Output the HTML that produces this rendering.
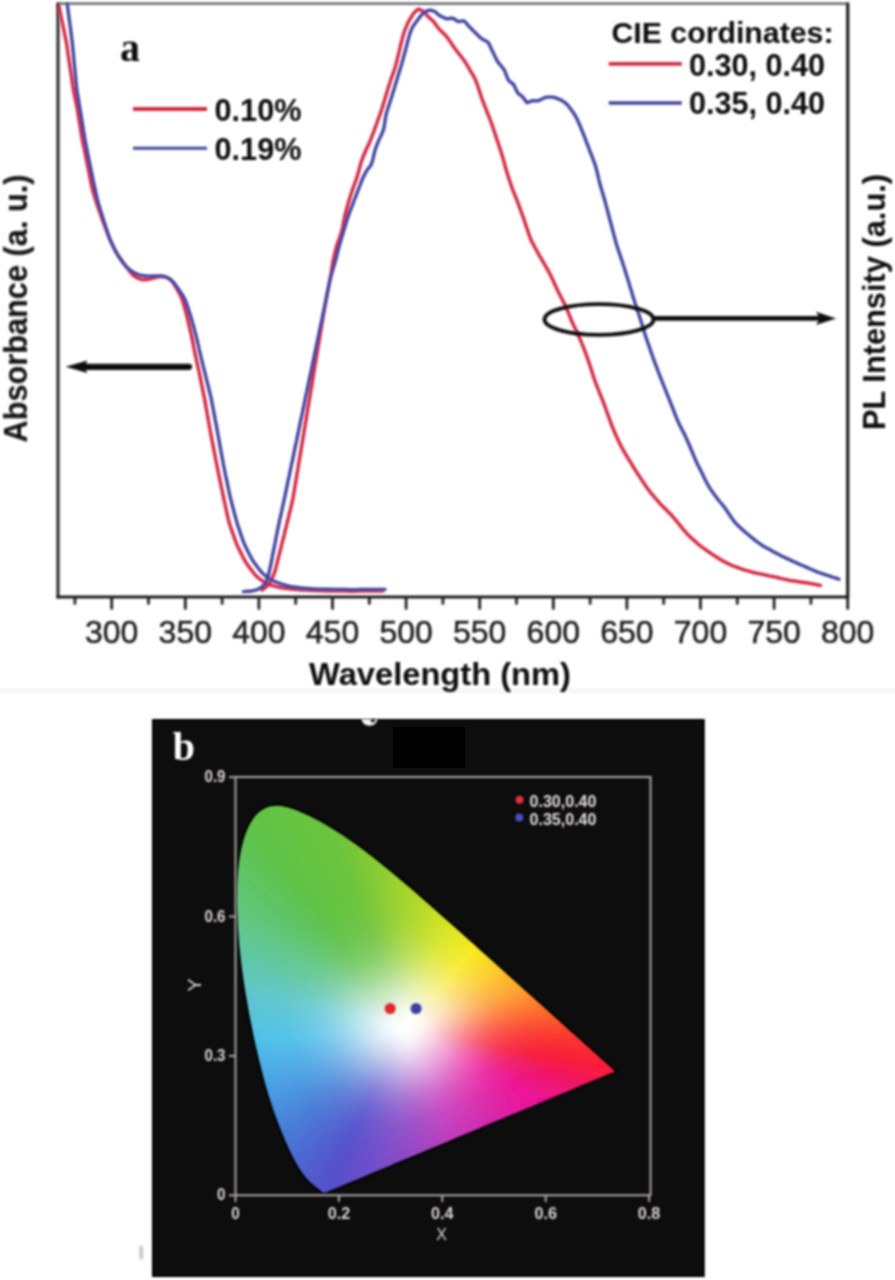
<!DOCTYPE html><html><head><meta charset="utf-8"><style>
html,body{margin:0;padding:0;background:#fff;width:895px;height:1280px;overflow:hidden}
svg{display:block;position:absolute;left:0;top:0}
text{font-family:"Liberation Sans",sans-serif}
</style></head><body>
<svg width="895" height="1280" viewBox="0 0 895 1280">
<defs><filter id="bl" filterUnits="userSpaceOnUse" x="0" y="0" width="895" height="1280"><feGaussianBlur stdDeviation="1"/></filter>
<filter id="bl3" filterUnits="userSpaceOnUse" x="0" y="0" width="895" height="1280"><feGaussianBlur stdDeviation="1"/></filter>
<filter id="blc" filterUnits="userSpaceOnUse" x="0" y="0" width="895" height="1280"><feGaussianBlur stdDeviation="1"/></filter>
<filter id="bl2" filterUnits="userSpaceOnUse" x="0" y="0" width="895" height="1280"><feGaussianBlur stdDeviation="1.2"/></filter>
<clipPath id="hs"><path d="M324.3,1193.1 L324.3,1193.1 L324.2,1193.1 L324.2,1193.1 L324.1,1193.1 L324.1,1193.1 L324.0,1193.0 L323.9,1193.0 L323.9,1193.0 L323.8,1193.0 L323.7,1192.9 L323.6,1192.9 L323.5,1192.8 L323.4,1192.7 L323.3,1192.7 L323.1,1192.6 L323.0,1192.5 L322.9,1192.4 L322.7,1192.3 L322.6,1192.2 L322.4,1192.1 L322.2,1191.9 L322.0,1191.8 L321.8,1191.6 L321.6,1191.5 L321.4,1191.3 L321.1,1191.1 L320.9,1190.9 L320.6,1190.7 L320.4,1190.4 L320.1,1190.2 L319.8,1190.0 L319.5,1189.7 L319.1,1189.4 L318.8,1189.2 L318.4,1188.9 L318.0,1188.5 L317.5,1188.2 L317.0,1187.8 L316.6,1187.4 L316.0,1187.0 L315.5,1186.6 L315.0,1186.2 L314.4,1185.7 L313.8,1185.2 L313.1,1184.7 L312.5,1184.1 L311.8,1183.5 L311.0,1182.9 L310.3,1182.2 L309.5,1181.4 L308.7,1180.7 L307.9,1179.8 L307.0,1178.9 L306.1,1177.8 L305.1,1176.7 L304.1,1175.3 L303.0,1173.8 L301.8,1172.2 L300.5,1170.3 L299.2,1168.3 L297.9,1166.1 L296.4,1163.6 L294.9,1161.0 L293.4,1158.0 L291.7,1154.8 L290.0,1151.2 L288.2,1147.3 L286.3,1143.0 L284.3,1138.4 L282.2,1133.3 L280.0,1127.9 L277.7,1122.0 L275.4,1115.7 L273.0,1108.9 L270.6,1101.6 L268.1,1093.8 L265.7,1085.5 L263.3,1076.7 L260.9,1067.3 L258.5,1057.5 L256.1,1047.3 L253.7,1036.5 L251.5,1025.5 L249.2,1014.1 L247.2,1002.6 L245.2,990.8 L243.4,979.0 L241.8,967.2 L240.4,955.5 L239.2,943.9 L238.3,932.4 L237.6,921.3 L237.1,910.4 L236.9,899.8 L237.0,889.5 L237.4,879.6 L238.1,870.2 L239.2,861.2 L240.5,852.8 L242.2,845.0 L244.2,837.8 L246.5,831.2 L249.1,825.4 L252.0,820.4 L255.1,816.1 L258.5,812.6 L262.0,809.9 L265.7,807.9 L269.5,806.6 L273.5,805.9 L277.5,805.8 L281.6,806.1 L285.7,806.9 L289.9,808.1 L294.1,809.5 L298.3,811.1 L302.6,812.9 L306.8,814.8 L310.9,816.8 L315.1,818.9 L319.1,821.1 L323.1,823.3 L327.1,825.6 L331.0,827.9 L334.8,830.3 L338.7,832.7 L342.5,835.2 L346.3,837.8 L350.0,840.4 L353.8,843.0 L357.6,845.8 L361.3,848.5 L365.1,851.3 L368.8,854.2 L372.6,857.1 L376.3,860.0 L380.0,862.9 L383.7,865.9 L387.4,868.9 L391.1,872.0 L394.8,875.1 L398.5,878.2 L402.2,881.3 L405.9,884.4 L409.6,887.6 L413.3,890.8 L417.0,894.0 L420.7,897.2 L424.4,900.4 L428.1,903.7 L431.8,906.9 L435.5,910.2 L439.1,913.4 L442.8,916.7 L446.5,920.0 L450.2,923.2 L453.9,926.5 L457.5,929.7 L461.2,933.0 L464.8,936.3 L468.4,939.5 L472.1,942.7 L475.7,946.0 L479.2,949.2 L482.8,952.4 L486.3,955.5 L489.8,958.7 L493.3,961.8 L496.8,965.0 L500.2,968.1 L503.6,971.1 L507.0,974.2 L510.4,977.2 L513.7,980.2 L516.9,983.1 L520.2,986.0 L523.4,988.9 L526.5,991.7 L529.6,994.5 L532.7,997.2 L535.7,999.9 L538.6,1002.6 L541.5,1005.1 L544.3,1007.7 L547.0,1010.1 L549.6,1012.5 L552.2,1014.8 L554.7,1017.0 L557.1,1019.2 L559.5,1021.3 L561.8,1023.4 L564.1,1025.5 L566.3,1027.4 L568.4,1029.4 L570.4,1031.2 L572.4,1033.0 L574.3,1034.6 L576.1,1036.3 L577.9,1037.8 L579.6,1039.3 L581.2,1040.8 L582.7,1042.2 L584.2,1043.5 L585.6,1044.8 L587.0,1046.0 L588.2,1047.2 L589.5,1048.3 L590.7,1049.3 L591.8,1050.4 L592.9,1051.3 L593.9,1052.2 L594.9,1053.1 L595.8,1054.0 L596.7,1054.8 L597.6,1055.5 L598.4,1056.3 L599.2,1057.0 L599.9,1057.6 L600.6,1058.3 L601.3,1058.9 L602.0,1059.5 L602.7,1060.1 L603.3,1060.7 L603.9,1061.3 L604.5,1061.8 L605.1,1062.3 L605.6,1062.8 L606.1,1063.2 L606.6,1063.7 L607.1,1064.1 L607.5,1064.5 L608.0,1064.9 L608.4,1065.3 L608.8,1065.6 L609.2,1065.9 L609.5,1066.3 L609.8,1066.5 L610.1,1066.8 L610.4,1067.1 L610.7,1067.3 L611.0,1067.6 L611.2,1067.8 L611.4,1068.0 L611.7,1068.2 L611.9,1068.4 L612.1,1068.6 L612.3,1068.8 L612.4,1068.9 L612.6,1069.1 L612.8,1069.2 L612.9,1069.3 L613.1,1069.5 L613.2,1069.6 L613.3,1069.7 L613.4,1069.8 L613.6,1069.9 L613.7,1070.0 L613.8,1070.1 L613.9,1070.2 L613.9,1070.3 L614.0,1070.3 L614.1,1070.4 L614.2,1070.5 L614.2,1070.5 L614.3,1070.6 L614.3,1070.6 L614.4,1070.7 L614.4,1070.7 L614.5,1070.8 L614.5,1070.8 L614.6,1070.8 L614.6,1070.9 L614.6,1070.9 L614.7,1070.9 L614.7,1071.0 L614.7,1071.0 L614.8,1071.0 L614.8,1071.0 L614.8,1071.1 L614.9,1071.1 L614.9,1071.1 L614.9,1071.1 L614.9,1071.2 L615.0,1071.2 L615.0,1071.2 L615.0,1071.3 L615.1,1071.3 L615.1,1071.3 L615.2,1071.4 L615.2,1071.4 L607.9,1074.4 L600.7,1077.5 L593.4,1080.5 L586.1,1083.6 L578.8,1086.6 L571.6,1089.7 L564.3,1092.7 L557.0,1095.7 L549.8,1098.8 L542.5,1101.8 L535.2,1104.9 L527.9,1107.9 L520.7,1110.9 L513.4,1114.0 L506.1,1117.0 L498.9,1120.1 L491.6,1123.1 L484.3,1126.1 L477.0,1129.2 L469.8,1132.2 L462.5,1135.3 L455.2,1138.3 L447.9,1141.4 L440.7,1144.4 L433.4,1147.4 L426.1,1150.5 L418.9,1153.5 L411.6,1156.6 L404.3,1159.6 L397.0,1162.6 L389.8,1165.7 L382.5,1168.7 L375.2,1171.8 L368.0,1174.8 L360.7,1177.9 L353.4,1180.9 L346.1,1183.9 L338.9,1187.0 L331.6,1190.0 Z"/></clipPath>
</defs>
<rect x="0" y="688" width="895" height="5.5" fill="#f8f8f8"/>
<g filter="url(#bl)">
<line x1="57" y1="3.6" x2="848" y2="3.6" stroke="#777" stroke-width="2.8"/>
<line x1="58" y1="2.5" x2="58" y2="598.5" stroke="#333" stroke-width="3.2"/>
<line x1="847.7" y1="2.5" x2="847.7" y2="598.5" stroke="#1e1c1b" stroke-width="3.2"/>
<line x1="56.5" y1="597" x2="849" y2="597" stroke="#1e1e1e" stroke-width="3.2"/>
<line x1="111.7" y1="597" x2="111.7" y2="609.5" stroke="#222" stroke-width="2.8"/>
<text x="111.7" y="642.5" font-size="32" fill="#222" stroke="#222" stroke-width="0.5" text-anchor="middle">300</text>
<line x1="185.3" y1="597" x2="185.3" y2="609.5" stroke="#222" stroke-width="2.8"/>
<text x="185.3" y="642.5" font-size="32" fill="#222" stroke="#222" stroke-width="0.5" text-anchor="middle">350</text>
<line x1="258.9" y1="597" x2="258.9" y2="609.5" stroke="#222" stroke-width="2.8"/>
<text x="258.9" y="642.5" font-size="32" fill="#222" stroke="#222" stroke-width="0.5" text-anchor="middle">400</text>
<line x1="332.5" y1="597" x2="332.5" y2="609.5" stroke="#222" stroke-width="2.8"/>
<text x="332.5" y="642.5" font-size="32" fill="#222" stroke="#222" stroke-width="0.5" text-anchor="middle">450</text>
<line x1="406.1" y1="597" x2="406.1" y2="609.5" stroke="#222" stroke-width="2.8"/>
<text x="406.1" y="642.5" font-size="32" fill="#222" stroke="#222" stroke-width="0.5" text-anchor="middle">500</text>
<line x1="479.7" y1="597" x2="479.7" y2="609.5" stroke="#222" stroke-width="2.8"/>
<text x="479.7" y="642.5" font-size="32" fill="#222" stroke="#222" stroke-width="0.5" text-anchor="middle">550</text>
<line x1="553.3" y1="597" x2="553.3" y2="609.5" stroke="#222" stroke-width="2.8"/>
<text x="553.3" y="642.5" font-size="32" fill="#222" stroke="#222" stroke-width="0.5" text-anchor="middle">600</text>
<line x1="626.9" y1="597" x2="626.9" y2="609.5" stroke="#222" stroke-width="2.8"/>
<text x="626.9" y="642.5" font-size="32" fill="#222" stroke="#222" stroke-width="0.5" text-anchor="middle">650</text>
<line x1="700.5" y1="597" x2="700.5" y2="609.5" stroke="#222" stroke-width="2.8"/>
<text x="700.5" y="642.5" font-size="32" fill="#222" stroke="#222" stroke-width="0.5" text-anchor="middle">700</text>
<line x1="774.1" y1="597" x2="774.1" y2="609.5" stroke="#222" stroke-width="2.8"/>
<text x="774.1" y="642.5" font-size="32" fill="#222" stroke="#222" stroke-width="0.5" text-anchor="middle">750</text>
<line x1="847.7" y1="597" x2="847.7" y2="609.5" stroke="#222" stroke-width="2.8"/>
<text x="847.7" y="642.5" font-size="32" fill="#222" stroke="#222" stroke-width="0.5" text-anchor="middle">800</text>
<line x1="74.9" y1="597" x2="74.9" y2="604.5" stroke="#222" stroke-width="2.8"/>
<line x1="148.5" y1="597" x2="148.5" y2="604.5" stroke="#222" stroke-width="2.8"/>
<line x1="222.1" y1="597" x2="222.1" y2="604.5" stroke="#222" stroke-width="2.8"/>
<line x1="295.7" y1="597" x2="295.7" y2="604.5" stroke="#222" stroke-width="2.8"/>
<line x1="369.3" y1="597" x2="369.3" y2="604.5" stroke="#222" stroke-width="2.8"/>
<line x1="442.9" y1="597" x2="442.9" y2="604.5" stroke="#222" stroke-width="2.8"/>
<line x1="516.5" y1="597" x2="516.5" y2="604.5" stroke="#222" stroke-width="2.8"/>
<line x1="590.1" y1="597" x2="590.1" y2="604.5" stroke="#222" stroke-width="2.8"/>
<line x1="663.7" y1="597" x2="663.7" y2="604.5" stroke="#222" stroke-width="2.8"/>
<line x1="737.3" y1="597" x2="737.3" y2="604.5" stroke="#222" stroke-width="2.8"/>
<line x1="810.9" y1="597" x2="810.9" y2="604.5" stroke="#222" stroke-width="2.8"/>
<text x="309" y="684.5" font-size="31" font-weight="bold" fill="#0a0a0a" textLength="262" lengthAdjust="spacingAndGlyphs">Wavelength (nm)</text>
<text transform="translate(27,442.5) rotate(-90)" x="0" y="0" font-size="32.5" font-weight="bold" fill="#0a0a0a" textLength="268" lengthAdjust="spacingAndGlyphs">Absorbance (a. u.)</text>
<text transform="translate(884.5,430) rotate(-90)" x="0" y="0" font-size="32" font-weight="bold" fill="#0a0a0a" textLength="256" lengthAdjust="spacingAndGlyphs">PL Intensity (a.u.)</text>
<text x="120" y="61.2" font-family="Liberation Serif" font-size="40" font-weight="bold" fill="#111" style="font-family:'Liberation Serif',serif">a</text>
<line x1="133" y1="109" x2="207" y2="109" stroke="#d42c44" stroke-width="3.8"/>
<line x1="133" y1="148.3" x2="207" y2="148.3" stroke="#40449f" stroke-width="3"/>
<text x="214.5" y="120.5" font-size="31.5" font-weight="bold" fill="#0a0a0a" textLength="87" lengthAdjust="spacingAndGlyphs">0.10%</text>
<text x="214.5" y="160" font-size="31.5" font-weight="bold" fill="#0a0a0a" textLength="87" lengthAdjust="spacingAndGlyphs">0.19%</text>
<text x="611.5" y="43" font-size="30" font-weight="bold" fill="#0a0a0a" textLength="222" lengthAdjust="spacingAndGlyphs">CIE cordinates:</text>
<line x1="608.7" y1="63.9" x2="681.8" y2="63.9" stroke="#d42c44" stroke-width="3.8"/>
<line x1="608.7" y1="103" x2="681.8" y2="103" stroke="#40449f" stroke-width="3.4"/>
<text x="689" y="75.5" font-size="31" font-weight="bold" fill="#0a0a0a" textLength="136" lengthAdjust="spacingAndGlyphs">0.30, 0.40</text>
<text x="689" y="114.3" font-size="31" font-weight="bold" fill="#0a0a0a" textLength="136" lengthAdjust="spacingAndGlyphs">0.35, 0.40</text>
</g><g filter="url(#blc)">
<path d="M58.9,6.7 L59.3,8.7 L59.7,10.6 L60.2,12.6 L60.6,14.5 L61.0,16.5 L61.4,18.4 L61.8,20.4 L62.2,22.4 L62.7,24.3 L63.1,26.3 L63.5,28.2 L63.9,30.2 L64.3,32.1 L64.7,34.1 L65.1,36.1 L65.5,38.0 L65.9,40.0 L66.3,42.0 L66.6,43.9 L66.9,45.9 L67.2,47.9 L67.5,49.9 L67.8,51.9 L68.0,53.8 L68.3,55.8 L68.6,57.8 L68.9,59.8 L69.2,61.8 L69.5,63.7 L69.8,65.7 L70.1,67.7 L70.4,69.7 L70.7,71.7 L71.0,73.6 L71.3,75.6 L71.6,77.6 L71.9,79.6 L72.1,81.5 L72.4,83.5 L72.7,85.5 L73.1,87.5 L73.4,89.5 L73.7,91.4 L74.1,93.4 L74.5,95.4 L74.9,97.3 L75.3,99.3 L75.7,101.2 L76.1,103.2 L76.5,105.2 L76.9,107.1 L77.3,109.1 L77.6,111.1 L78.0,113.0 L78.3,115.0 L78.6,117.0 L78.9,119.0 L79.2,120.9 L79.6,122.9 L79.9,124.9 L80.2,126.9 L80.5,128.8 L80.8,130.8 L81.1,132.8 L81.5,134.8 L81.8,136.7 L82.1,138.7 L82.5,140.7 L82.9,142.6 L83.3,144.6 L83.7,146.6 L84.1,148.5 L84.5,150.5 L84.9,152.4 L85.3,154.4 L85.7,156.4 L86.1,158.3 L86.5,160.3 L86.9,162.2 L87.3,164.2 L87.7,166.2 L88.1,168.1 L88.5,170.1 L88.9,172.1 L89.3,174.0 L89.7,176.0 L90.0,177.9 L90.4,179.9 L90.8,181.9 L91.2,183.8 L91.6,185.8 L92.0,187.7 L92.5,189.7 L93.0,191.6 L93.6,193.5 L94.2,195.5 L94.8,197.4 L95.4,199.3 L96.0,201.2 L96.6,203.1 L97.2,205.0 L97.9,206.9 L98.5,208.8 L99.2,210.6 L99.9,212.5 L100.5,214.4 L101.2,216.3 L101.9,218.2 L102.5,220.1 L103.2,222.0 L103.9,223.8 L104.6,225.7 L105.3,227.6 L106.0,229.5 L106.7,231.3 L107.4,233.2 L108.1,235.1 L108.9,236.9 L109.6,238.8 L110.4,240.6 L111.3,242.4 L112.1,244.2 L113.0,246.0 L113.9,247.8 L114.8,249.6 L115.8,251.4 L116.7,253.1 L117.8,254.8 L118.9,256.5 L120.0,258.1 L121.2,259.8 L122.3,261.4 L123.5,263.0 L124.7,264.6 L125.9,266.2 L127.0,267.8 L128.2,269.4 L129.5,271.0 L130.7,272.6 L132.0,274.1 L133.4,275.4 L134.9,276.6 L136.6,277.6 L138.4,278.4 L140.2,279.1 L142.1,279.5 L144.0,279.7 L145.9,279.7 L147.8,279.4 L149.8,279.0 L151.7,278.5 L153.7,278.0 L155.6,277.5 L157.5,277.1 L159.4,276.7 L161.4,276.6 L163.3,276.7 L165.2,277.1 L167.0,277.7 L168.8,278.5 L170.3,279.6 L171.7,280.9 L172.9,282.4 L174.0,284.1 L175.0,285.8 L176.0,287.5 L177.0,289.2 L178.0,291.0 L179.0,292.7 L179.9,294.5 L180.8,296.3 L181.6,298.1 L182.3,299.9 L183.0,301.8 L183.5,303.7 L184.1,305.7 L184.6,307.6 L185.1,309.5 L185.7,311.5 L186.2,313.4 L186.7,315.3 L187.2,317.3 L187.7,319.2 L188.1,321.2 L188.6,323.1 L189.0,325.0 L189.5,327.0 L189.9,329.0 L190.4,330.9 L190.8,332.9 L191.3,334.8 L191.7,336.8 L192.1,338.7 L192.5,340.7 L192.9,342.6 L193.3,344.6 L193.6,346.6 L194.0,348.5 L194.4,350.5 L194.8,352.5 L195.2,354.4 L195.6,356.4 L196.1,358.3 L196.5,360.3 L196.9,362.2 L197.4,364.2 L197.8,366.1 L198.2,368.1 L198.7,370.1 L199.1,372.0 L199.5,374.0 L199.9,375.9 L200.3,377.9 L200.7,379.8 L201.1,381.8 L201.5,383.8 L201.9,385.7 L202.3,387.7 L202.7,389.7 L203.1,391.6 L203.5,393.6 L203.9,395.5 L204.3,397.5 L204.7,399.5 L205.0,401.4 L205.4,403.4 L205.7,405.4 L206.1,407.3 L206.4,409.3 L206.8,411.3 L207.1,413.3 L207.5,415.2 L207.8,417.2 L208.2,419.2 L208.5,421.1 L208.9,423.1 L209.2,425.1 L209.6,427.1 L209.9,429.0 L210.3,431.0 L210.6,433.0 L211.0,434.9 L211.4,436.9 L211.8,438.9 L212.1,440.8 L212.5,442.8 L212.9,444.8 L213.3,446.7 L213.6,448.7 L214.0,450.7 L214.4,452.6 L214.8,454.6 L215.2,456.5 L215.5,458.5 L215.9,460.5 L216.3,462.4 L216.7,464.4 L217.1,466.4 L217.5,468.3 L217.9,470.3 L218.3,472.3 L218.7,474.2 L219.1,476.2 L219.5,478.1 L219.9,480.1 L220.3,482.0 L220.7,484.0 L221.1,486.0 L221.5,487.9 L222.0,489.9 L222.4,491.8 L222.8,493.8 L223.2,495.8 L223.6,497.7 L224.0,499.7 L224.4,501.6 L224.9,503.6 L225.3,505.5 L225.7,507.5 L226.1,509.5 L226.5,511.4 L227.0,513.4 L227.4,515.3 L227.8,517.3 L228.3,519.2 L228.8,521.2 L229.3,523.1 L229.9,525.0 L230.5,526.9 L231.2,528.8 L231.9,530.7 L232.5,532.6 L233.2,534.4 L233.9,536.3 L234.5,538.2 L235.2,540.1 L235.9,542.0 L236.6,543.8 L237.4,545.7 L238.2,547.5 L239.1,549.3 L240.0,551.1 L240.9,552.9 L241.8,554.7 L242.7,556.5 L243.6,558.2 L244.5,560.0 L245.5,561.7 L246.6,563.4 L247.7,565.1 L248.9,566.7 L250.1,568.3 L251.3,569.9 L252.5,571.5 L253.7,573.0 L255.0,574.6 L256.3,576.0 L257.8,577.4 L259.3,578.6 L260.9,579.8 L262.6,580.9 L264.3,582.0 L266.0,583.0 L267.7,583.9 L269.5,584.6 L271.4,585.3 L273.3,585.9 L275.3,586.4 L277.2,586.9 L279.1,587.3 L281.1,587.7 L283.1,588.1 L285.0,588.3 L287.0,588.6 L289.0,588.8 L291.0,589.0 L293.0,589.2 L295.0,589.4 L297.0,589.6 L299.0,589.8 L301.0,589.9 L303.0,590.0 L305.0,590.1 L307.0,590.2 L309.0,590.3 L311.0,590.4 L313.0,590.5 L315.0,590.6 L317.0,590.6 L319.0,590.7 L321.0,590.8 L323.0,590.8 L325.0,590.9 L327.0,590.9 L329.0,590.9 L331.0,590.9 L333.0,591.0 L335.0,591.0 L337.0,591.0 L339.0,591.1 L341.0,591.1 L343.0,591.1 L345.0,591.1 L347.0,591.2 L349.0,591.2 L351.0,591.2 L353.0,591.2 L355.0,591.2 L357.0,591.2 L359.0,591.1 L361.0,591.1 L363.0,591.1 L365.0,591.1 L367.0,591.1 L369.0,591.1 L371.0,591.1 L373.0,591.1 L375.0,591.0 L377.0,591.0 L379.0,591.0 L381.0,591.0 L383.0,591.0 L383.0,591.0" fill="none" stroke="#d42c44" stroke-width="3.5" stroke-linejoin="round" stroke-linecap="round"/>
<path d="M262.0,590.0 L263.6,588.8 L265.2,587.6 L266.7,586.4 L268.1,585.0 L269.3,583.5 L270.4,581.9 L271.3,580.1 L272.1,578.3 L272.9,576.5 L273.7,574.7 L274.4,572.8 L275.0,570.9 L275.6,569.0 L276.1,567.1 L276.6,565.1 L277.1,563.2 L277.6,561.2 L278.0,559.3 L278.5,557.4 L279.0,555.4 L279.5,553.5 L280.0,551.5 L280.5,549.6 L281.0,547.7 L281.4,545.7 L281.9,543.8 L282.4,541.8 L282.9,539.9 L283.4,538.0 L283.9,536.0 L284.4,534.1 L284.8,532.1 L285.3,530.2 L285.8,528.3 L286.3,526.3 L286.8,524.4 L287.2,522.4 L287.7,520.5 L288.2,518.5 L288.7,516.6 L289.1,514.6 L289.6,512.7 L290.1,510.8 L290.6,508.8 L291.0,506.9 L291.5,504.9 L291.9,503.0 L292.4,501.0 L292.8,499.1 L293.2,497.1 L293.5,495.1 L293.8,493.2 L294.2,491.2 L294.5,489.2 L294.8,487.2 L295.1,485.3 L295.5,483.3 L295.8,481.3 L296.1,479.4 L296.5,477.4 L296.8,475.4 L297.1,473.4 L297.4,471.5 L297.8,469.5 L298.1,467.5 L298.4,465.5 L298.7,463.6 L299.1,461.6 L299.4,459.6 L299.7,457.6 L300.1,455.7 L300.4,453.7 L300.7,451.7 L301.0,449.8 L301.4,447.8 L301.7,445.8 L302.0,443.8 L302.4,441.9 L302.7,439.9 L303.0,437.9 L303.3,435.9 L303.7,434.0 L304.0,432.0 L304.3,430.0 L304.6,428.0 L305.0,426.1 L305.3,424.1 L305.6,422.1 L306.0,420.1 L306.3,418.2 L306.6,416.2 L306.9,414.2 L307.3,412.3 L307.6,410.3 L307.9,408.3 L308.2,406.3 L308.6,404.4 L308.9,402.4 L309.2,400.4 L309.6,398.4 L309.9,396.5 L310.2,394.5 L310.5,392.5 L310.9,390.5 L311.2,388.6 L311.5,386.6 L311.9,384.6 L312.2,382.7 L312.5,380.7 L312.8,378.7 L313.2,376.7 L313.5,374.8 L313.8,372.8 L314.1,370.8 L314.5,368.8 L314.8,366.9 L315.1,364.9 L315.5,362.9 L315.8,360.9 L316.1,359.0 L316.4,357.0 L316.8,355.0 L317.1,353.1 L317.4,351.1 L317.7,349.1 L318.1,347.1 L318.4,345.2 L318.7,343.2 L319.1,341.2 L319.4,339.2 L319.7,337.3 L320.0,335.3 L320.4,333.3 L320.7,331.3 L321.0,329.4 L321.4,327.4 L321.7,325.4 L322.0,323.4 L322.3,321.5 L322.7,319.5 L323.0,317.5 L323.3,315.6 L323.6,313.6 L324.0,311.6 L324.3,309.6 L324.6,307.7 L325.0,305.7 L325.3,303.7 L325.6,301.7 L326.0,299.8 L326.4,297.8 L326.7,295.8 L327.1,293.9 L327.5,291.9 L327.9,290.0 L328.3,288.0 L328.7,286.0 L329.1,284.1 L329.5,282.1 L329.9,280.2 L330.2,278.2 L330.6,276.2 L330.9,274.2 L331.2,272.3 L331.5,270.3 L331.8,268.3 L332.1,266.3 L332.5,264.4 L332.8,262.4 L333.2,260.4 L333.6,258.5 L334.0,256.5 L334.5,254.6 L334.9,252.6 L335.4,250.7 L335.9,248.7 L336.4,246.8 L337.0,244.9 L337.6,243.0 L338.3,241.1 L339.0,239.3 L339.7,237.4 L340.3,235.5 L341.0,233.6 L341.5,231.7 L342.0,229.8 L342.5,227.8 L342.9,225.9 L343.3,223.9 L343.6,221.9 L344.0,220.0 L344.4,218.0 L344.8,216.0 L345.3,214.1 L345.8,212.2 L346.3,210.2 L346.8,208.3 L347.3,206.4 L347.9,204.4 L348.4,202.5 L349.0,200.6 L349.6,198.7 L350.2,196.8 L350.8,194.9 L351.4,193.0 L352.0,191.1 L352.7,189.2 L353.3,187.3 L354.0,185.4 L354.7,183.5 L355.4,181.7 L356.1,179.8 L356.7,177.9 L357.3,176.0 L357.9,174.1 L358.4,172.1 L359.0,170.2 L359.5,168.3 L360.0,166.3 L360.5,164.4 L361.1,162.5 L361.7,160.6 L362.4,158.7 L363.1,156.9 L363.9,155.0 L364.7,153.2 L365.4,151.3 L366.2,149.5 L367.0,147.7 L367.9,145.9 L368.8,144.1 L369.6,142.3 L370.4,140.4 L371.1,138.5 L371.8,136.7 L372.5,134.8 L373.3,132.9 L374.0,131.1 L374.6,129.2 L375.3,127.3 L376.0,125.4 L376.7,123.5 L377.3,121.7 L378.0,119.8 L378.7,117.9 L379.4,116.0 L380.1,114.1 L380.7,112.2 L381.4,110.4 L382.0,108.5 L382.6,106.6 L383.2,104.6 L383.8,102.7 L384.4,100.8 L384.9,98.9 L385.5,97.0 L386.1,95.1 L386.7,93.1 L387.2,91.2 L387.8,89.3 L388.4,87.4 L389.0,85.5 L389.6,83.6 L390.2,81.7 L390.8,79.8 L391.5,77.9 L392.2,76.0 L392.8,74.1 L393.5,72.2 L394.2,70.3 L394.8,68.5 L395.4,66.5 L395.9,64.6 L396.4,62.7 L396.9,60.7 L397.4,58.8 L397.8,56.9 L398.3,54.9 L398.8,53.0 L399.2,51.0 L399.7,49.1 L400.2,47.1 L400.6,45.2 L401.1,43.2 L401.6,41.3 L402.1,39.4 L402.6,37.4 L403.1,35.5 L403.7,33.6 L404.3,31.7 L405.0,29.8 L405.8,28.0 L406.5,26.1 L407.3,24.3 L408.1,22.4 L409.1,20.7 L410.1,19.0 L411.1,17.3 L412.2,15.6 L413.3,13.9 L414.5,12.4 L415.9,11.0 L417.4,9.6 L419.0,9.2 L420.7,10.0 L422.5,10.9 L424.1,12.0 L425.4,13.5 L426.7,15.0 L428.1,16.5 L429.5,17.9 L431.0,19.2 L432.5,20.5 L433.9,21.9 L435.1,23.5 L436.2,25.2 L437.4,26.8 L438.6,28.4 L440.0,29.9 L441.4,31.3 L442.8,32.7 L444.2,34.1 L445.6,35.5 L447.0,37.0 L448.1,38.6 L449.2,40.3 L450.4,41.9 L451.5,43.6 L452.6,45.2 L453.7,46.9 L454.9,48.5 L456.1,50.1 L457.3,51.7 L458.6,53.3 L459.8,54.9 L461.0,56.4 L462.2,58.0 L463.5,59.6 L464.6,61.2 L465.7,62.9 L466.7,64.6 L467.8,66.3 L468.8,68.0 L469.8,69.8 L470.8,71.5 L471.8,73.2 L472.9,74.9 L473.8,76.6 L474.8,78.4 L475.6,80.2 L476.3,82.1 L477.0,83.9 L477.7,85.8 L478.3,87.7 L479.0,89.6 L479.6,91.5 L480.2,93.4 L480.8,95.3 L481.4,97.2 L482.1,99.1 L482.8,101.0 L483.5,102.9 L484.2,104.7 L484.9,106.6 L485.7,108.4 L486.4,110.3 L487.2,112.2 L487.9,114.0 L488.6,115.9 L489.4,117.7 L490.1,119.6 L490.8,121.5 L491.5,123.3 L492.2,125.2 L492.8,127.1 L493.4,129.0 L494.1,130.9 L494.7,132.8 L495.3,134.7 L496.0,136.6 L496.6,138.5 L497.2,140.4 L497.9,142.3 L498.5,144.2 L499.1,146.1 L499.8,148.0 L500.4,149.9 L501.0,151.8 L501.6,153.7 L502.2,155.6 L502.8,157.5 L503.3,159.4 L503.9,161.4 L504.4,163.3 L504.9,165.2 L505.4,167.2 L506.0,169.1 L506.5,171.0 L507.1,172.9 L507.7,174.8 L508.3,176.8 L508.9,178.7 L509.6,180.6 L510.2,182.4 L510.8,184.3 L511.5,186.2 L512.1,188.1 L512.8,190.0 L513.6,191.9 L514.3,193.7 L515.1,195.6 L515.8,197.4 L516.6,199.3 L517.3,201.1 L518.0,203.0 L518.7,204.9 L519.4,206.8 L520.1,208.6 L520.8,210.5 L521.4,212.4 L522.1,214.3 L522.8,216.2 L523.5,218.1 L524.1,219.9 L524.7,221.8 L525.4,223.7 L526.0,225.6 L526.6,227.5 L527.3,229.4 L527.9,231.3 L528.5,233.2 L529.2,235.1 L529.9,237.0 L530.6,238.8 L531.4,240.7 L532.3,242.4 L533.2,244.2 L534.2,246.0 L535.1,247.7 L536.1,249.5 L537.0,251.3 L538.0,253.0 L539.0,254.8 L540.0,256.5 L541.0,258.2 L542.0,260.0 L543.0,261.7 L544.0,263.4 L545.0,265.1 L546.0,266.9 L547.0,268.6 L548.0,270.3 L548.9,272.1 L549.9,273.9 L550.8,275.6 L551.6,277.5 L552.5,279.3 L553.3,281.1 L554.1,282.9 L555.0,284.7 L555.8,286.5 L556.7,288.3 L557.5,290.2 L558.4,292.0 L559.3,293.7 L560.2,295.5 L561.1,297.3 L562.0,299.1 L562.9,300.9 L563.8,302.6 L564.7,304.4 L565.6,306.2 L566.4,308.1 L567.2,309.9 L568.0,311.7 L568.7,313.6 L569.5,315.5 L570.2,317.3 L571.0,319.2 L571.7,321.0 L572.5,322.8 L573.3,324.7 L574.2,326.5 L575.1,328.3 L576.0,330.1 L576.8,331.9 L577.7,333.7 L578.5,335.5 L579.3,337.3 L580.1,339.2 L580.9,341.0 L581.6,342.9 L582.4,344.7 L583.1,346.6 L583.8,348.4 L584.6,350.3 L585.3,352.2 L586.0,354.0 L586.6,355.9 L587.3,357.8 L588.0,359.7 L588.7,361.6 L589.3,363.5 L589.9,365.4 L590.6,367.3 L591.2,369.2 L591.7,371.1 L592.3,373.0 L592.9,374.9 L593.5,376.8 L594.2,378.7 L594.8,380.6 L595.5,382.5 L596.2,384.3 L597.0,386.2 L597.7,388.1 L598.5,389.9 L599.2,391.8 L599.9,393.6 L600.7,395.5 L601.4,397.4 L602.2,399.2 L602.9,401.1 L603.6,402.9 L604.3,404.8 L605.0,406.7 L605.7,408.6 L606.4,410.5 L607.0,412.3 L607.7,414.2 L608.4,416.1 L609.1,418.0 L609.8,419.9 L610.4,421.7 L611.1,423.6 L611.8,425.5 L612.6,427.3 L613.3,429.2 L614.1,431.0 L614.9,432.9 L615.7,434.7 L616.5,436.5 L617.4,438.4 L618.2,440.2 L619.0,442.0 L619.9,443.8 L620.8,445.6 L621.7,447.3 L622.7,449.1 L623.7,450.8 L624.7,452.5 L625.7,454.3 L626.7,456.0 L627.7,457.7 L628.8,459.4 L629.8,461.1 L630.9,462.9 L631.9,464.6 L632.9,466.3 L634.0,468.0 L635.1,469.7 L636.1,471.4 L637.2,473.0 L638.3,474.7 L639.4,476.4 L640.5,478.1 L641.6,479.7 L642.7,481.4 L643.8,483.1 L644.9,484.7 L646.0,486.4 L647.2,488.0 L648.4,489.6 L649.6,491.2 L650.8,492.8 L652.1,494.3 L653.4,495.8 L654.7,497.4 L656.0,498.9 L657.3,500.4 L658.6,501.9 L659.9,503.4 L661.3,504.9 L662.7,506.3 L664.1,507.7 L665.5,509.1 L666.9,510.5 L668.3,512.0 L669.8,513.4 L671.1,514.8 L672.5,516.3 L673.8,517.8 L675.1,519.3 L676.4,520.9 L677.6,522.4 L678.9,524.0 L680.1,525.6 L681.4,527.1 L682.6,528.7 L683.9,530.2 L685.2,531.7 L686.5,533.2 L687.9,534.7 L689.3,536.1 L690.8,537.4 L692.2,538.8 L693.7,540.1 L695.2,541.4 L696.7,542.8 L698.2,544.1 L699.8,545.3 L701.3,546.6 L702.9,547.8 L704.6,548.9 L706.2,550.1 L707.8,551.3 L709.5,552.4 L711.1,553.5 L712.8,554.6 L714.5,555.7 L716.1,556.8 L717.8,557.9 L719.6,558.9 L721.3,559.9 L723.0,560.9 L724.7,561.9 L726.5,562.9 L728.3,563.7 L730.1,564.6 L731.9,565.3 L733.8,566.1 L735.7,566.8 L737.5,567.5 L739.4,568.2 L741.3,568.8 L743.2,569.5 L745.1,570.1 L747.0,570.6 L748.9,571.2 L750.9,571.8 L752.8,572.3 L754.7,572.8 L756.7,573.2 L758.6,573.6 L760.6,574.0 L762.6,574.4 L764.5,574.8 L766.5,575.2 L768.4,575.7 L770.4,576.1 L772.3,576.5 L774.3,576.9 L776.3,577.3 L778.2,577.7 L780.2,578.2 L782.1,578.6 L784.1,579.1 L786.0,579.5 L788.0,580.0 L789.9,580.4 L791.9,580.7 L793.9,581.0 L795.8,581.3 L797.8,581.6 L799.8,581.9 L801.8,582.2 L803.8,582.5 L805.7,582.8 L807.7,583.1 L809.7,583.4 L811.6,583.8 L813.6,584.1 L815.6,584.5 L817.5,584.9 L819.5,585.2 L820.5,585.4" fill="none" stroke="#d42c44" stroke-width="3.5" stroke-linejoin="round" stroke-linecap="round"/>
<path d="M67.3,4.5 L67.6,6.5 L67.8,8.5 L68.1,10.5 L68.4,12.4 L68.6,14.4 L68.9,16.4 L69.1,18.4 L69.4,20.4 L69.7,22.4 L69.9,24.3 L70.2,26.3 L70.5,28.3 L70.7,30.3 L71.0,32.3 L71.2,34.3 L71.5,36.2 L71.7,38.2 L72.0,40.2 L72.2,42.2 L72.4,44.2 L72.6,46.2 L72.8,48.2 L73.0,50.2 L73.2,52.2 L73.4,54.2 L73.6,56.1 L73.7,58.1 L73.9,60.1 L74.1,62.1 L74.3,64.1 L74.5,66.1 L74.7,68.1 L74.9,70.1 L75.1,72.1 L75.3,74.1 L75.5,76.1 L75.7,78.1 L75.8,80.1 L76.0,82.0 L76.2,84.0 L76.4,86.0 L76.7,88.0 L76.9,90.0 L77.2,92.0 L77.5,94.0 L77.8,95.9 L78.1,97.9 L78.5,99.9 L78.8,101.9 L79.1,103.8 L79.5,105.8 L79.8,107.8 L80.1,109.7 L80.4,111.7 L80.8,113.7 L81.1,115.7 L81.4,117.6 L81.7,119.6 L82.1,121.6 L82.4,123.6 L82.7,125.5 L83.0,127.5 L83.3,129.5 L83.6,131.5 L84.0,133.5 L84.3,135.4 L84.6,137.4 L84.9,139.4 L85.3,141.3 L85.7,143.3 L86.1,145.3 L86.4,147.2 L86.8,149.2 L87.2,151.2 L87.6,153.1 L88.0,155.1 L88.4,157.0 L88.8,159.0 L89.2,161.0 L89.6,162.9 L90.0,164.9 L90.4,166.9 L90.8,168.8 L91.2,170.8 L91.6,172.7 L92.0,174.7 L92.4,176.7 L92.8,178.6 L93.2,180.6 L93.6,182.5 L94.1,184.5 L94.5,186.4 L94.9,188.4 L95.3,190.4 L95.7,192.3 L96.1,194.3 L96.6,196.2 L97.0,198.2 L97.5,200.1 L98.1,202.0 L98.6,204.0 L99.2,205.9 L99.8,207.8 L100.3,209.7 L100.9,211.6 L101.5,213.5 L102.1,215.5 L102.7,217.4 L103.3,219.3 L103.9,221.2 L104.5,223.1 L105.1,225.0 L105.7,226.9 L106.4,228.8 L107.0,230.7 L107.6,232.6 L108.3,234.5 L108.9,236.4 L109.6,238.3 L110.3,240.1 L111.1,242.0 L111.9,243.8 L112.8,245.6 L113.7,247.4 L114.6,249.2 L115.5,250.9 L116.4,252.7 L117.4,254.4 L118.4,256.1 L119.5,257.8 L120.7,259.4 L121.9,261.1 L123.0,262.7 L124.3,264.3 L125.5,265.8 L126.9,267.2 L128.4,268.5 L129.9,269.8 L131.5,271.0 L133.2,272.1 L134.8,273.1 L136.6,273.9 L138.4,274.6 L140.3,275.1 L142.3,275.5 L144.3,275.7 L146.2,276.0 L148.2,276.1 L150.2,276.1 L152.2,276.1 L154.2,276.0 L156.2,275.9 L158.2,275.9 L160.2,275.9 L162.1,276.0 L164.0,276.4 L165.9,277.0 L167.7,277.8 L169.4,278.7 L170.9,279.9 L172.3,281.2 L173.7,282.6 L174.9,284.2 L176.1,285.8 L177.3,287.4 L178.4,289.0 L179.6,290.7 L180.7,292.3 L181.8,294.0 L182.9,295.7 L183.9,297.4 L184.8,299.2 L185.6,301.0 L186.3,302.8 L186.9,304.7 L187.6,306.6 L188.2,308.5 L188.8,310.4 L189.4,312.3 L190.0,314.2 L190.6,316.1 L191.2,318.1 L191.8,320.0 L192.3,321.9 L192.8,323.8 L193.4,325.8 L193.9,327.7 L194.4,329.6 L194.9,331.6 L195.4,333.5 L195.9,335.4 L196.4,337.4 L196.9,339.3 L197.4,341.3 L197.8,343.2 L198.3,345.2 L198.7,347.1 L199.1,349.1 L199.6,351.0 L200.0,353.0 L200.5,354.9 L201.0,356.9 L201.4,358.8 L201.9,360.8 L202.4,362.7 L202.9,364.6 L203.3,366.6 L203.8,368.5 L204.3,370.5 L204.8,372.4 L205.3,374.4 L205.8,376.3 L206.2,378.2 L206.7,380.2 L207.2,382.1 L207.7,384.1 L208.2,386.0 L208.7,387.9 L209.1,389.9 L209.6,391.8 L210.1,393.8 L210.5,395.7 L211.0,397.7 L211.4,399.6 L211.8,401.6 L212.2,403.6 L212.5,405.5 L212.9,407.5 L213.3,409.5 L213.7,411.4 L214.0,413.4 L214.4,415.4 L214.8,417.3 L215.1,419.3 L215.5,421.3 L215.9,423.2 L216.3,425.2 L216.6,427.2 L217.0,429.1 L217.4,431.1 L217.7,433.1 L218.1,435.0 L218.4,437.0 L218.8,439.0 L219.1,440.9 L219.5,442.9 L219.8,444.9 L220.2,446.8 L220.6,448.8 L220.9,450.8 L221.3,452.8 L221.6,454.7 L222.0,456.7 L222.3,458.7 L222.7,460.6 L223.1,462.6 L223.4,464.6 L223.8,466.5 L224.2,468.5 L224.6,470.5 L225.0,472.4 L225.4,474.4 L225.8,476.3 L226.2,478.3 L226.7,480.2 L227.1,482.2 L227.5,484.2 L227.9,486.1 L228.3,488.1 L228.7,490.0 L229.1,492.0 L229.5,494.0 L230.0,495.9 L230.4,497.9 L230.9,499.8 L231.4,501.7 L231.9,503.7 L232.4,505.6 L232.9,507.6 L233.4,509.5 L233.9,511.4 L234.4,513.4 L235.0,515.3 L235.5,517.2 L236.0,519.2 L236.5,521.1 L237.1,523.0 L237.7,524.9 L238.3,526.8 L238.9,528.7 L239.6,530.6 L240.2,532.5 L240.8,534.4 L241.5,536.3 L242.1,538.2 L242.8,540.1 L243.5,541.9 L244.3,543.8 L245.1,545.6 L246.0,547.4 L246.9,549.2 L247.7,551.0 L248.6,552.8 L249.5,554.6 L250.5,556.3 L251.4,558.1 L252.4,559.8 L253.5,561.5 L254.6,563.1 L255.8,564.8 L257.0,566.4 L258.2,568.0 L259.4,569.5 L260.7,571.1 L262.0,572.6 L263.4,574.0 L264.8,575.3 L266.4,576.6 L268.0,577.8 L269.6,578.9 L271.3,579.9 L273.1,580.8 L274.9,581.6 L276.8,582.3 L278.6,583.0 L280.5,583.7 L282.4,584.3 L284.3,584.9 L286.2,585.5 L288.2,586.0 L290.1,586.4 L292.1,586.7 L294.1,587.0 L296.0,587.2 L298.0,587.5 L300.0,587.8 L302.0,588.0 L304.0,588.2 L306.0,588.4 L308.0,588.5 L310.0,588.6 L312.0,588.8 L314.0,588.9 L316.0,589.0 L318.0,589.1 L320.0,589.1 L322.0,589.2 L324.0,589.2 L326.0,589.3 L328.0,589.3 L330.0,589.3 L332.0,589.4 L334.0,589.4 L336.0,589.4 L338.0,589.4 L340.0,589.5 L342.0,589.5 L344.0,589.5 L346.0,589.5 L348.0,589.6 L350.0,589.6 L352.0,589.6 L354.0,589.6 L356.0,589.6 L358.0,589.6 L360.0,589.5 L362.0,589.5 L364.0,589.5 L366.0,589.5 L368.0,589.5 L370.0,589.5 L372.0,589.5 L374.0,589.5 L376.0,589.5 L378.0,589.4 L380.0,589.4 L382.0,589.4 L384.0,589.4 L385.0,589.4" fill="none" stroke="#40449f" stroke-width="3.4" stroke-linejoin="round" stroke-linecap="round"/>
<path d="M243.5,591.6 L245.5,591.5 L247.5,591.3 L249.5,591.2 L251.5,591.0 L253.4,590.6 L255.3,590.2 L257.2,589.6 L259.0,588.8 L260.7,587.8 L262.2,586.7 L263.6,585.3 L264.8,583.8 L265.9,582.2 L266.7,580.4 L267.4,578.6 L268.0,576.7 L268.5,574.8 L268.9,572.8 L269.4,570.9 L269.8,568.9 L270.3,567.0 L270.7,565.0 L271.1,563.0 L271.5,561.1 L271.9,559.1 L272.2,557.2 L272.6,555.2 L273.0,553.2 L273.4,551.3 L273.8,549.3 L274.2,547.3 L274.6,545.4 L275.0,543.4 L275.4,541.4 L275.7,539.5 L276.1,537.5 L276.5,535.6 L276.9,533.6 L277.3,531.6 L277.7,529.7 L278.1,527.7 L278.5,525.7 L278.9,523.8 L279.3,521.8 L279.7,519.9 L280.2,517.9 L280.6,516.0 L281.0,514.0 L281.5,512.1 L281.9,510.1 L282.3,508.1 L282.7,506.2 L283.2,504.2 L283.6,502.3 L284.0,500.3 L284.4,498.4 L284.9,496.4 L285.3,494.4 L285.7,492.5 L286.1,490.5 L286.5,488.6 L286.9,486.6 L287.3,484.7 L287.7,482.7 L288.1,480.7 L288.6,478.8 L289.0,476.8 L289.4,474.9 L289.8,472.9 L290.2,470.9 L290.6,469.0 L291.0,467.0 L291.4,465.1 L291.8,463.1 L292.3,461.2 L292.7,459.2 L293.1,457.2 L293.5,455.3 L293.9,453.3 L294.3,451.4 L294.7,449.4 L295.1,447.4 L295.5,445.5 L295.9,443.5 L296.4,441.6 L296.8,439.6 L297.2,437.6 L297.6,435.7 L298.0,433.7 L298.4,431.8 L298.8,429.8 L299.2,427.8 L299.6,425.9 L300.0,423.9 L300.4,422.0 L300.8,420.0 L301.2,418.0 L301.7,416.1 L302.1,414.1 L302.5,412.2 L302.9,410.2 L303.3,408.3 L303.7,406.3 L304.1,404.3 L304.5,402.4 L304.9,400.4 L305.3,398.5 L305.7,396.5 L306.1,394.5 L306.6,392.6 L307.0,390.6 L307.4,388.7 L307.8,386.7 L308.2,384.7 L308.6,382.8 L309.0,380.8 L309.4,378.9 L309.8,376.9 L310.3,375.0 L310.7,373.0 L311.1,371.0 L311.5,369.1 L311.9,367.1 L312.3,365.2 L312.7,363.2 L313.1,361.2 L313.6,359.3 L314.0,357.3 L314.4,355.4 L314.8,353.4 L315.2,351.4 L315.6,349.5 L316.0,347.5 L316.4,345.6 L316.8,343.6 L317.3,341.7 L317.7,339.7 L318.1,337.7 L318.5,335.8 L318.9,333.8 L319.3,331.9 L319.7,329.9 L320.1,327.9 L320.5,326.0 L321.0,324.0 L321.4,322.1 L321.8,320.1 L322.2,318.2 L322.6,316.2 L323.0,314.2 L323.4,312.3 L323.8,310.3 L324.2,308.4 L324.7,306.4 L325.1,304.4 L325.5,302.5 L325.9,300.5 L326.3,298.6 L326.7,296.6 L327.1,294.6 L327.4,292.7 L327.8,290.7 L328.2,288.7 L328.6,286.8 L329.0,284.8 L329.4,282.9 L329.8,280.9 L330.2,278.9 L330.7,277.0 L331.2,275.1 L331.8,273.2 L332.4,271.2 L332.9,269.3 L333.5,267.4 L334.1,265.5 L334.6,263.6 L335.2,261.6 L335.7,259.7 L336.2,257.8 L336.7,255.8 L337.2,253.9 L337.6,251.9 L338.1,250.0 L338.7,248.1 L339.2,246.1 L339.7,244.2 L340.3,242.3 L340.9,240.4 L341.4,238.5 L342.0,236.5 L342.6,234.6 L343.2,232.7 L343.7,230.8 L344.3,228.9 L344.9,227.0 L345.5,225.0 L346.0,223.1 L346.6,221.2 L347.2,219.3 L347.8,217.4 L348.4,215.5 L349.1,213.6 L349.8,211.7 L350.5,209.9 L351.2,208.0 L352.0,206.1 L352.7,204.3 L353.4,202.4 L354.1,200.5 L354.8,198.7 L355.6,196.8 L356.3,194.9 L357.0,193.1 L357.7,191.2 L358.4,189.3 L359.1,187.4 L359.9,185.6 L360.6,183.7 L361.3,181.8 L362.1,180.0 L362.8,178.2 L363.6,176.3 L364.6,174.6 L365.5,172.8 L366.5,171.0 L367.5,169.3 L368.8,167.8 L370.1,166.3 L371.1,164.6 L371.8,162.7 L372.5,160.8 L373.0,158.9 L373.4,156.9 L373.9,155.0 L374.3,153.1 L374.8,151.1 L375.4,149.2 L376.0,147.3 L376.7,145.4 L377.4,143.6 L378.2,141.7 L379.0,139.9 L379.8,138.1 L380.7,136.3 L381.5,134.5 L382.3,132.6 L383.1,130.8 L383.6,128.9 L384.1,127.0 L384.4,125.0 L384.7,123.0 L385.0,121.1 L385.3,119.1 L385.6,117.1 L386.0,115.2 L386.4,113.2 L387.0,111.3 L387.6,109.4 L388.2,107.5 L388.8,105.6 L389.5,103.7 L390.1,101.8 L390.7,99.9 L391.3,98.0 L391.9,96.1 L392.5,94.2 L393.1,92.3 L393.7,90.3 L394.3,88.4 L394.8,86.5 L395.4,84.6 L396.0,82.7 L396.6,80.8 L397.2,78.8 L397.7,76.9 L398.3,75.0 L398.9,73.1 L399.5,71.2 L400.1,69.3 L400.7,67.4 L401.2,65.4 L401.8,63.5 L402.3,61.6 L402.9,59.7 L403.4,57.7 L403.9,55.8 L404.5,53.9 L405.0,52.0 L405.5,50.0 L406.0,48.1 L406.5,46.1 L407.0,44.2 L407.5,42.3 L408.0,40.3 L408.5,38.4 L409.0,36.5 L409.6,34.5 L410.2,32.6 L410.9,30.8 L411.6,29.0 L412.6,27.2 L413.6,25.5 L414.7,23.9 L415.9,22.3 L417.1,20.7 L418.3,19.0 L419.5,17.4 L420.7,15.9 L422.0,14.4 L423.4,13.1 L425.0,12.0 L426.6,11.1 L428.4,10.4 L430.2,10.1 L432.0,10.5 L433.9,11.1 L435.6,12.1 L437.0,13.4 L438.5,14.8 L440.1,15.9 L442.0,16.7 L443.8,17.6 L445.6,18.4 L447.5,18.8 L449.4,18.5 L451.4,18.2 L453.2,18.4 L454.9,19.5 L456.5,20.6 L458.2,21.5 L460.1,21.4 L462.0,20.9 L463.8,20.9 L465.3,22.2 L466.6,23.6 L467.9,25.1 L469.3,26.6 L470.7,28.1 L472.1,29.5 L473.5,30.9 L474.9,32.3 L476.3,33.7 L477.8,35.1 L479.2,36.5 L480.6,37.9 L482.2,39.1 L484.0,40.0 L485.8,40.9 L487.5,41.9 L488.7,43.3 L489.6,45.1 L490.4,46.9 L491.2,48.7 L492.1,50.5 L493.0,52.3 L493.8,54.1 L494.7,55.9 L495.6,57.7 L496.5,59.5 L497.4,61.3 L498.6,62.9 L499.9,64.4 L501.2,66.0 L502.4,67.5 L503.7,69.1 L504.6,70.8 L505.4,72.7 L506.1,74.5 L506.8,76.4 L507.5,78.3 L508.4,80.0 L509.7,81.4 L511.3,82.6 L512.9,83.9 L514.1,85.4 L514.9,87.2 L515.8,89.0 L516.6,90.8 L517.6,92.6 L518.9,94.0 L520.5,95.2 L522.1,96.4 L523.5,97.9 L524.6,99.5 L525.7,101.2 L526.9,102.5 L528.5,102.3 L530.3,101.5 L532.1,100.7 L534.0,100.6 L536.0,100.9 L537.9,100.8 L539.8,100.1 L541.6,99.2 L543.3,98.3 L545.2,97.5 L547.1,97.1 L549.1,97.1 L551.1,97.1 L553.1,97.1 L555.0,97.6 L556.8,98.3 L558.7,99.1 L560.5,99.8 L562.3,100.8 L563.9,101.9 L565.5,103.1 L567.0,104.4 L568.3,105.9 L569.5,107.5 L570.7,109.1 L571.9,110.7 L573.1,112.3 L574.2,114.0 L575.2,115.7 L576.2,117.4 L577.1,119.2 L577.9,121.0 L578.8,122.9 L579.6,124.7 L580.4,126.5 L581.1,128.4 L581.9,130.2 L582.6,132.1 L583.4,133.9 L584.1,135.8 L584.8,137.7 L585.5,139.5 L586.2,141.4 L586.9,143.3 L587.7,145.1 L588.4,147.0 L589.1,148.9 L589.8,150.8 L590.5,152.6 L591.2,154.5 L592.0,156.4 L592.7,158.2 L593.4,160.1 L594.1,162.0 L594.8,163.9 L595.4,165.7 L596.0,167.7 L596.5,169.6 L597.0,171.5 L597.5,173.5 L597.9,175.4 L598.4,177.4 L598.8,179.3 L599.3,181.3 L599.8,183.2 L600.3,185.1 L600.8,187.1 L601.4,189.0 L602.0,190.9 L602.5,192.8 L603.1,194.7 L603.7,196.7 L604.2,198.6 L604.8,200.5 L605.3,202.4 L605.8,204.4 L606.3,206.3 L606.9,208.2 L607.4,210.2 L607.9,212.1 L608.4,214.0 L608.9,216.0 L609.4,217.9 L609.9,219.8 L610.4,221.8 L611.0,223.7 L611.5,225.6 L612.0,227.6 L612.5,229.5 L613.0,231.4 L613.5,233.4 L614.0,235.3 L614.5,237.3 L615.1,239.2 L615.6,241.1 L616.1,243.0 L616.7,245.0 L617.3,246.9 L617.9,248.8 L618.6,250.7 L619.2,252.6 L619.8,254.5 L620.5,256.4 L621.1,258.3 L621.8,260.1 L622.4,262.0 L623.0,263.9 L623.6,265.8 L624.3,267.8 L624.9,269.7 L625.4,271.6 L626.0,273.5 L626.6,275.4 L627.2,277.3 L627.8,279.2 L628.4,281.1 L629.0,283.1 L629.5,285.0 L630.1,286.9 L630.7,288.8 L631.3,290.7 L631.9,292.6 L632.4,294.5 L633.0,296.5 L633.6,298.4 L634.2,300.3 L634.8,302.2 L635.4,304.1 L636.1,306.0 L636.7,307.9 L637.3,309.8 L637.9,311.7 L638.6,313.6 L639.2,315.5 L639.8,317.4 L640.4,319.3 L641.0,321.2 L641.6,323.1 L642.2,325.0 L642.8,327.0 L643.4,328.9 L644.0,330.8 L644.5,332.7 L645.1,334.6 L645.7,336.5 L646.4,338.4 L647.0,340.3 L647.6,342.2 L648.3,344.1 L649.0,346.0 L649.6,347.9 L650.3,349.8 L651.0,351.7 L651.6,353.5 L652.3,355.4 L652.9,357.3 L653.6,359.2 L654.3,361.1 L655.0,363.0 L655.7,364.8 L656.4,366.7 L657.1,368.6 L657.8,370.5 L658.5,372.3 L659.2,374.2 L660.0,376.1 L660.7,377.9 L661.4,379.8 L662.2,381.6 L662.9,383.5 L663.6,385.4 L664.4,387.2 L665.1,389.1 L665.9,390.9 L666.6,392.8 L667.3,394.7 L668.1,396.5 L668.8,398.4 L669.6,400.2 L670.3,402.1 L671.0,404.0 L671.8,405.8 L672.5,407.7 L673.2,409.5 L674.0,411.4 L674.7,413.3 L675.4,415.1 L676.2,417.0 L676.9,418.9 L677.7,420.7 L678.5,422.5 L679.3,424.3 L680.2,426.1 L681.2,427.9 L682.1,429.7 L683.0,431.4 L683.9,433.2 L684.8,435.0 L685.6,436.8 L686.5,438.7 L687.3,440.5 L688.1,442.3 L688.9,444.1 L689.7,446.0 L690.5,447.8 L691.2,449.7 L692.0,451.5 L692.8,453.4 L693.5,455.2 L694.3,457.1 L695.1,458.9 L695.9,460.7 L696.7,462.6 L697.6,464.4 L698.5,466.2 L699.4,467.9 L700.3,469.7 L701.2,471.5 L702.1,473.3 L703.0,475.1 L703.8,476.9 L704.7,478.7 L705.6,480.5 L706.5,482.3 L707.5,484.0 L708.4,485.8 L709.5,487.5 L710.5,489.2 L711.7,490.8 L712.8,492.4 L714.0,494.1 L715.2,495.7 L716.4,497.3 L717.6,498.9 L718.8,500.5 L720.1,502.0 L721.4,503.5 L722.6,505.1 L723.9,506.6 L725.1,508.2 L726.3,509.9 L727.4,511.5 L728.5,513.2 L729.6,514.8 L730.7,516.5 L731.8,518.2 L733.0,519.8 L734.2,521.4 L735.4,522.9 L736.8,524.4 L738.2,525.8 L739.6,527.1 L741.1,528.5 L742.6,529.8 L744.1,531.1 L745.6,532.5 L747.2,533.8 L748.7,535.0 L750.2,536.3 L751.8,537.6 L753.4,538.8 L754.9,540.1 L756.5,541.3 L758.1,542.5 L759.7,543.7 L761.3,544.8 L763.0,545.9 L764.8,546.9 L766.5,547.9 L768.3,548.8 L770.0,549.8 L771.8,550.8 L773.5,551.7 L775.3,552.7 L777.0,553.6 L778.8,554.6 L780.6,555.5 L782.4,556.4 L784.2,557.2 L786.0,558.1 L787.8,558.9 L789.6,559.7 L791.5,560.6 L793.3,561.4 L795.1,562.2 L796.9,563.0 L798.7,563.9 L800.6,564.7 L802.4,565.5 L804.2,566.3 L806.1,567.1 L807.9,567.9 L809.7,568.7 L811.6,569.5 L813.4,570.3 L815.3,571.1 L817.1,571.8 L819.0,572.5 L820.9,573.1 L822.8,573.8 L824.7,574.4 L826.6,575.1 L828.5,575.7 L830.4,576.3 L832.3,577.0 L834.2,577.6 L836.1,578.2 L838.0,578.9 L838.9,579.2" fill="none" stroke="#40449f" stroke-width="3.4" stroke-linejoin="round" stroke-linecap="round"/>
</g><g filter="url(#bl)">
<ellipse cx="599" cy="319.5" rx="54.5" ry="15.3" fill="none" stroke="#111" stroke-width="3.8"/>
<line x1="653" y1="318.4" x2="822" y2="318.4" stroke="#111" stroke-width="4.6"/>
<path d="M836,318.4 L816,311.8 L820,318.4 L816,325 Z" fill="#111"/>
<line x1="84" y1="366.8" x2="189" y2="366.8" stroke="#111" stroke-width="6.2" stroke-linecap="round"/>
<path d="M65.5,366.8 L87.5,360.5 L84,366.8 L87.5,373.1 Z" fill="#111"/>
</g>
<g filter="url(#bl)">
<rect x="152" y="719" width="552.5" height="558" fill="#110f0e"/>
<rect x="153.2" y="720.2" width="550.1" height="555.6" fill="none" stroke="#050404" stroke-width="2.4"/>
<line x1="141.2" y1="1246.5" x2="141.2" y2="1258.5" stroke="#a0a0a0" stroke-width="2.2" stroke-linecap="round" filter="url(#bl)"/>
<rect x="393" y="726.8" width="72" height="41.6" fill="#000"/>
</g>
<path d="M361.5,718.8 A8,7 0 0 0 377.5,718.8 Z" fill="#f4f4f4" filter="url(#bl)"/><ellipse cx="373" cy="720.8" rx="2.6" ry="1.8" fill="#222" filter="url(#bl)"/>
<defs><linearGradient id="w0" gradientUnits="userSpaceOnUse" x1="405.8" y1="1027.2" x2="252.3" y2="1029.6"><stop offset="0.00" stop-color="#ffffff"/><stop offset="0.08" stop-color="#f9fdfe"/><stop offset="0.16" stop-color="#e9f7fc"/><stop offset="0.24" stop-color="#d2eff8"/><stop offset="0.32" stop-color="#b8e6f4"/><stop offset="0.40" stop-color="#9dddef"/><stop offset="0.50" stop-color="#81d3eb"/><stop offset="0.60" stop-color="#6dcce8"/><stop offset="0.75" stop-color="#5bc6e5"/><stop offset="1.00" stop-color="#53c3e4"/></linearGradient><linearGradient id="w1" gradientUnits="userSpaceOnUse" x1="405.8" y1="1027.2" x2="253.3" y2="1034.4"><stop offset="0.00" stop-color="#ffffff"/><stop offset="0.08" stop-color="#f9fdfe"/><stop offset="0.16" stop-color="#e9f7fc"/><stop offset="0.24" stop-color="#d2eff9"/><stop offset="0.32" stop-color="#b7e6f5"/><stop offset="0.40" stop-color="#9dddf1"/><stop offset="0.50" stop-color="#81d3ed"/><stop offset="0.60" stop-color="#6cccea"/><stop offset="0.75" stop-color="#5ac5e8"/><stop offset="1.00" stop-color="#52c2e7"/></linearGradient><linearGradient id="w2" gradientUnits="userSpaceOnUse" x1="405.8" y1="1027.2" x2="254.3" y2="1039.1"><stop offset="0.00" stop-color="#ffffff"/><stop offset="0.08" stop-color="#f9fdfe"/><stop offset="0.16" stop-color="#e9f7fc"/><stop offset="0.24" stop-color="#d2effa"/><stop offset="0.32" stop-color="#b7e6f6"/><stop offset="0.40" stop-color="#9dddf3"/><stop offset="0.50" stop-color="#80d3ef"/><stop offset="0.60" stop-color="#6bcbed"/><stop offset="0.75" stop-color="#59c5eb"/><stop offset="1.00" stop-color="#50c2ea"/></linearGradient><linearGradient id="w3" gradientUnits="userSpaceOnUse" x1="405.8" y1="1027.2" x2="255.3" y2="1043.8"><stop offset="0.00" stop-color="#ffffff"/><stop offset="0.08" stop-color="#f9fdfe"/><stop offset="0.16" stop-color="#e9f7fd"/><stop offset="0.24" stop-color="#d2effa"/><stop offset="0.32" stop-color="#b7e5f7"/><stop offset="0.40" stop-color="#9cdcf4"/><stop offset="0.50" stop-color="#80d1f0"/><stop offset="0.60" stop-color="#6acaee"/><stop offset="0.75" stop-color="#58c3ec"/><stop offset="1.00" stop-color="#4fc0eb"/></linearGradient><linearGradient id="w4" gradientUnits="userSpaceOnUse" x1="405.8" y1="1027.2" x2="256.4" y2="1048.5"><stop offset="0.00" stop-color="#ffffff"/><stop offset="0.08" stop-color="#f9fdfe"/><stop offset="0.16" stop-color="#e9f7fc"/><stop offset="0.24" stop-color="#d2eefa"/><stop offset="0.32" stop-color="#b7e4f6"/><stop offset="0.40" stop-color="#9cdaf3"/><stop offset="0.50" stop-color="#7fcff0"/><stop offset="0.60" stop-color="#6ac7ed"/><stop offset="0.75" stop-color="#57c0eb"/><stop offset="1.00" stop-color="#4ebcea"/></linearGradient><linearGradient id="w5" gradientUnits="userSpaceOnUse" x1="405.8" y1="1027.2" x2="257.5" y2="1053.2"><stop offset="0.00" stop-color="#ffffff"/><stop offset="0.08" stop-color="#f9fdfe"/><stop offset="0.16" stop-color="#e9f6fc"/><stop offset="0.24" stop-color="#d2edfa"/><stop offset="0.32" stop-color="#b7e3f6"/><stop offset="0.40" stop-color="#9cd8f3"/><stop offset="0.50" stop-color="#7fcdef"/><stop offset="0.60" stop-color="#6ac4ed"/><stop offset="0.75" stop-color="#57bdeb"/><stop offset="1.00" stop-color="#4eb9e9"/></linearGradient><linearGradient id="w6" gradientUnits="userSpaceOnUse" x1="405.8" y1="1027.2" x2="258.6" y2="1057.8"><stop offset="0.00" stop-color="#ffffff"/><stop offset="0.08" stop-color="#f9fdfe"/><stop offset="0.16" stop-color="#e9f6fc"/><stop offset="0.24" stop-color="#d2ecf9"/><stop offset="0.32" stop-color="#b7e1f6"/><stop offset="0.40" stop-color="#9cd6f3"/><stop offset="0.50" stop-color="#7fcaef"/><stop offset="0.60" stop-color="#69c1ec"/><stop offset="0.75" stop-color="#56baea"/><stop offset="1.00" stop-color="#4db6e9"/></linearGradient><linearGradient id="w7" gradientUnits="userSpaceOnUse" x1="405.8" y1="1027.2" x2="259.7" y2="1062.5"><stop offset="0.00" stop-color="#ffffff"/><stop offset="0.08" stop-color="#f9fdfe"/><stop offset="0.16" stop-color="#e9f6fc"/><stop offset="0.24" stop-color="#d2ecf9"/><stop offset="0.32" stop-color="#b6e0f6"/><stop offset="0.40" stop-color="#9bd4f2"/><stop offset="0.50" stop-color="#7ec8ee"/><stop offset="0.60" stop-color="#68bfec"/><stop offset="0.75" stop-color="#56b7e9"/><stop offset="1.00" stop-color="#4cb3e8"/></linearGradient><linearGradient id="w8" gradientUnits="userSpaceOnUse" x1="405.8" y1="1027.2" x2="260.9" y2="1067.2"><stop offset="0.00" stop-color="#ffffff"/><stop offset="0.08" stop-color="#f9fcfe"/><stop offset="0.16" stop-color="#e9f5fc"/><stop offset="0.24" stop-color="#d1ebf9"/><stop offset="0.32" stop-color="#b6dff5"/><stop offset="0.40" stop-color="#9bd2f2"/><stop offset="0.50" stop-color="#7dc5ee"/><stop offset="0.60" stop-color="#68bceb"/><stop offset="0.75" stop-color="#55b3e9"/><stop offset="1.00" stop-color="#4cafe7"/></linearGradient><linearGradient id="w9" gradientUnits="userSpaceOnUse" x1="405.8" y1="1027.2" x2="262.1" y2="1071.8"><stop offset="0.00" stop-color="#ffffff"/><stop offset="0.08" stop-color="#f9fcfe"/><stop offset="0.16" stop-color="#e9f5fc"/><stop offset="0.24" stop-color="#d1eaf9"/><stop offset="0.32" stop-color="#b5ddf5"/><stop offset="0.40" stop-color="#9ad0f1"/><stop offset="0.50" stop-color="#7dc3ed"/><stop offset="0.60" stop-color="#67b9ea"/><stop offset="0.75" stop-color="#54b0e8"/><stop offset="1.00" stop-color="#4bace7"/></linearGradient><linearGradient id="w10" gradientUnits="userSpaceOnUse" x1="405.8" y1="1027.2" x2="263.3" y2="1076.6"><stop offset="0.00" stop-color="#ffffff"/><stop offset="0.08" stop-color="#f9fcfe"/><stop offset="0.16" stop-color="#e9f4fc"/><stop offset="0.24" stop-color="#d0e9f9"/><stop offset="0.32" stop-color="#b5dbf5"/><stop offset="0.40" stop-color="#99cef1"/><stop offset="0.50" stop-color="#7cc0ed"/><stop offset="0.60" stop-color="#66b6ea"/><stop offset="0.75" stop-color="#54ade7"/><stop offset="1.00" stop-color="#4ba9e6"/></linearGradient><linearGradient id="w11" gradientUnits="userSpaceOnUse" x1="405.8" y1="1027.2" x2="264.6" y2="1081.3"><stop offset="0.00" stop-color="#ffffff"/><stop offset="0.08" stop-color="#f9fcfe"/><stop offset="0.16" stop-color="#e8f4fc"/><stop offset="0.24" stop-color="#d0e8f8"/><stop offset="0.32" stop-color="#b4daf4"/><stop offset="0.40" stop-color="#98ccf0"/><stop offset="0.50" stop-color="#7bbdec"/><stop offset="0.60" stop-color="#65b3e9"/><stop offset="0.75" stop-color="#53aae6"/><stop offset="1.00" stop-color="#4aa5e5"/></linearGradient><linearGradient id="w12" gradientUnits="userSpaceOnUse" x1="405.8" y1="1027.2" x2="265.9" y2="1086.1"><stop offset="0.00" stop-color="#ffffff"/><stop offset="0.08" stop-color="#f9fcfe"/><stop offset="0.16" stop-color="#e8f3fc"/><stop offset="0.24" stop-color="#cfe7f8"/><stop offset="0.32" stop-color="#b3d8f4"/><stop offset="0.40" stop-color="#97caf0"/><stop offset="0.50" stop-color="#79bbeb"/><stop offset="0.60" stop-color="#64b0e8"/><stop offset="0.75" stop-color="#52a6e6"/><stop offset="1.00" stop-color="#49a2e4"/></linearGradient><linearGradient id="w13" gradientUnits="userSpaceOnUse" x1="405.8" y1="1027.2" x2="267.3" y2="1090.9"><stop offset="0.00" stop-color="#ffffff"/><stop offset="0.08" stop-color="#f9fcfe"/><stop offset="0.16" stop-color="#e8f3fb"/><stop offset="0.24" stop-color="#cfe5f8"/><stop offset="0.32" stop-color="#b2d6f3"/><stop offset="0.40" stop-color="#96c7ef"/><stop offset="0.50" stop-color="#78b8eb"/><stop offset="0.60" stop-color="#63ace7"/><stop offset="0.75" stop-color="#51a3e5"/><stop offset="1.00" stop-color="#499fe3"/></linearGradient><linearGradient id="w14" gradientUnits="userSpaceOnUse" x1="405.8" y1="1027.2" x2="268.7" y2="1095.7"><stop offset="0.00" stop-color="#ffffff"/><stop offset="0.08" stop-color="#f9fcfe"/><stop offset="0.16" stop-color="#e7f2fb"/><stop offset="0.24" stop-color="#cee4f7"/><stop offset="0.32" stop-color="#b1d4f3"/><stop offset="0.40" stop-color="#95c4ee"/><stop offset="0.50" stop-color="#77b4e9"/><stop offset="0.60" stop-color="#62a8e6"/><stop offset="0.75" stop-color="#509fe3"/><stop offset="1.00" stop-color="#489be2"/></linearGradient><linearGradient id="w15" gradientUnits="userSpaceOnUse" x1="405.8" y1="1027.2" x2="270.3" y2="1100.7"><stop offset="0.00" stop-color="#ffffff"/><stop offset="0.08" stop-color="#f9fbfe"/><stop offset="0.16" stop-color="#e7f1fb"/><stop offset="0.24" stop-color="#cde2f7"/><stop offset="0.32" stop-color="#b0d2f2"/><stop offset="0.40" stop-color="#93c2ed"/><stop offset="0.50" stop-color="#76b1e8"/><stop offset="0.60" stop-color="#61a5e5"/><stop offset="0.75" stop-color="#509be2"/><stop offset="1.00" stop-color="#4897e1"/></linearGradient><linearGradient id="w16" gradientUnits="userSpaceOnUse" x1="405.8" y1="1027.2" x2="271.9" y2="1105.7"><stop offset="0.00" stop-color="#ffffff"/><stop offset="0.08" stop-color="#f8fbfe"/><stop offset="0.16" stop-color="#e6f0fb"/><stop offset="0.24" stop-color="#cce1f6"/><stop offset="0.32" stop-color="#aecff1"/><stop offset="0.40" stop-color="#92beec"/><stop offset="0.50" stop-color="#74ade7"/><stop offset="0.60" stop-color="#5fa1e3"/><stop offset="0.75" stop-color="#4f97e0"/><stop offset="1.00" stop-color="#4893df"/></linearGradient><linearGradient id="w17" gradientUnits="userSpaceOnUse" x1="405.8" y1="1027.2" x2="273.6" y2="1110.7"><stop offset="0.00" stop-color="#ffffff"/><stop offset="0.08" stop-color="#f8fbfe"/><stop offset="0.16" stop-color="#e6f0fa"/><stop offset="0.24" stop-color="#cbdff6"/><stop offset="0.32" stop-color="#adcdf0"/><stop offset="0.40" stop-color="#90bbeb"/><stop offset="0.50" stop-color="#73a9e5"/><stop offset="0.60" stop-color="#5e9de2"/><stop offset="0.75" stop-color="#4e93df"/><stop offset="1.00" stop-color="#488fde"/></linearGradient><linearGradient id="w18" gradientUnits="userSpaceOnUse" x1="405.8" y1="1027.2" x2="275.5" y2="1115.8"><stop offset="0.00" stop-color="#ffffff"/><stop offset="0.08" stop-color="#f8fbfe"/><stop offset="0.16" stop-color="#e5effa"/><stop offset="0.24" stop-color="#cadef5"/><stop offset="0.32" stop-color="#accaef"/><stop offset="0.40" stop-color="#8fb8ea"/><stop offset="0.50" stop-color="#71a5e4"/><stop offset="0.60" stop-color="#5d99e0"/><stop offset="0.75" stop-color="#4e8fdd"/><stop offset="1.00" stop-color="#478bdc"/></linearGradient><linearGradient id="w19" gradientUnits="userSpaceOnUse" x1="405.8" y1="1027.2" x2="277.4" y2="1121.0"><stop offset="0.00" stop-color="#ffffff"/><stop offset="0.08" stop-color="#f8fafe"/><stop offset="0.16" stop-color="#e5eefa"/><stop offset="0.24" stop-color="#c9dcf4"/><stop offset="0.32" stop-color="#aac8ee"/><stop offset="0.40" stop-color="#8db5e8"/><stop offset="0.50" stop-color="#6fa1e3"/><stop offset="0.60" stop-color="#5c94df"/><stop offset="0.75" stop-color="#4d8bdc"/><stop offset="1.00" stop-color="#4787db"/></linearGradient><linearGradient id="w20" gradientUnits="userSpaceOnUse" x1="405.8" y1="1027.2" x2="279.4" y2="1126.3"><stop offset="0.00" stop-color="#ffffff"/><stop offset="0.08" stop-color="#f8fafe"/><stop offset="0.16" stop-color="#e4edf9"/><stop offset="0.24" stop-color="#c8daf4"/><stop offset="0.32" stop-color="#a8c5ed"/><stop offset="0.40" stop-color="#8bb1e7"/><stop offset="0.50" stop-color="#6e9de1"/><stop offset="0.60" stop-color="#5a90dd"/><stop offset="0.75" stop-color="#4c87da"/><stop offset="1.00" stop-color="#4783d9"/></linearGradient><linearGradient id="w21" gradientUnits="userSpaceOnUse" x1="405.8" y1="1027.2" x2="281.6" y2="1131.7"><stop offset="0.00" stop-color="#ffffff"/><stop offset="0.08" stop-color="#f8fafd"/><stop offset="0.16" stop-color="#e3ecf9"/><stop offset="0.24" stop-color="#c6d8f3"/><stop offset="0.32" stop-color="#a6c2ec"/><stop offset="0.40" stop-color="#89ade6"/><stop offset="0.50" stop-color="#6c99e0"/><stop offset="0.60" stop-color="#598cdc"/><stop offset="0.75" stop-color="#4b82d9"/><stop offset="1.00" stop-color="#467fd8"/></linearGradient><linearGradient id="w22" gradientUnits="userSpaceOnUse" x1="405.8" y1="1027.2" x2="283.9" y2="1137.2"><stop offset="0.00" stop-color="#ffffff"/><stop offset="0.08" stop-color="#f7fafd"/><stop offset="0.16" stop-color="#e2ebf9"/><stop offset="0.24" stop-color="#c5d5f2"/><stop offset="0.32" stop-color="#a5beeb"/><stop offset="0.40" stop-color="#87a9e5"/><stop offset="0.50" stop-color="#6a94de"/><stop offset="0.60" stop-color="#5887da"/><stop offset="0.75" stop-color="#4b7ed8"/><stop offset="1.00" stop-color="#477bd7"/></linearGradient><linearGradient id="w23" gradientUnits="userSpaceOnUse" x1="405.8" y1="1027.2" x2="286.3" y2="1142.9"><stop offset="0.00" stop-color="#ffffff"/><stop offset="0.08" stop-color="#f7f9fd"/><stop offset="0.16" stop-color="#e2e9f8"/><stop offset="0.24" stop-color="#c4d3f2"/><stop offset="0.32" stop-color="#a3bbea"/><stop offset="0.40" stop-color="#86a5e4"/><stop offset="0.50" stop-color="#6a90dd"/><stop offset="0.60" stop-color="#5883d9"/><stop offset="0.75" stop-color="#4c7ad7"/><stop offset="1.00" stop-color="#4877d6"/></linearGradient><linearGradient id="w24" gradientUnits="userSpaceOnUse" x1="405.8" y1="1027.2" x2="288.8" y2="1148.6"><stop offset="0.00" stop-color="#ffffff"/><stop offset="0.08" stop-color="#f7f9fd"/><stop offset="0.16" stop-color="#e1e8f8"/><stop offset="0.24" stop-color="#c3d0f1"/><stop offset="0.32" stop-color="#a2b7e9"/><stop offset="0.40" stop-color="#84a0e2"/><stop offset="0.50" stop-color="#698bdc"/><stop offset="0.60" stop-color="#587ed8"/><stop offset="0.75" stop-color="#4d75d6"/><stop offset="1.00" stop-color="#4a73d5"/></linearGradient><linearGradient id="w25" gradientUnits="userSpaceOnUse" x1="405.8" y1="1027.2" x2="291.6" y2="1154.5"><stop offset="0.00" stop-color="#ffffff"/><stop offset="0.08" stop-color="#f7f8fd"/><stop offset="0.16" stop-color="#e0e6f8"/><stop offset="0.24" stop-color="#c1cef0"/><stop offset="0.32" stop-color="#a0b3e8"/><stop offset="0.40" stop-color="#839ce1"/><stop offset="0.50" stop-color="#6886db"/><stop offset="0.60" stop-color="#5879d7"/><stop offset="0.75" stop-color="#4e71d5"/><stop offset="1.00" stop-color="#4b6fd4"/></linearGradient><linearGradient id="w26" gradientUnits="userSpaceOnUse" x1="405.8" y1="1027.2" x2="294.6" y2="1160.3"><stop offset="0.00" stop-color="#ffffff"/><stop offset="0.08" stop-color="#f7f8fd"/><stop offset="0.16" stop-color="#e0e5f7"/><stop offset="0.24" stop-color="#c0cbef"/><stop offset="0.32" stop-color="#9fafe7"/><stop offset="0.40" stop-color="#8297e0"/><stop offset="0.50" stop-color="#6781da"/><stop offset="0.60" stop-color="#5874d6"/><stop offset="0.75" stop-color="#4f6dd4"/><stop offset="1.00" stop-color="#4c6bd3"/></linearGradient><linearGradient id="w27" gradientUnits="userSpaceOnUse" x1="405.8" y1="1027.2" x2="298.0" y2="1166.2"><stop offset="0.00" stop-color="#ffffff"/><stop offset="0.08" stop-color="#f6f8fd"/><stop offset="0.16" stop-color="#dfe3f7"/><stop offset="0.24" stop-color="#bfc8ef"/><stop offset="0.32" stop-color="#9dabe6"/><stop offset="0.40" stop-color="#8092df"/><stop offset="0.50" stop-color="#677cd8"/><stop offset="0.60" stop-color="#5870d5"/><stop offset="0.75" stop-color="#5068d3"/><stop offset="1.00" stop-color="#4e67d2"/></linearGradient><linearGradient id="w28" gradientUnits="userSpaceOnUse" x1="405.8" y1="1027.2" x2="301.7" y2="1171.9"><stop offset="0.00" stop-color="#ffffff"/><stop offset="0.08" stop-color="#f6f7fd"/><stop offset="0.16" stop-color="#dee2f6"/><stop offset="0.24" stop-color="#bdc5ee"/><stop offset="0.32" stop-color="#9ca7e5"/><stop offset="0.40" stop-color="#7f8dde"/><stop offset="0.50" stop-color="#6677d7"/><stop offset="0.60" stop-color="#586bd4"/><stop offset="0.75" stop-color="#5164d2"/><stop offset="1.00" stop-color="#4f62d1"/></linearGradient><linearGradient id="w29" gradientUnits="userSpaceOnUse" x1="405.8" y1="1027.2" x2="305.8" y2="1177.3"><stop offset="0.00" stop-color="#ffffff"/><stop offset="0.08" stop-color="#f6f7fd"/><stop offset="0.16" stop-color="#dde0f6"/><stop offset="0.24" stop-color="#bcc2ed"/><stop offset="0.32" stop-color="#9ba3e4"/><stop offset="0.40" stop-color="#7e89dd"/><stop offset="0.50" stop-color="#6672d6"/><stop offset="0.60" stop-color="#5966d3"/><stop offset="0.75" stop-color="#5260d1"/><stop offset="1.00" stop-color="#505ed0"/></linearGradient><linearGradient id="w30" gradientUnits="userSpaceOnUse" x1="405.8" y1="1027.2" x2="310.5" y2="1182.3"><stop offset="0.00" stop-color="#ffffff"/><stop offset="0.08" stop-color="#f6f6fc"/><stop offset="0.16" stop-color="#dddff6"/><stop offset="0.24" stop-color="#bcbfec"/><stop offset="0.32" stop-color="#9a9fe3"/><stop offset="0.40" stop-color="#7e84db"/><stop offset="0.50" stop-color="#666ed5"/><stop offset="0.60" stop-color="#5a62d1"/><stop offset="0.75" stop-color="#535cd0"/><stop offset="1.00" stop-color="#525acf"/></linearGradient><linearGradient id="w31" gradientUnits="userSpaceOnUse" x1="405.8" y1="1027.2" x2="315.7" y2="1186.7"><stop offset="0.00" stop-color="#ffffff"/><stop offset="0.08" stop-color="#f6f6fc"/><stop offset="0.16" stop-color="#ddddf5"/><stop offset="0.24" stop-color="#bbbcec"/><stop offset="0.32" stop-color="#9a9be2"/><stop offset="0.40" stop-color="#7e80da"/><stop offset="0.50" stop-color="#6769d4"/><stop offset="0.60" stop-color="#5a5dd0"/><stop offset="0.75" stop-color="#5457cf"/><stop offset="1.00" stop-color="#5356ce"/></linearGradient><linearGradient id="w32" gradientUnits="userSpaceOnUse" x1="405.8" y1="1027.2" x2="321.2" y2="1190.9"><stop offset="0.00" stop-color="#ffffff"/><stop offset="0.08" stop-color="#f6f5fc"/><stop offset="0.16" stop-color="#dcdcf5"/><stop offset="0.24" stop-color="#bbbaeb"/><stop offset="0.32" stop-color="#9998e1"/><stop offset="0.40" stop-color="#7e7cd9"/><stop offset="0.50" stop-color="#6765d3"/><stop offset="0.60" stop-color="#5b59cf"/><stop offset="0.75" stop-color="#5553ce"/><stop offset="1.00" stop-color="#5452cd"/></linearGradient><linearGradient id="w33" gradientUnits="userSpaceOnUse" x1="405.8" y1="1027.2" x2="328.6" y2="1191.2"><stop offset="0.00" stop-color="#ffffff"/><stop offset="0.08" stop-color="#f6f6fc"/><stop offset="0.16" stop-color="#dedcf5"/><stop offset="0.24" stop-color="#bdbaeb"/><stop offset="0.32" stop-color="#9d98e2"/><stop offset="0.40" stop-color="#827cd9"/><stop offset="0.50" stop-color="#6b64d3"/><stop offset="0.60" stop-color="#5f58cf"/><stop offset="0.75" stop-color="#5951cd"/><stop offset="1.00" stop-color="#5750cd"/></linearGradient><linearGradient id="w34" gradientUnits="userSpaceOnUse" x1="405.8" y1="1027.2" x2="337.5" y2="1187.5"><stop offset="0.00" stop-color="#ffffff"/><stop offset="0.08" stop-color="#f7f6fc"/><stop offset="0.16" stop-color="#e1def6"/><stop offset="0.24" stop-color="#c3beec"/><stop offset="0.32" stop-color="#a49de3"/><stop offset="0.40" stop-color="#8980da"/><stop offset="0.50" stop-color="#7267d3"/><stop offset="0.60" stop-color="#6559cf"/><stop offset="0.75" stop-color="#5e51cd"/><stop offset="1.00" stop-color="#5c4fcc"/></linearGradient><linearGradient id="w35" gradientUnits="userSpaceOnUse" x1="405.8" y1="1027.2" x2="345.9" y2="1184.0"><stop offset="0.00" stop-color="#ffffff"/><stop offset="0.08" stop-color="#f8f7fd"/><stop offset="0.16" stop-color="#e3e0f6"/><stop offset="0.24" stop-color="#c8c1ed"/><stop offset="0.32" stop-color="#aaa1e4"/><stop offset="0.40" stop-color="#9184db"/><stop offset="0.50" stop-color="#796ad4"/><stop offset="0.60" stop-color="#6b5acf"/><stop offset="0.75" stop-color="#6351cd"/><stop offset="1.00" stop-color="#614fcc"/></linearGradient><linearGradient id="w36" gradientUnits="userSpaceOnUse" x1="405.8" y1="1027.2" x2="353.7" y2="1180.8"><stop offset="0.00" stop-color="#ffffff"/><stop offset="0.08" stop-color="#f8f7fd"/><stop offset="0.16" stop-color="#e6e2f7"/><stop offset="0.24" stop-color="#ccc4ee"/><stop offset="0.32" stop-color="#b0a4e5"/><stop offset="0.40" stop-color="#9888dc"/><stop offset="0.50" stop-color="#806dd4"/><stop offset="0.60" stop-color="#725ccf"/><stop offset="0.75" stop-color="#6851cc"/><stop offset="1.00" stop-color="#664ecb"/></linearGradient><linearGradient id="w37" gradientUnits="userSpaceOnUse" x1="405.8" y1="1027.2" x2="361.0" y2="1177.7"><stop offset="0.00" stop-color="#ffffff"/><stop offset="0.08" stop-color="#f9f8fd"/><stop offset="0.16" stop-color="#e8e3f7"/><stop offset="0.24" stop-color="#d0c7ee"/><stop offset="0.32" stop-color="#b6a8e5"/><stop offset="0.40" stop-color="#9e8bdd"/><stop offset="0.50" stop-color="#8770d5"/><stop offset="0.60" stop-color="#785ed0"/><stop offset="0.75" stop-color="#6e52cc"/><stop offset="1.00" stop-color="#6a4ecb"/></linearGradient><linearGradient id="w38" gradientUnits="userSpaceOnUse" x1="405.8" y1="1027.2" x2="368.0" y2="1174.8"><stop offset="0.00" stop-color="#ffffff"/><stop offset="0.08" stop-color="#f9f8fd"/><stop offset="0.16" stop-color="#eae5f7"/><stop offset="0.24" stop-color="#d4c9ef"/><stop offset="0.32" stop-color="#bbabe6"/><stop offset="0.40" stop-color="#a48fde"/><stop offset="0.50" stop-color="#8d72d5"/><stop offset="0.60" stop-color="#7e60d0"/><stop offset="0.75" stop-color="#7352cc"/><stop offset="1.00" stop-color="#6f4dca"/></linearGradient><linearGradient id="w39" gradientUnits="userSpaceOnUse" x1="405.8" y1="1027.2" x2="374.5" y2="1172.1"><stop offset="0.00" stop-color="#ffffff"/><stop offset="0.08" stop-color="#faf8fd"/><stop offset="0.16" stop-color="#ebe6f8"/><stop offset="0.24" stop-color="#d7cbf0"/><stop offset="0.32" stop-color="#c0aee7"/><stop offset="0.40" stop-color="#aa92de"/><stop offset="0.50" stop-color="#9375d6"/><stop offset="0.60" stop-color="#8461d0"/><stop offset="0.75" stop-color="#7953cc"/><stop offset="1.00" stop-color="#744dca"/></linearGradient><linearGradient id="w40" gradientUnits="userSpaceOnUse" x1="405.8" y1="1027.2" x2="380.8" y2="1169.4"><stop offset="0.00" stop-color="#ffffff"/><stop offset="0.08" stop-color="#faf9fd"/><stop offset="0.16" stop-color="#ede7f8"/><stop offset="0.24" stop-color="#dacdf0"/><stop offset="0.32" stop-color="#c4b0e7"/><stop offset="0.40" stop-color="#af94df"/><stop offset="0.50" stop-color="#9977d6"/><stop offset="0.60" stop-color="#8a63d0"/><stop offset="0.75" stop-color="#7e53cc"/><stop offset="1.00" stop-color="#794cc9"/></linearGradient><linearGradient id="w41" gradientUnits="userSpaceOnUse" x1="405.8" y1="1027.2" x2="386.7" y2="1167.0"><stop offset="0.00" stop-color="#ffffff"/><stop offset="0.08" stop-color="#fbf9fd"/><stop offset="0.16" stop-color="#eee8f8"/><stop offset="0.24" stop-color="#dccff1"/><stop offset="0.32" stop-color="#c8b3e8"/><stop offset="0.40" stop-color="#b497e0"/><stop offset="0.50" stop-color="#9f7ad7"/><stop offset="0.60" stop-color="#9065d1"/><stop offset="0.75" stop-color="#8354cb"/><stop offset="1.00" stop-color="#7e4cc9"/></linearGradient><linearGradient id="w42" gradientUnits="userSpaceOnUse" x1="405.8" y1="1027.2" x2="392.4" y2="1164.6"><stop offset="0.00" stop-color="#ffffff"/><stop offset="0.08" stop-color="#fbf9fd"/><stop offset="0.16" stop-color="#efe9f8"/><stop offset="0.24" stop-color="#dfd1f1"/><stop offset="0.32" stop-color="#ccb5e9"/><stop offset="0.40" stop-color="#b999e0"/><stop offset="0.50" stop-color="#a47cd7"/><stop offset="0.60" stop-color="#9566d1"/><stop offset="0.75" stop-color="#8954cb"/><stop offset="1.00" stop-color="#824bc9"/></linearGradient><linearGradient id="w43" gradientUnits="userSpaceOnUse" x1="405.8" y1="1027.2" x2="397.9" y2="1162.3"><stop offset="0.00" stop-color="#ffffff"/><stop offset="0.08" stop-color="#fbf9fd"/><stop offset="0.16" stop-color="#f1e9f8"/><stop offset="0.24" stop-color="#e1d2f1"/><stop offset="0.32" stop-color="#cfb7e9"/><stop offset="0.40" stop-color="#bd9be1"/><stop offset="0.50" stop-color="#a97ed8"/><stop offset="0.60" stop-color="#9b68d1"/><stop offset="0.75" stop-color="#8e54cb"/><stop offset="1.00" stop-color="#874ac8"/></linearGradient><linearGradient id="w44" gradientUnits="userSpaceOnUse" x1="405.8" y1="1027.2" x2="403.2" y2="1160.1"><stop offset="0.00" stop-color="#ffffff"/><stop offset="0.08" stop-color="#fcf9fd"/><stop offset="0.16" stop-color="#f2eaf9"/><stop offset="0.24" stop-color="#e3d3f1"/><stop offset="0.32" stop-color="#d2b8e9"/><stop offset="0.40" stop-color="#c19de1"/><stop offset="0.50" stop-color="#ae7fd8"/><stop offset="0.60" stop-color="#a068d1"/><stop offset="0.75" stop-color="#9354cb"/><stop offset="1.00" stop-color="#8c49c7"/></linearGradient><linearGradient id="w45" gradientUnits="userSpaceOnUse" x1="405.8" y1="1027.2" x2="408.3" y2="1157.9"><stop offset="0.00" stop-color="#ffffff"/><stop offset="0.08" stop-color="#fcfafd"/><stop offset="0.16" stop-color="#f3eaf9"/><stop offset="0.24" stop-color="#e5d4f2"/><stop offset="0.32" stop-color="#d5b9e9"/><stop offset="0.40" stop-color="#c59ee1"/><stop offset="0.50" stop-color="#b380d8"/><stop offset="0.60" stop-color="#a569d1"/><stop offset="0.75" stop-color="#9854ca"/><stop offset="1.00" stop-color="#9148c6"/></linearGradient><linearGradient id="w46" gradientUnits="userSpaceOnUse" x1="405.8" y1="1027.2" x2="413.2" y2="1155.9"><stop offset="0.00" stop-color="#ffffff"/><stop offset="0.08" stop-color="#fcfafd"/><stop offset="0.16" stop-color="#f3ebf9"/><stop offset="0.24" stop-color="#e7d4f2"/><stop offset="0.32" stop-color="#d8baea"/><stop offset="0.40" stop-color="#c89fe1"/><stop offset="0.50" stop-color="#b781d8"/><stop offset="0.60" stop-color="#aa69d1"/><stop offset="0.75" stop-color="#9d53ca"/><stop offset="1.00" stop-color="#9647c6"/></linearGradient><linearGradient id="w47" gradientUnits="userSpaceOnUse" x1="405.8" y1="1027.2" x2="418.0" y2="1153.9"><stop offset="0.00" stop-color="#ffffff"/><stop offset="0.08" stop-color="#fcfafd"/><stop offset="0.16" stop-color="#f4ebf9"/><stop offset="0.24" stop-color="#e8d5f2"/><stop offset="0.32" stop-color="#dabbea"/><stop offset="0.40" stop-color="#cca0e1"/><stop offset="0.50" stop-color="#bc82d8"/><stop offset="0.60" stop-color="#af6ad0"/><stop offset="0.75" stop-color="#a253c9"/><stop offset="1.00" stop-color="#9b45c5"/></linearGradient><linearGradient id="w48" gradientUnits="userSpaceOnUse" x1="405.8" y1="1027.2" x2="422.7" y2="1151.9"><stop offset="0.00" stop-color="#ffffff"/><stop offset="0.08" stop-color="#fcfafd"/><stop offset="0.16" stop-color="#f5ebf9"/><stop offset="0.24" stop-color="#ead6f2"/><stop offset="0.32" stop-color="#ddbcea"/><stop offset="0.40" stop-color="#cfa1e1"/><stop offset="0.50" stop-color="#c082d8"/><stop offset="0.60" stop-color="#b36ad0"/><stop offset="0.75" stop-color="#a752c9"/><stop offset="1.00" stop-color="#a044c4"/></linearGradient><linearGradient id="w49" gradientUnits="userSpaceOnUse" x1="405.8" y1="1027.2" x2="427.3" y2="1150.0"><stop offset="0.00" stop-color="#ffffff"/><stop offset="0.08" stop-color="#fdfafd"/><stop offset="0.16" stop-color="#f6ecf9"/><stop offset="0.24" stop-color="#ebd6f2"/><stop offset="0.32" stop-color="#dfbcea"/><stop offset="0.40" stop-color="#d2a1e1"/><stop offset="0.50" stop-color="#c483d8"/><stop offset="0.60" stop-color="#b86ad0"/><stop offset="0.75" stop-color="#ac52c8"/><stop offset="1.00" stop-color="#a543c3"/></linearGradient><linearGradient id="w50" gradientUnits="userSpaceOnUse" x1="405.8" y1="1027.2" x2="431.8" y2="1148.1"><stop offset="0.00" stop-color="#ffffff"/><stop offset="0.08" stop-color="#fdfafd"/><stop offset="0.16" stop-color="#f6ecf9"/><stop offset="0.24" stop-color="#edd6f2"/><stop offset="0.32" stop-color="#e1bdea"/><stop offset="0.40" stop-color="#d5a2e1"/><stop offset="0.50" stop-color="#c783d8"/><stop offset="0.60" stop-color="#bc6ad0"/><stop offset="0.75" stop-color="#b151c8"/><stop offset="1.00" stop-color="#aa41c3"/></linearGradient><linearGradient id="w51" gradientUnits="userSpaceOnUse" x1="405.8" y1="1027.2" x2="436.2" y2="1146.3"><stop offset="0.00" stop-color="#ffffff"/><stop offset="0.08" stop-color="#fdfafd"/><stop offset="0.16" stop-color="#f7ecf9"/><stop offset="0.24" stop-color="#eed7f2"/><stop offset="0.32" stop-color="#e3bdea"/><stop offset="0.40" stop-color="#d8a2e1"/><stop offset="0.50" stop-color="#cb83d7"/><stop offset="0.60" stop-color="#c06acf"/><stop offset="0.75" stop-color="#b550c7"/><stop offset="1.00" stop-color="#ae40c2"/></linearGradient><linearGradient id="w52" gradientUnits="userSpaceOnUse" x1="405.8" y1="1027.2" x2="440.6" y2="1144.4"><stop offset="0.00" stop-color="#ffffff"/><stop offset="0.08" stop-color="#fdfafd"/><stop offset="0.16" stop-color="#f8ecf9"/><stop offset="0.24" stop-color="#efd7f2"/><stop offset="0.32" stop-color="#e5bdea"/><stop offset="0.40" stop-color="#dba2e1"/><stop offset="0.50" stop-color="#ce83d7"/><stop offset="0.60" stop-color="#c469cf"/><stop offset="0.75" stop-color="#ba50c7"/><stop offset="1.00" stop-color="#b33fc1"/></linearGradient><linearGradient id="w53" gradientUnits="userSpaceOnUse" x1="405.8" y1="1027.2" x2="444.9" y2="1142.6"><stop offset="0.00" stop-color="#ffffff"/><stop offset="0.08" stop-color="#fdfafd"/><stop offset="0.16" stop-color="#f8ecf9"/><stop offset="0.24" stop-color="#f0d7f2"/><stop offset="0.32" stop-color="#e7bdea"/><stop offset="0.40" stop-color="#dda2e1"/><stop offset="0.50" stop-color="#d283d7"/><stop offset="0.60" stop-color="#c869cf"/><stop offset="0.75" stop-color="#bf4fc6"/><stop offset="1.00" stop-color="#b83dc0"/></linearGradient><linearGradient id="w54" gradientUnits="userSpaceOnUse" x1="405.8" y1="1027.2" x2="449.1" y2="1140.9"><stop offset="0.00" stop-color="#ffffff"/><stop offset="0.08" stop-color="#fdfafd"/><stop offset="0.16" stop-color="#f9ecf9"/><stop offset="0.24" stop-color="#f1d7f2"/><stop offset="0.32" stop-color="#e9bdea"/><stop offset="0.40" stop-color="#e0a2e1"/><stop offset="0.50" stop-color="#d583d7"/><stop offset="0.60" stop-color="#cc68ce"/><stop offset="0.75" stop-color="#c34ec6"/><stop offset="1.00" stop-color="#bd3cc0"/></linearGradient><linearGradient id="w55" gradientUnits="userSpaceOnUse" x1="405.8" y1="1027.2" x2="453.4" y2="1139.1"><stop offset="0.00" stop-color="#ffffff"/><stop offset="0.08" stop-color="#fdfafd"/><stop offset="0.16" stop-color="#f9ecf9"/><stop offset="0.24" stop-color="#f2d7f2"/><stop offset="0.32" stop-color="#eabde9"/><stop offset="0.40" stop-color="#e1a2e0"/><stop offset="0.50" stop-color="#d782d6"/><stop offset="0.60" stop-color="#cf67cd"/><stop offset="0.75" stop-color="#c64cc4"/><stop offset="1.00" stop-color="#c13abe"/></linearGradient><linearGradient id="w56" gradientUnits="userSpaceOnUse" x1="405.8" y1="1027.2" x2="457.6" y2="1137.3"><stop offset="0.00" stop-color="#ffffff"/><stop offset="0.08" stop-color="#fdfafd"/><stop offset="0.16" stop-color="#f9ecf9"/><stop offset="0.24" stop-color="#f3d6f1"/><stop offset="0.32" stop-color="#ebbce9"/><stop offset="0.40" stop-color="#e3a1e0"/><stop offset="0.50" stop-color="#d981d5"/><stop offset="0.60" stop-color="#d166cc"/><stop offset="0.75" stop-color="#c94bc3"/><stop offset="1.00" stop-color="#c338bc"/></linearGradient><linearGradient id="w57" gradientUnits="userSpaceOnUse" x1="405.8" y1="1027.2" x2="461.8" y2="1135.6"><stop offset="0.00" stop-color="#ffffff"/><stop offset="0.08" stop-color="#fefafd"/><stop offset="0.16" stop-color="#f9ecf8"/><stop offset="0.24" stop-color="#f3d6f1"/><stop offset="0.32" stop-color="#ecbce8"/><stop offset="0.40" stop-color="#e4a0df"/><stop offset="0.50" stop-color="#db80d4"/><stop offset="0.60" stop-color="#d365ca"/><stop offset="0.75" stop-color="#cb49c1"/><stop offset="1.00" stop-color="#c636ba"/></linearGradient><linearGradient id="w58" gradientUnits="userSpaceOnUse" x1="405.8" y1="1027.2" x2="466.0" y2="1133.8"><stop offset="0.00" stop-color="#ffffff"/><stop offset="0.08" stop-color="#fefafd"/><stop offset="0.16" stop-color="#faebf8"/><stop offset="0.24" stop-color="#f4d5f1"/><stop offset="0.32" stop-color="#edbbe7"/><stop offset="0.40" stop-color="#e59fde"/><stop offset="0.50" stop-color="#dc7ed2"/><stop offset="0.60" stop-color="#d563c9"/><stop offset="0.75" stop-color="#cd47bf"/><stop offset="1.00" stop-color="#c834b8"/></linearGradient><linearGradient id="w59" gradientUnits="userSpaceOnUse" x1="405.8" y1="1027.2" x2="470.2" y2="1132.1"><stop offset="0.00" stop-color="#ffffff"/><stop offset="0.08" stop-color="#fefafd"/><stop offset="0.16" stop-color="#faebf8"/><stop offset="0.24" stop-color="#f4d5f0"/><stop offset="0.32" stop-color="#edbae7"/><stop offset="0.40" stop-color="#e69edd"/><stop offset="0.50" stop-color="#de7dd1"/><stop offset="0.60" stop-color="#d761c7"/><stop offset="0.75" stop-color="#cf45bd"/><stop offset="1.00" stop-color="#cb32b6"/></linearGradient><linearGradient id="w60" gradientUnits="userSpaceOnUse" x1="405.8" y1="1027.2" x2="474.4" y2="1130.3"><stop offset="0.00" stop-color="#ffffff"/><stop offset="0.08" stop-color="#fefafd"/><stop offset="0.16" stop-color="#faebf8"/><stop offset="0.24" stop-color="#f5d4f0"/><stop offset="0.32" stop-color="#eeb9e6"/><stop offset="0.40" stop-color="#e79ddc"/><stop offset="0.50" stop-color="#df7bcf"/><stop offset="0.60" stop-color="#d85fc5"/><stop offset="0.75" stop-color="#d243bb"/><stop offset="1.00" stop-color="#cd30b4"/></linearGradient><linearGradient id="w61" gradientUnits="userSpaceOnUse" x1="405.8" y1="1027.2" x2="478.7" y2="1128.5"><stop offset="0.00" stop-color="#ffffff"/><stop offset="0.08" stop-color="#fefafd"/><stop offset="0.16" stop-color="#faeaf7"/><stop offset="0.24" stop-color="#f5d4ef"/><stop offset="0.32" stop-color="#efb8e5"/><stop offset="0.40" stop-color="#e89bda"/><stop offset="0.50" stop-color="#e179ce"/><stop offset="0.60" stop-color="#da5dc4"/><stop offset="0.75" stop-color="#d441b9"/><stop offset="1.00" stop-color="#d02eb2"/></linearGradient><linearGradient id="w62" gradientUnits="userSpaceOnUse" x1="405.8" y1="1027.2" x2="483.0" y2="1126.7"><stop offset="0.00" stop-color="#ffffff"/><stop offset="0.08" stop-color="#fefafd"/><stop offset="0.16" stop-color="#fbeaf7"/><stop offset="0.24" stop-color="#f6d3ef"/><stop offset="0.32" stop-color="#f0b7e4"/><stop offset="0.40" stop-color="#e999d9"/><stop offset="0.50" stop-color="#e277cc"/><stop offset="0.60" stop-color="#dc5bc2"/><stop offset="0.75" stop-color="#d63fb7"/><stop offset="1.00" stop-color="#d22cb0"/></linearGradient><linearGradient id="w63" gradientUnits="userSpaceOnUse" x1="405.8" y1="1027.2" x2="487.4" y2="1124.9"><stop offset="0.00" stop-color="#ffffff"/><stop offset="0.08" stop-color="#fef9fd"/><stop offset="0.16" stop-color="#fbeaf7"/><stop offset="0.24" stop-color="#f6d2ee"/><stop offset="0.32" stop-color="#f0b5e3"/><stop offset="0.40" stop-color="#ea97d8"/><stop offset="0.50" stop-color="#e375cb"/><stop offset="0.60" stop-color="#de58c0"/><stop offset="0.75" stop-color="#d83cb5"/><stop offset="1.00" stop-color="#d52aae"/></linearGradient><linearGradient id="w64" gradientUnits="userSpaceOnUse" x1="405.8" y1="1027.2" x2="491.8" y2="1123.0"><stop offset="0.00" stop-color="#ffffff"/><stop offset="0.08" stop-color="#fef9fd"/><stop offset="0.16" stop-color="#fbe9f7"/><stop offset="0.24" stop-color="#f6d1ed"/><stop offset="0.32" stop-color="#f1b4e2"/><stop offset="0.40" stop-color="#eb95d6"/><stop offset="0.50" stop-color="#e572c9"/><stop offset="0.60" stop-color="#e056be"/><stop offset="0.75" stop-color="#da39b3"/><stop offset="1.00" stop-color="#d728ac"/></linearGradient><linearGradient id="w65" gradientUnits="userSpaceOnUse" x1="405.8" y1="1027.2" x2="496.3" y2="1121.1"><stop offset="0.00" stop-color="#ffffff"/><stop offset="0.08" stop-color="#fef9fd"/><stop offset="0.16" stop-color="#fbe8f6"/><stop offset="0.24" stop-color="#f7cfec"/><stop offset="0.32" stop-color="#f2b2e1"/><stop offset="0.40" stop-color="#ec93d5"/><stop offset="0.50" stop-color="#e66fc7"/><stop offset="0.60" stop-color="#e153bc"/><stop offset="0.75" stop-color="#dc37b1"/><stop offset="1.00" stop-color="#d925aa"/></linearGradient><linearGradient id="w66" gradientUnits="userSpaceOnUse" x1="405.8" y1="1027.2" x2="500.9" y2="1119.2"><stop offset="0.00" stop-color="#ffffff"/><stop offset="0.08" stop-color="#fef9fd"/><stop offset="0.16" stop-color="#fbe8f6"/><stop offset="0.24" stop-color="#f7ceec"/><stop offset="0.32" stop-color="#f2b0e0"/><stop offset="0.40" stop-color="#ed90d3"/><stop offset="0.50" stop-color="#e86cc5"/><stop offset="0.60" stop-color="#e34fba"/><stop offset="0.75" stop-color="#df34af"/><stop offset="1.00" stop-color="#dc23a8"/></linearGradient><linearGradient id="w67" gradientUnits="userSpaceOnUse" x1="405.8" y1="1027.2" x2="505.6" y2="1117.2"><stop offset="0.00" stop-color="#ffffff"/><stop offset="0.08" stop-color="#fef9fc"/><stop offset="0.16" stop-color="#fbe7f5"/><stop offset="0.24" stop-color="#f8cdeb"/><stop offset="0.32" stop-color="#f3adde"/><stop offset="0.40" stop-color="#ee8dd1"/><stop offset="0.50" stop-color="#e969c3"/><stop offset="0.60" stop-color="#e54cb7"/><stop offset="0.75" stop-color="#e131ad"/><stop offset="1.00" stop-color="#de21a6"/></linearGradient><linearGradient id="w68" gradientUnits="userSpaceOnUse" x1="405.8" y1="1027.2" x2="510.4" y2="1115.2"><stop offset="0.00" stop-color="#ffffff"/><stop offset="0.08" stop-color="#fef9fc"/><stop offset="0.16" stop-color="#fce6f5"/><stop offset="0.24" stop-color="#f8cbea"/><stop offset="0.32" stop-color="#f4abdd"/><stop offset="0.40" stop-color="#ef8ad0"/><stop offset="0.50" stop-color="#ea65c1"/><stop offset="0.60" stop-color="#e648b5"/><stop offset="0.75" stop-color="#e32eaa"/><stop offset="1.00" stop-color="#e11ea4"/></linearGradient><linearGradient id="w69" gradientUnits="userSpaceOnUse" x1="405.8" y1="1027.2" x2="515.4" y2="1113.1"><stop offset="0.00" stop-color="#ffffff"/><stop offset="0.08" stop-color="#fef8fc"/><stop offset="0.16" stop-color="#fce5f4"/><stop offset="0.24" stop-color="#f8c9e9"/><stop offset="0.32" stop-color="#f4a8db"/><stop offset="0.40" stop-color="#f086cd"/><stop offset="0.50" stop-color="#eb61be"/><stop offset="0.60" stop-color="#e845b2"/><stop offset="0.75" stop-color="#e52aa8"/><stop offset="1.00" stop-color="#e31ca2"/></linearGradient><linearGradient id="w70" gradientUnits="userSpaceOnUse" x1="405.8" y1="1027.2" x2="520.5" y2="1111.0"><stop offset="0.00" stop-color="#ffffff"/><stop offset="0.08" stop-color="#fef8fc"/><stop offset="0.16" stop-color="#fce4f4"/><stop offset="0.24" stop-color="#f9c7e8"/><stop offset="0.32" stop-color="#f5a5d9"/><stop offset="0.40" stop-color="#f183cb"/><stop offset="0.50" stop-color="#ed5dbb"/><stop offset="0.60" stop-color="#e940b0"/><stop offset="0.75" stop-color="#e727a5"/><stop offset="1.00" stop-color="#e5199f"/></linearGradient><linearGradient id="w71" gradientUnits="userSpaceOnUse" x1="405.8" y1="1027.2" x2="525.8" y2="1108.8"><stop offset="0.00" stop-color="#ffffff"/><stop offset="0.08" stop-color="#fef8fc"/><stop offset="0.16" stop-color="#fce3f3"/><stop offset="0.24" stop-color="#f9c5e6"/><stop offset="0.32" stop-color="#f5a2d8"/><stop offset="0.40" stop-color="#f27fc9"/><stop offset="0.50" stop-color="#ee58b9"/><stop offset="0.60" stop-color="#eb3cad"/><stop offset="0.75" stop-color="#e924a2"/><stop offset="1.00" stop-color="#e7179d"/></linearGradient><linearGradient id="w72" gradientUnits="userSpaceOnUse" x1="405.8" y1="1027.2" x2="531.3" y2="1106.5"><stop offset="0.00" stop-color="#ffffff"/><stop offset="0.08" stop-color="#fef7fc"/><stop offset="0.16" stop-color="#fce2f2"/><stop offset="0.24" stop-color="#f9c2e5"/><stop offset="0.32" stop-color="#f69ed5"/><stop offset="0.40" stop-color="#f37ac6"/><stop offset="0.50" stop-color="#ef54b6"/><stop offset="0.60" stop-color="#ed38aa"/><stop offset="0.75" stop-color="#eb20a0"/><stop offset="1.00" stop-color="#ea159b"/></linearGradient><linearGradient id="w73" gradientUnits="userSpaceOnUse" x1="405.8" y1="1027.2" x2="537.1" y2="1104.1"><stop offset="0.00" stop-color="#ffffff"/><stop offset="0.08" stop-color="#fef7fb"/><stop offset="0.16" stop-color="#fde0f2"/><stop offset="0.24" stop-color="#fabfe3"/><stop offset="0.32" stop-color="#f79ad3"/><stop offset="0.40" stop-color="#f475c3"/><stop offset="0.50" stop-color="#f14fb3"/><stop offset="0.60" stop-color="#ee33a7"/><stop offset="0.75" stop-color="#ed1c9d"/><stop offset="1.00" stop-color="#ec1299"/></linearGradient><linearGradient id="w74" gradientUnits="userSpaceOnUse" x1="405.8" y1="1027.2" x2="543.1" y2="1101.6"><stop offset="0.00" stop-color="#ffffff"/><stop offset="0.08" stop-color="#fef6fb"/><stop offset="0.16" stop-color="#fddff1"/><stop offset="0.24" stop-color="#fabce2"/><stop offset="0.32" stop-color="#f895d1"/><stop offset="0.40" stop-color="#f570c0"/><stop offset="0.50" stop-color="#f249af"/><stop offset="0.60" stop-color="#f02ea4"/><stop offset="0.75" stop-color="#ef199a"/><stop offset="1.00" stop-color="#ee1096"/></linearGradient><linearGradient id="w75" gradientUnits="userSpaceOnUse" x1="405.8" y1="1027.2" x2="549.3" y2="1099.0"><stop offset="0.00" stop-color="#ffffff"/><stop offset="0.08" stop-color="#fef6fb"/><stop offset="0.16" stop-color="#fdddef"/><stop offset="0.24" stop-color="#fabade"/><stop offset="0.32" stop-color="#f792cb"/><stop offset="0.40" stop-color="#f56cb9"/><stop offset="0.50" stop-color="#f246a7"/><stop offset="0.60" stop-color="#f02c9b"/><stop offset="0.75" stop-color="#ef1892"/><stop offset="1.00" stop-color="#ef118e"/></linearGradient><linearGradient id="w76" gradientUnits="userSpaceOnUse" x1="405.8" y1="1027.2" x2="555.9" y2="1096.2"><stop offset="0.00" stop-color="#ffffff"/><stop offset="0.08" stop-color="#fef6fa"/><stop offset="0.16" stop-color="#fddced"/><stop offset="0.24" stop-color="#fab7da"/><stop offset="0.32" stop-color="#f78ec5"/><stop offset="0.40" stop-color="#f568b2"/><stop offset="0.50" stop-color="#f2429f"/><stop offset="0.60" stop-color="#f12a92"/><stop offset="0.75" stop-color="#f01889"/><stop offset="1.00" stop-color="#ef1186"/></linearGradient><linearGradient id="w77" gradientUnits="userSpaceOnUse" x1="405.8" y1="1027.2" x2="562.9" y2="1093.3"><stop offset="0.00" stop-color="#ffffff"/><stop offset="0.08" stop-color="#fef5fa"/><stop offset="0.16" stop-color="#fddaeb"/><stop offset="0.24" stop-color="#fab4d6"/><stop offset="0.32" stop-color="#f78abf"/><stop offset="0.40" stop-color="#f564aa"/><stop offset="0.50" stop-color="#f33f96"/><stop offset="0.60" stop-color="#f12789"/><stop offset="0.75" stop-color="#f01780"/><stop offset="1.00" stop-color="#f0127e"/></linearGradient><linearGradient id="w78" gradientUnits="userSpaceOnUse" x1="405.8" y1="1027.2" x2="570.3" y2="1090.2"><stop offset="0.00" stop-color="#ffffff"/><stop offset="0.08" stop-color="#fef5f9"/><stop offset="0.16" stop-color="#fdd8e8"/><stop offset="0.24" stop-color="#fab0d1"/><stop offset="0.32" stop-color="#f785b8"/><stop offset="0.40" stop-color="#f55fa2"/><stop offset="0.50" stop-color="#f33b8d"/><stop offset="0.60" stop-color="#f12580"/><stop offset="0.75" stop-color="#f01778"/><stop offset="1.00" stop-color="#f01375"/></linearGradient><linearGradient id="w79" gradientUnits="userSpaceOnUse" x1="405.8" y1="1027.2" x2="578.2" y2="1086.9"><stop offset="0.00" stop-color="#ffffff"/><stop offset="0.08" stop-color="#fef4f8"/><stop offset="0.16" stop-color="#fcd6e5"/><stop offset="0.24" stop-color="#faaccc"/><stop offset="0.32" stop-color="#f780b0"/><stop offset="0.40" stop-color="#f55a99"/><stop offset="0.50" stop-color="#f33783"/><stop offset="0.60" stop-color="#f22377"/><stop offset="0.75" stop-color="#f1176f"/><stop offset="1.00" stop-color="#f1146d"/></linearGradient><linearGradient id="w80" gradientUnits="userSpaceOnUse" x1="405.8" y1="1027.2" x2="586.7" y2="1083.3"><stop offset="0.00" stop-color="#ffffff"/><stop offset="0.08" stop-color="#fef3f7"/><stop offset="0.16" stop-color="#fdd3e2"/><stop offset="0.24" stop-color="#faa8c5"/><stop offset="0.32" stop-color="#f87ba7"/><stop offset="0.40" stop-color="#f6558d"/><stop offset="0.50" stop-color="#f43477"/><stop offset="0.60" stop-color="#f3226b"/><stop offset="0.75" stop-color="#f21864"/><stop offset="1.00" stop-color="#f21562"/></linearGradient><linearGradient id="w81" gradientUnits="userSpaceOnUse" x1="405.8" y1="1027.2" x2="595.8" y2="1079.5"><stop offset="0.00" stop-color="#ffffff"/><stop offset="0.08" stop-color="#fef2f6"/><stop offset="0.16" stop-color="#fdd1dd"/><stop offset="0.24" stop-color="#fba4bc"/><stop offset="0.32" stop-color="#f9769a"/><stop offset="0.40" stop-color="#f7517f"/><stop offset="0.50" stop-color="#f53268"/><stop offset="0.60" stop-color="#f4215c"/><stop offset="0.75" stop-color="#f41956"/><stop offset="1.00" stop-color="#f41755"/></linearGradient><linearGradient id="w82" gradientUnits="userSpaceOnUse" x1="405.8" y1="1027.2" x2="605.6" y2="1075.4"><stop offset="0.00" stop-color="#ffffff"/><stop offset="0.08" stop-color="#fef2f4"/><stop offset="0.16" stop-color="#fdced8"/><stop offset="0.24" stop-color="#fb9fb2"/><stop offset="0.32" stop-color="#f9718d"/><stop offset="0.40" stop-color="#f84c70"/><stop offset="0.50" stop-color="#f72f59"/><stop offset="0.60" stop-color="#f6214d"/><stop offset="0.75" stop-color="#f61b48"/><stop offset="1.00" stop-color="#f61a47"/></linearGradient><linearGradient id="w83" gradientUnits="userSpaceOnUse" x1="405.8" y1="1027.2" x2="610.1" y2="1069.8"><stop offset="0.00" stop-color="#ffffff"/><stop offset="0.08" stop-color="#fff1f3"/><stop offset="0.16" stop-color="#fdcdd4"/><stop offset="0.24" stop-color="#fc9eab"/><stop offset="0.32" stop-color="#fb7083"/><stop offset="0.40" stop-color="#f94c64"/><stop offset="0.50" stop-color="#f9304b"/><stop offset="0.60" stop-color="#f82340"/><stop offset="0.75" stop-color="#f81d3b"/><stop offset="1.00" stop-color="#f81c3a"/></linearGradient><linearGradient id="w84" gradientUnits="userSpaceOnUse" x1="405.8" y1="1027.2" x2="605.0" y2="1062.2"><stop offset="0.00" stop-color="#ffffff"/><stop offset="0.08" stop-color="#fff2f4"/><stop offset="0.16" stop-color="#fed1d6"/><stop offset="0.24" stop-color="#fda5ae"/><stop offset="0.32" stop-color="#fb7986"/><stop offset="0.40" stop-color="#fa5566"/><stop offset="0.50" stop-color="#fa384c"/><stop offset="0.60" stop-color="#f92a3f"/><stop offset="0.75" stop-color="#f92339"/><stop offset="1.00" stop-color="#f92138"/></linearGradient><linearGradient id="w85" gradientUnits="userSpaceOnUse" x1="405.8" y1="1027.2" x2="596.4" y2="1054.5"><stop offset="0.00" stop-color="#ffffff"/><stop offset="0.08" stop-color="#fff4f5"/><stop offset="0.16" stop-color="#fed6d9"/><stop offset="0.24" stop-color="#fdadb3"/><stop offset="0.32" stop-color="#fc848c"/><stop offset="0.40" stop-color="#fb616b"/><stop offset="0.50" stop-color="#fb434f"/><stop offset="0.60" stop-color="#fa323f"/><stop offset="0.75" stop-color="#fa2937"/><stop offset="1.00" stop-color="#fa2735"/></linearGradient><linearGradient id="w86" gradientUnits="userSpaceOnUse" x1="405.8" y1="1027.2" x2="588.6" y2="1047.5"><stop offset="0.00" stop-color="#ffffff"/><stop offset="0.08" stop-color="#fff5f5"/><stop offset="0.16" stop-color="#fedadb"/><stop offset="0.24" stop-color="#feb5b7"/><stop offset="0.32" stop-color="#fd8e91"/><stop offset="0.40" stop-color="#fc6c70"/><stop offset="0.50" stop-color="#fc4d52"/><stop offset="0.60" stop-color="#fb3b40"/><stop offset="0.75" stop-color="#fb3036"/><stop offset="1.00" stop-color="#fb2d33"/></linearGradient><linearGradient id="w87" gradientUnits="userSpaceOnUse" x1="405.8" y1="1027.2" x2="581.5" y2="1041.1"><stop offset="0.00" stop-color="#ffffff"/><stop offset="0.08" stop-color="#fff6f6"/><stop offset="0.16" stop-color="#ffdede"/><stop offset="0.24" stop-color="#febcbb"/><stop offset="0.32" stop-color="#fd9796"/><stop offset="0.40" stop-color="#fd7675"/><stop offset="0.50" stop-color="#fd5755"/><stop offset="0.60" stop-color="#fc4341"/><stop offset="0.75" stop-color="#fc3634"/><stop offset="1.00" stop-color="#fc3230"/></linearGradient><linearGradient id="w88" gradientUnits="userSpaceOnUse" x1="405.8" y1="1027.2" x2="575.0" y2="1035.2"><stop offset="0.00" stop-color="#ffffff"/><stop offset="0.08" stop-color="#fff7f7"/><stop offset="0.16" stop-color="#ffe1e0"/><stop offset="0.24" stop-color="#fec3bf"/><stop offset="0.32" stop-color="#fea19c"/><stop offset="0.40" stop-color="#fd817a"/><stop offset="0.50" stop-color="#fd6259"/><stop offset="0.60" stop-color="#fd4e44"/><stop offset="0.75" stop-color="#fc3f35"/><stop offset="1.00" stop-color="#fc3a2f"/></linearGradient><linearGradient id="w89" gradientUnits="userSpaceOnUse" x1="405.8" y1="1027.2" x2="568.9" y2="1029.8"><stop offset="0.00" stop-color="#ffffff"/><stop offset="0.08" stop-color="#fff8f7"/><stop offset="0.16" stop-color="#ffe5e2"/><stop offset="0.24" stop-color="#fec9c3"/><stop offset="0.32" stop-color="#fea9a0"/><stop offset="0.40" stop-color="#fe8c7f"/><stop offset="0.50" stop-color="#fd6d5e"/><stop offset="0.60" stop-color="#fd5947"/><stop offset="0.75" stop-color="#fd4935"/><stop offset="1.00" stop-color="#fd422e"/></linearGradient><linearGradient id="w90" gradientUnits="userSpaceOnUse" x1="405.8" y1="1027.2" x2="563.3" y2="1024.7"><stop offset="0.00" stop-color="#ffffff"/><stop offset="0.08" stop-color="#fff9f8"/><stop offset="0.16" stop-color="#ffe7e3"/><stop offset="0.24" stop-color="#ffcec6"/><stop offset="0.32" stop-color="#feb1a5"/><stop offset="0.40" stop-color="#fe9684"/><stop offset="0.50" stop-color="#fe7862"/><stop offset="0.60" stop-color="#fd644a"/><stop offset="0.75" stop-color="#fd5336"/><stop offset="1.00" stop-color="#fd4b2d"/></linearGradient><linearGradient id="w91" gradientUnits="userSpaceOnUse" x1="405.8" y1="1027.2" x2="558.0" y2="1020.0"><stop offset="0.00" stop-color="#ffffff"/><stop offset="0.08" stop-color="#fff9f8"/><stop offset="0.16" stop-color="#ffeae5"/><stop offset="0.24" stop-color="#ffd3c9"/><stop offset="0.32" stop-color="#feb9a8"/><stop offset="0.40" stop-color="#fe9f88"/><stop offset="0.50" stop-color="#fe8366"/><stop offset="0.60" stop-color="#fe6f4c"/><stop offset="0.75" stop-color="#fe5d37"/><stop offset="1.00" stop-color="#fe552c"/></linearGradient><linearGradient id="w92" gradientUnits="userSpaceOnUse" x1="405.8" y1="1027.2" x2="553.1" y2="1015.6"><stop offset="0.00" stop-color="#ffffff"/><stop offset="0.08" stop-color="#fffaf9"/><stop offset="0.16" stop-color="#ffece6"/><stop offset="0.24" stop-color="#ffd8cb"/><stop offset="0.32" stop-color="#ffc0ac"/><stop offset="0.40" stop-color="#fea88c"/><stop offset="0.50" stop-color="#fe8d69"/><stop offset="0.60" stop-color="#fe794f"/><stop offset="0.75" stop-color="#fe6838"/><stop offset="1.00" stop-color="#fe5e2b"/></linearGradient><linearGradient id="w93" gradientUnits="userSpaceOnUse" x1="405.8" y1="1027.2" x2="548.4" y2="1011.4"><stop offset="0.00" stop-color="#ffffff"/><stop offset="0.08" stop-color="#fffbf9"/><stop offset="0.16" stop-color="#ffeee7"/><stop offset="0.24" stop-color="#ffdccd"/><stop offset="0.32" stop-color="#ffc6af"/><stop offset="0.40" stop-color="#ffb090"/><stop offset="0.50" stop-color="#ff976d"/><stop offset="0.60" stop-color="#ff8452"/><stop offset="0.75" stop-color="#fe7239"/><stop offset="1.00" stop-color="#fe682a"/></linearGradient><linearGradient id="w94" gradientUnits="userSpaceOnUse" x1="405.8" y1="1027.2" x2="544.0" y2="1007.5"><stop offset="0.00" stop-color="#ffffff"/><stop offset="0.08" stop-color="#fffbf9"/><stop offset="0.16" stop-color="#fff0e8"/><stop offset="0.24" stop-color="#ffdfcf"/><stop offset="0.32" stop-color="#ffccb2"/><stop offset="0.40" stop-color="#ffb793"/><stop offset="0.50" stop-color="#ffa070"/><stop offset="0.60" stop-color="#ff8e54"/><stop offset="0.75" stop-color="#ff7c3a"/><stop offset="1.00" stop-color="#ff712a"/></linearGradient><linearGradient id="w95" gradientUnits="userSpaceOnUse" x1="405.8" y1="1027.2" x2="539.9" y2="1003.7"><stop offset="0.00" stop-color="#ffffff"/><stop offset="0.08" stop-color="#fffbf9"/><stop offset="0.16" stop-color="#fff1e9"/><stop offset="0.24" stop-color="#ffe2d1"/><stop offset="0.32" stop-color="#ffd1b4"/><stop offset="0.40" stop-color="#ffbe96"/><stop offset="0.50" stop-color="#ffa873"/><stop offset="0.60" stop-color="#ff9757"/><stop offset="0.75" stop-color="#ff853b"/><stop offset="1.00" stop-color="#ff7a29"/></linearGradient><linearGradient id="w96" gradientUnits="userSpaceOnUse" x1="405.8" y1="1027.2" x2="535.9" y2="1000.1"><stop offset="0.00" stop-color="#ffffff"/><stop offset="0.08" stop-color="#fffcfa"/><stop offset="0.16" stop-color="#fff3ea"/><stop offset="0.24" stop-color="#ffe5d3"/><stop offset="0.32" stop-color="#ffd5b7"/><stop offset="0.40" stop-color="#ffc499"/><stop offset="0.50" stop-color="#ffb076"/><stop offset="0.60" stop-color="#ff9f5a"/><stop offset="0.75" stop-color="#ff8e3d"/><stop offset="1.00" stop-color="#ff8329"/></linearGradient><linearGradient id="w97" gradientUnits="userSpaceOnUse" x1="405.8" y1="1027.2" x2="532.1" y2="996.7"><stop offset="0.00" stop-color="#ffffff"/><stop offset="0.08" stop-color="#fffcfa"/><stop offset="0.16" stop-color="#fff4eb"/><stop offset="0.24" stop-color="#ffe8d4"/><stop offset="0.32" stop-color="#ffd9b9"/><stop offset="0.40" stop-color="#ffc99c"/><stop offset="0.50" stop-color="#ffb779"/><stop offset="0.60" stop-color="#ffa75d"/><stop offset="0.75" stop-color="#ff973f"/><stop offset="1.00" stop-color="#ff8c2a"/></linearGradient><linearGradient id="w98" gradientUnits="userSpaceOnUse" x1="405.8" y1="1027.2" x2="528.4" y2="993.4"><stop offset="0.00" stop-color="#ffffff"/><stop offset="0.08" stop-color="#fffcfa"/><stop offset="0.16" stop-color="#fff5ec"/><stop offset="0.24" stop-color="#ffead6"/><stop offset="0.32" stop-color="#ffddbb"/><stop offset="0.40" stop-color="#ffcf9e"/><stop offset="0.50" stop-color="#ffbe7c"/><stop offset="0.60" stop-color="#ffaf5f"/><stop offset="0.75" stop-color="#ffa040"/><stop offset="1.00" stop-color="#ff942a"/></linearGradient><linearGradient id="w99" gradientUnits="userSpaceOnUse" x1="405.8" y1="1027.2" x2="524.9" y2="990.2"><stop offset="0.00" stop-color="#ffffff"/><stop offset="0.08" stop-color="#fffdfa"/><stop offset="0.16" stop-color="#fff6ec"/><stop offset="0.24" stop-color="#ffecd7"/><stop offset="0.32" stop-color="#ffe0bd"/><stop offset="0.40" stop-color="#ffd4a1"/><stop offset="0.50" stop-color="#ffc47f"/><stop offset="0.60" stop-color="#ffb662"/><stop offset="0.75" stop-color="#ffa842"/><stop offset="1.00" stop-color="#ff9d2a"/></linearGradient><linearGradient id="w100" gradientUnits="userSpaceOnUse" x1="405.8" y1="1027.2" x2="521.4" y2="987.1"><stop offset="0.00" stop-color="#ffffff"/><stop offset="0.08" stop-color="#fffdfa"/><stop offset="0.16" stop-color="#fff7ed"/><stop offset="0.24" stop-color="#ffeed8"/><stop offset="0.32" stop-color="#ffe3be"/><stop offset="0.40" stop-color="#ffd8a3"/><stop offset="0.50" stop-color="#ffc981"/><stop offset="0.60" stop-color="#ffbd63"/><stop offset="0.75" stop-color="#ffaf43"/><stop offset="1.00" stop-color="#ffa42a"/></linearGradient><linearGradient id="w101" gradientUnits="userSpaceOnUse" x1="405.8" y1="1027.2" x2="518.1" y2="984.2"><stop offset="0.00" stop-color="#ffffff"/><stop offset="0.08" stop-color="#fffdfa"/><stop offset="0.16" stop-color="#fff8ed"/><stop offset="0.24" stop-color="#fff0d9"/><stop offset="0.32" stop-color="#ffe6bf"/><stop offset="0.40" stop-color="#ffdba4"/><stop offset="0.50" stop-color="#ffcd83"/><stop offset="0.60" stop-color="#ffc165"/><stop offset="0.75" stop-color="#ffb444"/><stop offset="1.00" stop-color="#ffaa29"/></linearGradient><linearGradient id="w102" gradientUnits="userSpaceOnUse" x1="405.8" y1="1027.2" x2="514.9" y2="981.3"><stop offset="0.00" stop-color="#ffffff"/><stop offset="0.08" stop-color="#fffdfa"/><stop offset="0.16" stop-color="#fff8ed"/><stop offset="0.24" stop-color="#fff1d9"/><stop offset="0.32" stop-color="#ffe8c1"/><stop offset="0.40" stop-color="#ffdea5"/><stop offset="0.50" stop-color="#ffd184"/><stop offset="0.60" stop-color="#ffc666"/><stop offset="0.75" stop-color="#ffba45"/><stop offset="1.00" stop-color="#ffaf29"/></linearGradient><linearGradient id="w103" gradientUnits="userSpaceOnUse" x1="405.8" y1="1027.2" x2="511.8" y2="978.5"><stop offset="0.00" stop-color="#ffffff"/><stop offset="0.08" stop-color="#fffdfb"/><stop offset="0.16" stop-color="#fff9ee"/><stop offset="0.24" stop-color="#fff2da"/><stop offset="0.32" stop-color="#ffeac1"/><stop offset="0.40" stop-color="#ffe1a7"/><stop offset="0.50" stop-color="#ffd585"/><stop offset="0.60" stop-color="#ffcb67"/><stop offset="0.75" stop-color="#ffbf45"/><stop offset="1.00" stop-color="#ffb528"/></linearGradient><linearGradient id="w104" gradientUnits="userSpaceOnUse" x1="405.8" y1="1027.2" x2="508.7" y2="975.7"><stop offset="0.00" stop-color="#ffffff"/><stop offset="0.08" stop-color="#fffefb"/><stop offset="0.16" stop-color="#fffaee"/><stop offset="0.24" stop-color="#fff3da"/><stop offset="0.32" stop-color="#ffecc2"/><stop offset="0.40" stop-color="#ffe3a8"/><stop offset="0.50" stop-color="#ffd986"/><stop offset="0.60" stop-color="#ffcf68"/><stop offset="0.75" stop-color="#ffc445"/><stop offset="1.00" stop-color="#ffbb28"/></linearGradient><linearGradient id="w105" gradientUnits="userSpaceOnUse" x1="405.8" y1="1027.2" x2="505.7" y2="973.0"><stop offset="0.00" stop-color="#ffffff"/><stop offset="0.08" stop-color="#fffefb"/><stop offset="0.16" stop-color="#fffaee"/><stop offset="0.24" stop-color="#fff4db"/><stop offset="0.32" stop-color="#ffedc3"/><stop offset="0.40" stop-color="#ffe6a8"/><stop offset="0.50" stop-color="#ffdc87"/><stop offset="0.60" stop-color="#ffd369"/><stop offset="0.75" stop-color="#ffc946"/><stop offset="1.00" stop-color="#ffc027"/></linearGradient><linearGradient id="w106" gradientUnits="userSpaceOnUse" x1="405.8" y1="1027.2" x2="502.8" y2="970.4"><stop offset="0.00" stop-color="#ffffff"/><stop offset="0.08" stop-color="#fffefb"/><stop offset="0.16" stop-color="#fffbee"/><stop offset="0.24" stop-color="#fff6db"/><stop offset="0.32" stop-color="#ffefc3"/><stop offset="0.40" stop-color="#ffe8a9"/><stop offset="0.50" stop-color="#ffdf88"/><stop offset="0.60" stop-color="#ffd769"/><stop offset="0.75" stop-color="#ffce46"/><stop offset="1.00" stop-color="#ffc626"/></linearGradient><linearGradient id="w107" gradientUnits="userSpaceOnUse" x1="405.8" y1="1027.2" x2="499.9" y2="967.7"><stop offset="0.00" stop-color="#ffffff"/><stop offset="0.08" stop-color="#fffefb"/><stop offset="0.16" stop-color="#fffbee"/><stop offset="0.24" stop-color="#fff6db"/><stop offset="0.32" stop-color="#fff1c4"/><stop offset="0.40" stop-color="#ffeaa9"/><stop offset="0.50" stop-color="#ffe388"/><stop offset="0.60" stop-color="#ffdb6a"/><stop offset="0.75" stop-color="#ffd346"/><stop offset="1.00" stop-color="#ffcb25"/></linearGradient><linearGradient id="w108" gradientUnits="userSpaceOnUse" x1="405.8" y1="1027.2" x2="497.0" y2="965.2"><stop offset="0.00" stop-color="#ffffff"/><stop offset="0.08" stop-color="#fffefb"/><stop offset="0.16" stop-color="#fffbef"/><stop offset="0.24" stop-color="#fff7dc"/><stop offset="0.32" stop-color="#fff2c4"/><stop offset="0.40" stop-color="#ffeca9"/><stop offset="0.50" stop-color="#ffe588"/><stop offset="0.60" stop-color="#ffde69"/><stop offset="0.75" stop-color="#ffd645"/><stop offset="1.00" stop-color="#fecf24"/></linearGradient><linearGradient id="w109" gradientUnits="userSpaceOnUse" x1="405.8" y1="1027.2" x2="494.2" y2="962.6"><stop offset="0.00" stop-color="#ffffff"/><stop offset="0.08" stop-color="#fffefb"/><stop offset="0.16" stop-color="#fffcef"/><stop offset="0.24" stop-color="#fff8dc"/><stop offset="0.32" stop-color="#fff3c4"/><stop offset="0.40" stop-color="#ffeea9"/><stop offset="0.50" stop-color="#fee788"/><stop offset="0.60" stop-color="#fee169"/><stop offset="0.75" stop-color="#feda44"/><stop offset="1.00" stop-color="#fed323"/></linearGradient><linearGradient id="w110" gradientUnits="userSpaceOnUse" x1="405.8" y1="1027.2" x2="491.3" y2="960.1"><stop offset="0.00" stop-color="#ffffff"/><stop offset="0.08" stop-color="#fffefb"/><stop offset="0.16" stop-color="#fffcef"/><stop offset="0.24" stop-color="#fff9db"/><stop offset="0.32" stop-color="#fff4c4"/><stop offset="0.40" stop-color="#feefa9"/><stop offset="0.50" stop-color="#fee987"/><stop offset="0.60" stop-color="#fee468"/><stop offset="0.75" stop-color="#fedd43"/><stop offset="1.00" stop-color="#fdd721"/></linearGradient><linearGradient id="w111" gradientUnits="userSpaceOnUse" x1="405.8" y1="1027.2" x2="488.5" y2="957.5"><stop offset="0.00" stop-color="#ffffff"/><stop offset="0.08" stop-color="#fffefb"/><stop offset="0.16" stop-color="#fffcee"/><stop offset="0.24" stop-color="#fff9db"/><stop offset="0.32" stop-color="#fef5c3"/><stop offset="0.40" stop-color="#fef1a9"/><stop offset="0.50" stop-color="#feeb87"/><stop offset="0.60" stop-color="#fde668"/><stop offset="0.75" stop-color="#fde042"/><stop offset="1.00" stop-color="#fddb20"/></linearGradient><linearGradient id="w112" gradientUnits="userSpaceOnUse" x1="405.8" y1="1027.2" x2="485.7" y2="955.0"><stop offset="0.00" stop-color="#ffffff"/><stop offset="0.08" stop-color="#fffefb"/><stop offset="0.16" stop-color="#fffdee"/><stop offset="0.24" stop-color="#fffadb"/><stop offset="0.32" stop-color="#fef6c3"/><stop offset="0.40" stop-color="#fef2a8"/><stop offset="0.50" stop-color="#feee86"/><stop offset="0.60" stop-color="#fde967"/><stop offset="0.75" stop-color="#fde441"/><stop offset="1.00" stop-color="#fcdf1e"/></linearGradient><linearGradient id="w113" gradientUnits="userSpaceOnUse" x1="405.8" y1="1027.2" x2="482.9" y2="952.5"><stop offset="0.00" stop-color="#ffffff"/><stop offset="0.08" stop-color="#fffefb"/><stop offset="0.16" stop-color="#fffdee"/><stop offset="0.24" stop-color="#fefadb"/><stop offset="0.32" stop-color="#fef7c3"/><stop offset="0.40" stop-color="#fef4a7"/><stop offset="0.50" stop-color="#fdf085"/><stop offset="0.60" stop-color="#fdec65"/><stop offset="0.75" stop-color="#fce73f"/><stop offset="1.00" stop-color="#fce21d"/></linearGradient><linearGradient id="w114" gradientUnits="userSpaceOnUse" x1="405.8" y1="1027.2" x2="480.1" y2="950.0"><stop offset="0.00" stop-color="#ffffff"/><stop offset="0.08" stop-color="#fffffb"/><stop offset="0.16" stop-color="#fffdee"/><stop offset="0.24" stop-color="#fefbda"/><stop offset="0.32" stop-color="#fef8c2"/><stop offset="0.40" stop-color="#fdf5a7"/><stop offset="0.50" stop-color="#fdf284"/><stop offset="0.60" stop-color="#fcee64"/><stop offset="0.75" stop-color="#fcea3e"/><stop offset="1.00" stop-color="#fbe61b"/></linearGradient><linearGradient id="w115" gradientUnits="userSpaceOnUse" x1="405.8" y1="1027.2" x2="477.3" y2="947.5"><stop offset="0.00" stop-color="#ffffff"/><stop offset="0.08" stop-color="#fffffb"/><stop offset="0.16" stop-color="#fffdee"/><stop offset="0.24" stop-color="#fefcda"/><stop offset="0.32" stop-color="#fef9c1"/><stop offset="0.40" stop-color="#fdf7a5"/><stop offset="0.50" stop-color="#fdf482"/><stop offset="0.60" stop-color="#fcf162"/><stop offset="0.75" stop-color="#fbed3c"/><stop offset="1.00" stop-color="#fbea19"/></linearGradient><linearGradient id="w116" gradientUnits="userSpaceOnUse" x1="405.8" y1="1027.2" x2="474.5" y2="944.9"><stop offset="0.00" stop-color="#ffffff"/><stop offset="0.08" stop-color="#fffffb"/><stop offset="0.16" stop-color="#fffeee"/><stop offset="0.24" stop-color="#fefcda"/><stop offset="0.32" stop-color="#fdfac1"/><stop offset="0.40" stop-color="#fcf7a5"/><stop offset="0.50" stop-color="#fbf582"/><stop offset="0.60" stop-color="#faf261"/><stop offset="0.75" stop-color="#f9ef3b"/><stop offset="1.00" stop-color="#f8ec18"/></linearGradient><linearGradient id="w117" gradientUnits="userSpaceOnUse" x1="405.8" y1="1027.2" x2="471.6" y2="942.3"><stop offset="0.00" stop-color="#ffffff"/><stop offset="0.08" stop-color="#fffffb"/><stop offset="0.16" stop-color="#fefdee"/><stop offset="0.24" stop-color="#fdfcda"/><stop offset="0.32" stop-color="#fcfac0"/><stop offset="0.40" stop-color="#fbf7a5"/><stop offset="0.50" stop-color="#f9f481"/><stop offset="0.60" stop-color="#f8f161"/><stop offset="0.75" stop-color="#f6ee3b"/><stop offset="1.00" stop-color="#f5eb19"/></linearGradient><linearGradient id="w118" gradientUnits="userSpaceOnUse" x1="405.8" y1="1027.2" x2="468.7" y2="939.7"><stop offset="0.00" stop-color="#ffffff"/><stop offset="0.08" stop-color="#fffffa"/><stop offset="0.16" stop-color="#fefded"/><stop offset="0.24" stop-color="#fdfcd9"/><stop offset="0.32" stop-color="#fbf9c0"/><stop offset="0.40" stop-color="#f9f7a4"/><stop offset="0.50" stop-color="#f7f481"/><stop offset="0.60" stop-color="#f5f161"/><stop offset="0.75" stop-color="#f3ed3c"/><stop offset="1.00" stop-color="#f1ea1a"/></linearGradient><linearGradient id="w119" gradientUnits="userSpaceOnUse" x1="405.8" y1="1027.2" x2="465.7" y2="937.1"><stop offset="0.00" stop-color="#ffffff"/><stop offset="0.08" stop-color="#fffffa"/><stop offset="0.16" stop-color="#fefded"/><stop offset="0.24" stop-color="#fcfbd9"/><stop offset="0.32" stop-color="#faf9c0"/><stop offset="0.40" stop-color="#f8f6a4"/><stop offset="0.50" stop-color="#f5f381"/><stop offset="0.60" stop-color="#f2f061"/><stop offset="0.75" stop-color="#f0ed3c"/><stop offset="1.00" stop-color="#edea1b"/></linearGradient><linearGradient id="w120" gradientUnits="userSpaceOnUse" x1="405.8" y1="1027.2" x2="462.7" y2="934.4"><stop offset="0.00" stop-color="#ffffff"/><stop offset="0.08" stop-color="#fffffa"/><stop offset="0.16" stop-color="#fdfded"/><stop offset="0.24" stop-color="#fbfbd9"/><stop offset="0.32" stop-color="#f9f9bf"/><stop offset="0.40" stop-color="#f6f6a3"/><stop offset="0.50" stop-color="#f3f380"/><stop offset="0.60" stop-color="#f0f060"/><stop offset="0.75" stop-color="#ecec3c"/><stop offset="1.00" stop-color="#e9e91c"/></linearGradient><linearGradient id="w121" gradientUnits="userSpaceOnUse" x1="405.8" y1="1027.2" x2="459.7" y2="931.7"><stop offset="0.00" stop-color="#ffffff"/><stop offset="0.08" stop-color="#fefffa"/><stop offset="0.16" stop-color="#fdfded"/><stop offset="0.24" stop-color="#fbfbd8"/><stop offset="0.32" stop-color="#f8f8be"/><stop offset="0.40" stop-color="#f4f6a2"/><stop offset="0.50" stop-color="#f0f27f"/><stop offset="0.60" stop-color="#edef5f"/><stop offset="0.75" stop-color="#e9eb3b"/><stop offset="1.00" stop-color="#e5e81d"/></linearGradient><linearGradient id="w122" gradientUnits="userSpaceOnUse" x1="405.8" y1="1027.2" x2="456.5" y2="928.9"><stop offset="0.00" stop-color="#ffffff"/><stop offset="0.08" stop-color="#fefffa"/><stop offset="0.16" stop-color="#fdfded"/><stop offset="0.24" stop-color="#fafbd8"/><stop offset="0.32" stop-color="#f6f8bd"/><stop offset="0.40" stop-color="#f3f5a1"/><stop offset="0.50" stop-color="#eef27e"/><stop offset="0.60" stop-color="#eaee5e"/><stop offset="0.75" stop-color="#e5eb3b"/><stop offset="1.00" stop-color="#e1e71d"/></linearGradient><linearGradient id="w123" gradientUnits="userSpaceOnUse" x1="405.8" y1="1027.2" x2="453.3" y2="926.0"><stop offset="0.00" stop-color="#ffffff"/><stop offset="0.08" stop-color="#fefefa"/><stop offset="0.16" stop-color="#fcfdec"/><stop offset="0.24" stop-color="#f9fbd7"/><stop offset="0.32" stop-color="#f5f8bc"/><stop offset="0.40" stop-color="#f1f5a0"/><stop offset="0.50" stop-color="#ebf17c"/><stop offset="0.60" stop-color="#e7ee5d"/><stop offset="0.75" stop-color="#e2ea3a"/><stop offset="1.00" stop-color="#dde71e"/></linearGradient><linearGradient id="w124" gradientUnits="userSpaceOnUse" x1="405.8" y1="1027.2" x2="450.0" y2="923.1"><stop offset="0.00" stop-color="#ffffff"/><stop offset="0.08" stop-color="#fefefa"/><stop offset="0.16" stop-color="#fcfdec"/><stop offset="0.24" stop-color="#f8fad6"/><stop offset="0.32" stop-color="#f4f7bb"/><stop offset="0.40" stop-color="#eff49e"/><stop offset="0.50" stop-color="#e9f07b"/><stop offset="0.60" stop-color="#e4ed5c"/><stop offset="0.75" stop-color="#dee93a"/><stop offset="1.00" stop-color="#d9e61f"/></linearGradient><linearGradient id="w125" gradientUnits="userSpaceOnUse" x1="405.8" y1="1027.2" x2="446.6" y2="920.1"><stop offset="0.00" stop-color="#ffffff"/><stop offset="0.08" stop-color="#fefefa"/><stop offset="0.16" stop-color="#fbfdeb"/><stop offset="0.24" stop-color="#f7fad5"/><stop offset="0.32" stop-color="#f2f7ba"/><stop offset="0.40" stop-color="#edf49c"/><stop offset="0.50" stop-color="#e6f079"/><stop offset="0.60" stop-color="#e0ec5a"/><stop offset="0.75" stop-color="#dae839"/><stop offset="1.00" stop-color="#d5e51f"/></linearGradient><linearGradient id="w126" gradientUnits="userSpaceOnUse" x1="405.8" y1="1027.2" x2="443.1" y2="916.9"><stop offset="0.00" stop-color="#ffffff"/><stop offset="0.08" stop-color="#fefefa"/><stop offset="0.16" stop-color="#fbfdeb"/><stop offset="0.24" stop-color="#f6fad4"/><stop offset="0.32" stop-color="#f0f6b8"/><stop offset="0.40" stop-color="#eaf39b"/><stop offset="0.50" stop-color="#e3ee77"/><stop offset="0.60" stop-color="#dceb59"/><stop offset="0.75" stop-color="#d6e738"/><stop offset="1.00" stop-color="#d1e420"/></linearGradient><linearGradient id="w127" gradientUnits="userSpaceOnUse" x1="405.8" y1="1027.2" x2="439.4" y2="913.7"><stop offset="0.00" stop-color="#ffffff"/><stop offset="0.08" stop-color="#fefefa"/><stop offset="0.16" stop-color="#fafcea"/><stop offset="0.24" stop-color="#f5f9d3"/><stop offset="0.32" stop-color="#eef6b7"/><stop offset="0.40" stop-color="#e7f299"/><stop offset="0.50" stop-color="#dfed75"/><stop offset="0.60" stop-color="#d8e957"/><stop offset="0.75" stop-color="#d1e538"/><stop offset="1.00" stop-color="#cce221"/></linearGradient><linearGradient id="w128" gradientUnits="userSpaceOnUse" x1="405.8" y1="1027.2" x2="435.6" y2="910.3"><stop offset="0.00" stop-color="#ffffff"/><stop offset="0.08" stop-color="#fefef9"/><stop offset="0.16" stop-color="#fafcea"/><stop offset="0.24" stop-color="#f3f9d2"/><stop offset="0.32" stop-color="#ecf5b5"/><stop offset="0.40" stop-color="#e4f197"/><stop offset="0.50" stop-color="#dbec73"/><stop offset="0.60" stop-color="#d4e855"/><stop offset="0.75" stop-color="#cce337"/><stop offset="1.00" stop-color="#c7e123"/></linearGradient><linearGradient id="w129" gradientUnits="userSpaceOnUse" x1="405.8" y1="1027.2" x2="431.7" y2="906.8"><stop offset="0.00" stop-color="#ffffff"/><stop offset="0.08" stop-color="#fdfef9"/><stop offset="0.16" stop-color="#f9fce9"/><stop offset="0.24" stop-color="#f2f8d0"/><stop offset="0.32" stop-color="#eaf4b3"/><stop offset="0.40" stop-color="#e1ef94"/><stop offset="0.50" stop-color="#d7ea70"/><stop offset="0.60" stop-color="#cfe653"/><stop offset="0.75" stop-color="#c7e236"/><stop offset="1.00" stop-color="#c2df24"/></linearGradient><linearGradient id="w130" gradientUnits="userSpaceOnUse" x1="405.8" y1="1027.2" x2="427.5" y2="903.2"><stop offset="0.00" stop-color="#ffffff"/><stop offset="0.08" stop-color="#fdfef9"/><stop offset="0.16" stop-color="#f8fbe8"/><stop offset="0.24" stop-color="#f0f8cf"/><stop offset="0.32" stop-color="#e7f3b1"/><stop offset="0.40" stop-color="#deee91"/><stop offset="0.50" stop-color="#d3e96e"/><stop offset="0.60" stop-color="#cae451"/><stop offset="0.75" stop-color="#c2e036"/><stop offset="1.00" stop-color="#bcdd25"/></linearGradient><linearGradient id="w131" gradientUnits="userSpaceOnUse" x1="405.8" y1="1027.2" x2="423.1" y2="899.3"><stop offset="0.00" stop-color="#ffffff"/><stop offset="0.08" stop-color="#fdfef9"/><stop offset="0.16" stop-color="#f7fbe7"/><stop offset="0.24" stop-color="#eef7cd"/><stop offset="0.32" stop-color="#e4f2ae"/><stop offset="0.40" stop-color="#daed8f"/><stop offset="0.50" stop-color="#cee76b"/><stop offset="0.60" stop-color="#c5e24f"/><stop offset="0.75" stop-color="#bcde35"/><stop offset="1.00" stop-color="#b7dc26"/></linearGradient><linearGradient id="w132" gradientUnits="userSpaceOnUse" x1="405.8" y1="1027.2" x2="418.5" y2="895.3"><stop offset="0.00" stop-color="#ffffff"/><stop offset="0.08" stop-color="#fdfef8"/><stop offset="0.16" stop-color="#f6fbe6"/><stop offset="0.24" stop-color="#ecf6cb"/><stop offset="0.32" stop-color="#e1f1ab"/><stop offset="0.40" stop-color="#d6eb8b"/><stop offset="0.50" stop-color="#c9e568"/><stop offset="0.60" stop-color="#bfe04d"/><stop offset="0.75" stop-color="#b7dc35"/><stop offset="1.00" stop-color="#b2da28"/></linearGradient><linearGradient id="w133" gradientUnits="userSpaceOnUse" x1="405.8" y1="1027.2" x2="413.6" y2="891.1"><stop offset="0.00" stop-color="#ffffff"/><stop offset="0.08" stop-color="#fcfef8"/><stop offset="0.16" stop-color="#f5fae5"/><stop offset="0.24" stop-color="#eaf5c9"/><stop offset="0.32" stop-color="#deefa8"/><stop offset="0.40" stop-color="#d1e988"/><stop offset="0.50" stop-color="#c4e365"/><stop offset="0.60" stop-color="#bade4b"/><stop offset="0.75" stop-color="#b1da35"/><stop offset="1.00" stop-color="#add829"/></linearGradient><linearGradient id="w134" gradientUnits="userSpaceOnUse" x1="405.8" y1="1027.2" x2="408.4" y2="886.7"><stop offset="0.00" stop-color="#ffffff"/><stop offset="0.08" stop-color="#fcfef8"/><stop offset="0.16" stop-color="#f4fae4"/><stop offset="0.24" stop-color="#e8f4c6"/><stop offset="0.32" stop-color="#daeea5"/><stop offset="0.40" stop-color="#cde884"/><stop offset="0.50" stop-color="#bee162"/><stop offset="0.60" stop-color="#b4dc49"/><stop offset="0.75" stop-color="#acd834"/><stop offset="1.00" stop-color="#a8d72b"/></linearGradient><linearGradient id="w135" gradientUnits="userSpaceOnUse" x1="405.8" y1="1027.2" x2="402.9" y2="881.9"><stop offset="0.00" stop-color="#ffffff"/><stop offset="0.08" stop-color="#fcfdf7"/><stop offset="0.16" stop-color="#f2f9e2"/><stop offset="0.24" stop-color="#e5f3c4"/><stop offset="0.32" stop-color="#d6eca1"/><stop offset="0.40" stop-color="#c7e680"/><stop offset="0.50" stop-color="#b9df5e"/><stop offset="0.60" stop-color="#aeda47"/><stop offset="0.75" stop-color="#a6d634"/><stop offset="1.00" stop-color="#a3d52d"/></linearGradient><linearGradient id="w136" gradientUnits="userSpaceOnUse" x1="405.8" y1="1027.2" x2="397.0" y2="876.9"><stop offset="0.00" stop-color="#ffffff"/><stop offset="0.08" stop-color="#fbfdf7"/><stop offset="0.16" stop-color="#f1f9e1"/><stop offset="0.24" stop-color="#e2f2c1"/><stop offset="0.32" stop-color="#d1ea9d"/><stop offset="0.40" stop-color="#c2e37c"/><stop offset="0.50" stop-color="#b2dd5b"/><stop offset="0.60" stop-color="#a8d845"/><stop offset="0.75" stop-color="#a0d435"/><stop offset="1.00" stop-color="#9dd32e"/></linearGradient><linearGradient id="w137" gradientUnits="userSpaceOnUse" x1="405.8" y1="1027.2" x2="390.6" y2="871.6"><stop offset="0.00" stop-color="#ffffff"/><stop offset="0.08" stop-color="#fbfdf6"/><stop offset="0.16" stop-color="#eff8df"/><stop offset="0.24" stop-color="#def0bd"/><stop offset="0.32" stop-color="#cce899"/><stop offset="0.40" stop-color="#bbe178"/><stop offset="0.50" stop-color="#abda57"/><stop offset="0.60" stop-color="#a0d543"/><stop offset="0.75" stop-color="#99d235"/><stop offset="1.00" stop-color="#97d130"/></linearGradient><linearGradient id="w138" gradientUnits="userSpaceOnUse" x1="405.8" y1="1027.2" x2="383.8" y2="866.0"><stop offset="0.00" stop-color="#ffffff"/><stop offset="0.08" stop-color="#fafdf6"/><stop offset="0.16" stop-color="#ecf7dd"/><stop offset="0.24" stop-color="#daefba"/><stop offset="0.32" stop-color="#c6e694"/><stop offset="0.40" stop-color="#b4de73"/><stop offset="0.50" stop-color="#a3d754"/><stop offset="0.60" stop-color="#99d341"/><stop offset="0.75" stop-color="#92d035"/><stop offset="1.00" stop-color="#90cf32"/></linearGradient><linearGradient id="w139" gradientUnits="userSpaceOnUse" x1="405.8" y1="1027.2" x2="376.4" y2="860.1"><stop offset="0.00" stop-color="#ffffff"/><stop offset="0.08" stop-color="#f9fdf5"/><stop offset="0.16" stop-color="#eaf6da"/><stop offset="0.24" stop-color="#d5edb6"/><stop offset="0.32" stop-color="#bfe48f"/><stop offset="0.40" stop-color="#acdc6e"/><stop offset="0.50" stop-color="#9bd551"/><stop offset="0.60" stop-color="#91d040"/><stop offset="0.75" stop-color="#8cce36"/><stop offset="1.00" stop-color="#8acd34"/></linearGradient><linearGradient id="w140" gradientUnits="userSpaceOnUse" x1="405.8" y1="1027.2" x2="368.4" y2="853.8"><stop offset="0.00" stop-color="#ffffff"/><stop offset="0.08" stop-color="#f9fcf4"/><stop offset="0.16" stop-color="#e7f5d8"/><stop offset="0.24" stop-color="#cfebb1"/><stop offset="0.32" stop-color="#b8e18a"/><stop offset="0.40" stop-color="#a4d96a"/><stop offset="0.50" stop-color="#93d24e"/><stop offset="0.60" stop-color="#8ace3f"/><stop offset="0.75" stop-color="#85cc37"/><stop offset="1.00" stop-color="#84cc36"/></linearGradient><linearGradient id="w141" gradientUnits="userSpaceOnUse" x1="405.8" y1="1027.2" x2="359.7" y2="847.3"><stop offset="0.00" stop-color="#ffffff"/><stop offset="0.08" stop-color="#f8fcf4"/><stop offset="0.16" stop-color="#e4f4d5"/><stop offset="0.24" stop-color="#cae9ad"/><stop offset="0.32" stop-color="#b0de85"/><stop offset="0.40" stop-color="#9bd665"/><stop offset="0.50" stop-color="#8acf4b"/><stop offset="0.60" stop-color="#82cc3e"/><stop offset="0.75" stop-color="#7eca38"/><stop offset="1.00" stop-color="#7eca37"/></linearGradient><linearGradient id="w142" gradientUnits="userSpaceOnUse" x1="405.8" y1="1027.2" x2="350.3" y2="840.6"><stop offset="0.00" stop-color="#ffffff"/><stop offset="0.08" stop-color="#f6fcf3"/><stop offset="0.16" stop-color="#e0f2d2"/><stop offset="0.24" stop-color="#c3e7a8"/><stop offset="0.32" stop-color="#a7db7f"/><stop offset="0.40" stop-color="#92d360"/><stop offset="0.50" stop-color="#82cc49"/><stop offset="0.60" stop-color="#7bc93e"/><stop offset="0.75" stop-color="#78c83a"/><stop offset="1.00" stop-color="#77c839"/></linearGradient><linearGradient id="w143" gradientUnits="userSpaceOnUse" x1="405.8" y1="1027.2" x2="340.2" y2="833.8"><stop offset="0.00" stop-color="#ffffff"/><stop offset="0.08" stop-color="#f5fbf2"/><stop offset="0.16" stop-color="#dcf1cf"/><stop offset="0.24" stop-color="#bce4a2"/><stop offset="0.32" stop-color="#9fd87a"/><stop offset="0.40" stop-color="#89d05c"/><stop offset="0.50" stop-color="#7ac947"/><stop offset="0.60" stop-color="#74c73f"/><stop offset="0.75" stop-color="#71c63b"/><stop offset="1.00" stop-color="#71c63b"/></linearGradient><linearGradient id="w144" gradientUnits="userSpaceOnUse" x1="405.8" y1="1027.2" x2="329.3" y2="827.0"><stop offset="0.00" stop-color="#ffffff"/><stop offset="0.08" stop-color="#f4fbf0"/><stop offset="0.16" stop-color="#d8efcb"/><stop offset="0.24" stop-color="#b5e29d"/><stop offset="0.32" stop-color="#97d675"/><stop offset="0.40" stop-color="#82cd58"/><stop offset="0.50" stop-color="#74c846"/><stop offset="0.60" stop-color="#6fc63f"/><stop offset="0.75" stop-color="#6dc53d"/><stop offset="1.00" stop-color="#6dc53d"/></linearGradient><linearGradient id="w145" gradientUnits="userSpaceOnUse" x1="405.8" y1="1027.2" x2="317.7" y2="820.5"><stop offset="0.00" stop-color="#ffffff"/><stop offset="0.08" stop-color="#f3faef"/><stop offset="0.16" stop-color="#d4eec7"/><stop offset="0.24" stop-color="#b0e098"/><stop offset="0.32" stop-color="#91d470"/><stop offset="0.40" stop-color="#7dcc55"/><stop offset="0.50" stop-color="#71c745"/><stop offset="0.60" stop-color="#6dc540"/><stop offset="0.75" stop-color="#6bc53e"/><stop offset="1.00" stop-color="#6bc53e"/></linearGradient><linearGradient id="w146" gradientUnits="userSpaceOnUse" x1="405.8" y1="1027.2" x2="305.6" y2="814.4"><stop offset="0.00" stop-color="#ffffff"/><stop offset="0.08" stop-color="#f2faee"/><stop offset="0.16" stop-color="#d1edc4"/><stop offset="0.24" stop-color="#aade93"/><stop offset="0.32" stop-color="#8bd26b"/><stop offset="0.40" stop-color="#78ca52"/><stop offset="0.50" stop-color="#6ec645"/><stop offset="0.60" stop-color="#6ac541"/><stop offset="0.75" stop-color="#6ac440"/><stop offset="1.00" stop-color="#6ac440"/></linearGradient><linearGradient id="w147" gradientUnits="userSpaceOnUse" x1="405.8" y1="1027.2" x2="293.1" y2="809.4"><stop offset="0.00" stop-color="#ffffff"/><stop offset="0.08" stop-color="#f1f9ed"/><stop offset="0.16" stop-color="#cdecc0"/><stop offset="0.24" stop-color="#a5dc8e"/><stop offset="0.32" stop-color="#86d067"/><stop offset="0.40" stop-color="#74c950"/><stop offset="0.50" stop-color="#6bc545"/><stop offset="0.60" stop-color="#68c442"/><stop offset="0.75" stop-color="#68c441"/><stop offset="1.00" stop-color="#68c441"/></linearGradient><linearGradient id="w148" gradientUnits="userSpaceOnUse" x1="405.8" y1="1027.2" x2="281.1" y2="806.5"><stop offset="0.00" stop-color="#ffffff"/><stop offset="0.08" stop-color="#f0f9ec"/><stop offset="0.16" stop-color="#caebbe"/><stop offset="0.24" stop-color="#a1db8b"/><stop offset="0.32" stop-color="#82cf65"/><stop offset="0.40" stop-color="#71c850"/><stop offset="0.50" stop-color="#68c545"/><stop offset="0.60" stop-color="#66c443"/><stop offset="0.75" stop-color="#66c442"/><stop offset="1.00" stop-color="#66c442"/></linearGradient><linearGradient id="w149" gradientUnits="userSpaceOnUse" x1="405.8" y1="1027.2" x2="270.4" y2="806.9"><stop offset="0.00" stop-color="#ffffff"/><stop offset="0.08" stop-color="#eff9eb"/><stop offset="0.16" stop-color="#c8eabc"/><stop offset="0.24" stop-color="#9eda89"/><stop offset="0.32" stop-color="#7fce64"/><stop offset="0.40" stop-color="#6ec750"/><stop offset="0.50" stop-color="#66c546"/><stop offset="0.60" stop-color="#65c444"/><stop offset="0.75" stop-color="#64c444"/><stop offset="1.00" stop-color="#64c444"/></linearGradient><linearGradient id="w150" gradientUnits="userSpaceOnUse" x1="405.8" y1="1027.2" x2="261.6" y2="810.7"><stop offset="0.00" stop-color="#ffffff"/><stop offset="0.08" stop-color="#eff9ec"/><stop offset="0.16" stop-color="#c7eabc"/><stop offset="0.24" stop-color="#9cd98a"/><stop offset="0.32" stop-color="#7dce65"/><stop offset="0.40" stop-color="#6cc751"/><stop offset="0.50" stop-color="#65c448"/><stop offset="0.60" stop-color="#63c446"/><stop offset="0.75" stop-color="#63c345"/><stop offset="1.00" stop-color="#63c345"/></linearGradient><linearGradient id="w151" gradientUnits="userSpaceOnUse" x1="405.8" y1="1027.2" x2="254.7" y2="817.2"><stop offset="0.00" stop-color="#ffffff"/><stop offset="0.08" stop-color="#eff9ec"/><stop offset="0.16" stop-color="#c7eabe"/><stop offset="0.24" stop-color="#9cda8c"/><stop offset="0.32" stop-color="#7cce67"/><stop offset="0.40" stop-color="#6bc753"/><stop offset="0.50" stop-color="#63c449"/><stop offset="0.60" stop-color="#61c347"/><stop offset="0.75" stop-color="#61c347"/><stop offset="1.00" stop-color="#61c347"/></linearGradient><linearGradient id="w152" gradientUnits="userSpaceOnUse" x1="405.8" y1="1027.2" x2="249.3" y2="825.5"><stop offset="0.00" stop-color="#ffffff"/><stop offset="0.08" stop-color="#eff9ed"/><stop offset="0.16" stop-color="#c8eac0"/><stop offset="0.24" stop-color="#9dda8f"/><stop offset="0.32" stop-color="#7dce6a"/><stop offset="0.40" stop-color="#6bc755"/><stop offset="0.50" stop-color="#62c44b"/><stop offset="0.60" stop-color="#5fc348"/><stop offset="0.75" stop-color="#5fc348"/><stop offset="1.00" stop-color="#5fc348"/></linearGradient><linearGradient id="w153" gradientUnits="userSpaceOnUse" x1="405.8" y1="1027.2" x2="245.3" y2="834.9"><stop offset="0.00" stop-color="#ffffff"/><stop offset="0.08" stop-color="#f0f9ee"/><stop offset="0.16" stop-color="#caebc5"/><stop offset="0.24" stop-color="#a0dc96"/><stop offset="0.32" stop-color="#7fcf72"/><stop offset="0.40" stop-color="#6cc85d"/><stop offset="0.50" stop-color="#62c552"/><stop offset="0.60" stop-color="#60c44f"/><stop offset="0.75" stop-color="#5fc34e"/><stop offset="1.00" stop-color="#5fc34e"/></linearGradient><linearGradient id="w154" gradientUnits="userSpaceOnUse" x1="405.8" y1="1027.2" x2="242.3" y2="844.9"><stop offset="0.00" stop-color="#ffffff"/><stop offset="0.08" stop-color="#f0faf0"/><stop offset="0.16" stop-color="#ccecc9"/><stop offset="0.24" stop-color="#a3dd9d"/><stop offset="0.32" stop-color="#82d17a"/><stop offset="0.40" stop-color="#6ec965"/><stop offset="0.50" stop-color="#63c559"/><stop offset="0.60" stop-color="#60c456"/><stop offset="0.75" stop-color="#60c455"/><stop offset="1.00" stop-color="#60c455"/></linearGradient><linearGradient id="w155" gradientUnits="userSpaceOnUse" x1="405.8" y1="1027.2" x2="240.2" y2="855.2"><stop offset="0.00" stop-color="#ffffff"/><stop offset="0.08" stop-color="#f1faf1"/><stop offset="0.16" stop-color="#cfedcd"/><stop offset="0.24" stop-color="#a7dea4"/><stop offset="0.32" stop-color="#85d282"/><stop offset="0.40" stop-color="#71cb6d"/><stop offset="0.50" stop-color="#65c660"/><stop offset="0.60" stop-color="#61c55c"/><stop offset="0.75" stop-color="#60c45b"/><stop offset="1.00" stop-color="#60c45b"/></linearGradient><linearGradient id="w156" gradientUnits="userSpaceOnUse" x1="405.8" y1="1027.2" x2="238.7" y2="865.4"><stop offset="0.00" stop-color="#ffffff"/><stop offset="0.08" stop-color="#f2faf2"/><stop offset="0.16" stop-color="#d1eed2"/><stop offset="0.24" stop-color="#aae0ab"/><stop offset="0.32" stop-color="#89d48a"/><stop offset="0.40" stop-color="#73cc75"/><stop offset="0.50" stop-color="#66c768"/><stop offset="0.60" stop-color="#61c563"/><stop offset="0.75" stop-color="#60c562"/><stop offset="1.00" stop-color="#60c562"/></linearGradient><linearGradient id="w157" gradientUnits="userSpaceOnUse" x1="405.8" y1="1027.2" x2="237.7" y2="875.5"><stop offset="0.00" stop-color="#ffffff"/><stop offset="0.08" stop-color="#f3fbf3"/><stop offset="0.16" stop-color="#d4efd6"/><stop offset="0.24" stop-color="#aee1b2"/><stop offset="0.32" stop-color="#8dd592"/><stop offset="0.40" stop-color="#76cd7d"/><stop offset="0.50" stop-color="#67c86f"/><stop offset="0.60" stop-color="#62c66a"/><stop offset="0.75" stop-color="#61c568"/><stop offset="1.00" stop-color="#60c568"/></linearGradient><linearGradient id="w158" gradientUnits="userSpaceOnUse" x1="405.8" y1="1027.2" x2="237.2" y2="885.2"><stop offset="0.00" stop-color="#ffffff"/><stop offset="0.08" stop-color="#f4fbf5"/><stop offset="0.16" stop-color="#d6f0da"/><stop offset="0.24" stop-color="#b1e3b8"/><stop offset="0.32" stop-color="#90d79a"/><stop offset="0.40" stop-color="#79cf85"/><stop offset="0.50" stop-color="#69c976"/><stop offset="0.60" stop-color="#63c771"/><stop offset="0.75" stop-color="#61c66f"/><stop offset="1.00" stop-color="#61c66f"/></linearGradient><linearGradient id="w159" gradientUnits="userSpaceOnUse" x1="405.8" y1="1027.2" x2="237.0" y2="894.7"><stop offset="0.00" stop-color="#ffffff"/><stop offset="0.08" stop-color="#f4fbf6"/><stop offset="0.16" stop-color="#d8f1dd"/><stop offset="0.24" stop-color="#b5e4be"/><stop offset="0.32" stop-color="#94d9a2"/><stop offset="0.40" stop-color="#7cd08d"/><stop offset="0.50" stop-color="#6bca7e"/><stop offset="0.60" stop-color="#64c778"/><stop offset="0.75" stop-color="#61c676"/><stop offset="1.00" stop-color="#61c675"/></linearGradient><linearGradient id="w160" gradientUnits="userSpaceOnUse" x1="405.8" y1="1027.2" x2="237.0" y2="903.8"><stop offset="0.00" stop-color="#ffffff"/><stop offset="0.08" stop-color="#f5fbf7"/><stop offset="0.16" stop-color="#daf2e0"/><stop offset="0.24" stop-color="#b8e6c4"/><stop offset="0.32" stop-color="#97daa9"/><stop offset="0.40" stop-color="#7fd194"/><stop offset="0.50" stop-color="#6dcb85"/><stop offset="0.60" stop-color="#65c87f"/><stop offset="0.75" stop-color="#62c77c"/><stop offset="1.00" stop-color="#61c77c"/></linearGradient><linearGradient id="w161" gradientUnits="userSpaceOnUse" x1="405.8" y1="1027.2" x2="237.2" y2="912.5"><stop offset="0.00" stop-color="#ffffff"/><stop offset="0.08" stop-color="#f5fcf7"/><stop offset="0.16" stop-color="#dcf3e3"/><stop offset="0.24" stop-color="#bbe7c9"/><stop offset="0.32" stop-color="#9bdcb0"/><stop offset="0.40" stop-color="#82d39c"/><stop offset="0.50" stop-color="#6fcc8d"/><stop offset="0.60" stop-color="#66c986"/><stop offset="0.75" stop-color="#62c883"/><stop offset="1.00" stop-color="#62c782"/></linearGradient><linearGradient id="w162" gradientUnits="userSpaceOnUse" x1="405.8" y1="1027.2" x2="237.6" y2="920.8"><stop offset="0.00" stop-color="#ffffff"/><stop offset="0.08" stop-color="#f6fcf8"/><stop offset="0.16" stop-color="#def3e6"/><stop offset="0.24" stop-color="#bee8ce"/><stop offset="0.32" stop-color="#9eddb6"/><stop offset="0.40" stop-color="#85d4a3"/><stop offset="0.50" stop-color="#71cd94"/><stop offset="0.60" stop-color="#67ca8d"/><stop offset="0.75" stop-color="#63c889"/><stop offset="1.00" stop-color="#62c889"/></linearGradient><linearGradient id="w163" gradientUnits="userSpaceOnUse" x1="405.8" y1="1027.2" x2="238.0" y2="928.8"><stop offset="0.00" stop-color="#ffffff"/><stop offset="0.08" stop-color="#f6fcf9"/><stop offset="0.16" stop-color="#dff4e8"/><stop offset="0.24" stop-color="#c0e9d2"/><stop offset="0.32" stop-color="#a1debc"/><stop offset="0.40" stop-color="#88d5aa"/><stop offset="0.50" stop-color="#73ce9b"/><stop offset="0.60" stop-color="#68ca94"/><stop offset="0.75" stop-color="#63c890"/><stop offset="1.00" stop-color="#62c88f"/></linearGradient><linearGradient id="w164" gradientUnits="userSpaceOnUse" x1="405.8" y1="1027.2" x2="238.6" y2="936.5"><stop offset="0.00" stop-color="#ffffff"/><stop offset="0.08" stop-color="#f7fcf9"/><stop offset="0.16" stop-color="#e1f4eb"/><stop offset="0.24" stop-color="#c3ead7"/><stop offset="0.32" stop-color="#a4dfc2"/><stop offset="0.40" stop-color="#8bd6b1"/><stop offset="0.50" stop-color="#75cfa3"/><stop offset="0.60" stop-color="#69cb9b"/><stop offset="0.75" stop-color="#63c897"/><stop offset="1.00" stop-color="#62c896"/></linearGradient><linearGradient id="w165" gradientUnits="userSpaceOnUse" x1="405.8" y1="1027.2" x2="239.3" y2="943.8"><stop offset="0.00" stop-color="#ffffff"/><stop offset="0.08" stop-color="#f7fcfa"/><stop offset="0.16" stop-color="#e2f5ed"/><stop offset="0.24" stop-color="#c5ebda"/><stop offset="0.32" stop-color="#a7e0c8"/><stop offset="0.40" stop-color="#8dd7b8"/><stop offset="0.50" stop-color="#77cfaa"/><stop offset="0.60" stop-color="#6acba2"/><stop offset="0.75" stop-color="#63c99d"/><stop offset="1.00" stop-color="#61c89c"/></linearGradient><linearGradient id="w166" gradientUnits="userSpaceOnUse" x1="405.8" y1="1027.2" x2="240.0" y2="950.9"><stop offset="0.00" stop-color="#ffffff"/><stop offset="0.08" stop-color="#f7fcfb"/><stop offset="0.16" stop-color="#e3f5ef"/><stop offset="0.24" stop-color="#c7ebde"/><stop offset="0.32" stop-color="#a9e1cd"/><stop offset="0.40" stop-color="#8fd8be"/><stop offset="0.50" stop-color="#78d0b0"/><stop offset="0.60" stop-color="#6bcba9"/><stop offset="0.75" stop-color="#63c9a4"/><stop offset="1.00" stop-color="#61c8a3"/></linearGradient><linearGradient id="w167" gradientUnits="userSpaceOnUse" x1="405.8" y1="1027.2" x2="240.7" y2="957.7"><stop offset="0.00" stop-color="#ffffff"/><stop offset="0.08" stop-color="#f8fcfb"/><stop offset="0.16" stop-color="#e4f6f0"/><stop offset="0.24" stop-color="#c8ece1"/><stop offset="0.32" stop-color="#abe2d2"/><stop offset="0.40" stop-color="#92d9c4"/><stop offset="0.50" stop-color="#7ad1b7"/><stop offset="0.60" stop-color="#6cccaf"/><stop offset="0.75" stop-color="#63c9ab"/><stop offset="1.00" stop-color="#61c8a9"/></linearGradient><linearGradient id="w168" gradientUnits="userSpaceOnUse" x1="405.8" y1="1027.2" x2="241.5" y2="964.2"><stop offset="0.00" stop-color="#ffffff"/><stop offset="0.08" stop-color="#f8fdfc"/><stop offset="0.16" stop-color="#e5f6f2"/><stop offset="0.24" stop-color="#caede5"/><stop offset="0.32" stop-color="#ade3d6"/><stop offset="0.40" stop-color="#94dac9"/><stop offset="0.50" stop-color="#7cd1bd"/><stop offset="0.60" stop-color="#6dccb6"/><stop offset="0.75" stop-color="#63c9b1"/><stop offset="1.00" stop-color="#60c8b0"/></linearGradient><linearGradient id="w169" gradientUnits="userSpaceOnUse" x1="405.8" y1="1027.2" x2="242.3" y2="970.5"><stop offset="0.00" stop-color="#ffffff"/><stop offset="0.08" stop-color="#f8fdfc"/><stop offset="0.16" stop-color="#e6f6f3"/><stop offset="0.24" stop-color="#ccede7"/><stop offset="0.32" stop-color="#afe3db"/><stop offset="0.40" stop-color="#96dbcf"/><stop offset="0.50" stop-color="#7dd2c4"/><stop offset="0.60" stop-color="#6ecdbd"/><stop offset="0.75" stop-color="#64c9b8"/><stop offset="1.00" stop-color="#60c8b6"/></linearGradient><linearGradient id="w170" gradientUnits="userSpaceOnUse" x1="405.8" y1="1027.2" x2="243.1" y2="976.6"><stop offset="0.00" stop-color="#ffffff"/><stop offset="0.08" stop-color="#f8fdfc"/><stop offset="0.16" stop-color="#e6f7f5"/><stop offset="0.24" stop-color="#cdeeea"/><stop offset="0.32" stop-color="#b1e4df"/><stop offset="0.40" stop-color="#98dbd4"/><stop offset="0.50" stop-color="#7fd3ca"/><stop offset="0.60" stop-color="#6fcdc3"/><stop offset="0.75" stop-color="#64c9be"/><stop offset="1.00" stop-color="#60c8bd"/></linearGradient><linearGradient id="w171" gradientUnits="userSpaceOnUse" x1="405.8" y1="1027.2" x2="243.9" y2="982.5"><stop offset="0.00" stop-color="#ffffff"/><stop offset="0.08" stop-color="#f9fdfd"/><stop offset="0.16" stop-color="#e7f7f6"/><stop offset="0.24" stop-color="#ceeeed"/><stop offset="0.32" stop-color="#b3e5e2"/><stop offset="0.40" stop-color="#99dcd9"/><stop offset="0.50" stop-color="#80d3d0"/><stop offset="0.60" stop-color="#70cec9"/><stop offset="0.75" stop-color="#64cac5"/><stop offset="1.00" stop-color="#60c8c3"/></linearGradient><linearGradient id="w172" gradientUnits="userSpaceOnUse" x1="405.8" y1="1027.2" x2="244.8" y2="988.2"><stop offset="0.00" stop-color="#ffffff"/><stop offset="0.08" stop-color="#f9fdfd"/><stop offset="0.16" stop-color="#e8f7f7"/><stop offset="0.24" stop-color="#cfefef"/><stop offset="0.32" stop-color="#b4e5e6"/><stop offset="0.40" stop-color="#9bddde"/><stop offset="0.50" stop-color="#82d4d5"/><stop offset="0.60" stop-color="#71ced0"/><stop offset="0.75" stop-color="#64cacb"/><stop offset="1.00" stop-color="#5fc8ca"/></linearGradient><linearGradient id="w173" gradientUnits="userSpaceOnUse" x1="405.8" y1="1027.2" x2="245.7" y2="993.8"><stop offset="0.00" stop-color="#ffffff"/><stop offset="0.08" stop-color="#f9fdfd"/><stop offset="0.16" stop-color="#e8f7f8"/><stop offset="0.24" stop-color="#d0eff1"/><stop offset="0.32" stop-color="#b5e6e9"/><stop offset="0.40" stop-color="#9cdde1"/><stop offset="0.50" stop-color="#82d4d9"/><stop offset="0.60" stop-color="#71ced4"/><stop offset="0.75" stop-color="#64cad0"/><stop offset="1.00" stop-color="#5fc8cf"/></linearGradient><linearGradient id="w174" gradientUnits="userSpaceOnUse" x1="405.8" y1="1027.2" x2="246.6" y2="999.2"><stop offset="0.00" stop-color="#ffffff"/><stop offset="0.08" stop-color="#f9fdfd"/><stop offset="0.16" stop-color="#e9f7f9"/><stop offset="0.24" stop-color="#d1eff2"/><stop offset="0.32" stop-color="#b6e6eb"/><stop offset="0.40" stop-color="#9ddde3"/><stop offset="0.50" stop-color="#82d4dc"/><stop offset="0.60" stop-color="#71ced7"/><stop offset="0.75" stop-color="#63c9d3"/><stop offset="1.00" stop-color="#5dc7d2"/></linearGradient><linearGradient id="w175" gradientUnits="userSpaceOnUse" x1="405.8" y1="1027.2" x2="247.5" y2="1004.5"><stop offset="0.00" stop-color="#ffffff"/><stop offset="0.08" stop-color="#f9fdfd"/><stop offset="0.16" stop-color="#e9f7f9"/><stop offset="0.24" stop-color="#d1eff3"/><stop offset="0.32" stop-color="#b7e6ec"/><stop offset="0.40" stop-color="#9ddde6"/><stop offset="0.50" stop-color="#83d4df"/><stop offset="0.60" stop-color="#70ceda"/><stop offset="0.75" stop-color="#62c9d6"/><stop offset="1.00" stop-color="#5bc6d5"/></linearGradient><linearGradient id="w176" gradientUnits="userSpaceOnUse" x1="405.8" y1="1027.2" x2="248.4" y2="1009.7"><stop offset="0.00" stop-color="#ffffff"/><stop offset="0.08" stop-color="#f9fdfe"/><stop offset="0.16" stop-color="#e9f7fa"/><stop offset="0.24" stop-color="#d2eff4"/><stop offset="0.32" stop-color="#b7e6ee"/><stop offset="0.40" stop-color="#9ddde8"/><stop offset="0.50" stop-color="#82d4e1"/><stop offset="0.60" stop-color="#70cddd"/><stop offset="0.75" stop-color="#60c8d9"/><stop offset="1.00" stop-color="#5ac6d8"/></linearGradient><linearGradient id="w177" gradientUnits="userSpaceOnUse" x1="405.8" y1="1027.2" x2="249.4" y2="1014.8"><stop offset="0.00" stop-color="#ffffff"/><stop offset="0.08" stop-color="#f9fdfe"/><stop offset="0.16" stop-color="#e9f7fa"/><stop offset="0.24" stop-color="#d2eff5"/><stop offset="0.32" stop-color="#b7e6ef"/><stop offset="0.40" stop-color="#9eddea"/><stop offset="0.50" stop-color="#82d4e4"/><stop offset="0.60" stop-color="#6fcde0"/><stop offset="0.75" stop-color="#5fc8dc"/><stop offset="1.00" stop-color="#58c5db"/></linearGradient><linearGradient id="w178" gradientUnits="userSpaceOnUse" x1="405.8" y1="1027.2" x2="250.3" y2="1019.8"><stop offset="0.00" stop-color="#ffffff"/><stop offset="0.08" stop-color="#f9fdfe"/><stop offset="0.16" stop-color="#e9f7fb"/><stop offset="0.24" stop-color="#d2eff6"/><stop offset="0.32" stop-color="#b8e6f1"/><stop offset="0.40" stop-color="#9eddec"/><stop offset="0.50" stop-color="#82d4e6"/><stop offset="0.60" stop-color="#6ecde2"/><stop offset="0.75" stop-color="#5ec7df"/><stop offset="1.00" stop-color="#56c4de"/></linearGradient><linearGradient id="w179" gradientUnits="userSpaceOnUse" x1="405.8" y1="1027.2" x2="251.3" y2="1024.7"><stop offset="0.00" stop-color="#ffffff"/><stop offset="0.08" stop-color="#f9fdfe"/><stop offset="0.16" stop-color="#e9f7fb"/><stop offset="0.24" stop-color="#d2eff7"/><stop offset="0.32" stop-color="#b8e6f2"/><stop offset="0.40" stop-color="#9eddee"/><stop offset="0.50" stop-color="#82d3e9"/><stop offset="0.60" stop-color="#6ecce5"/><stop offset="0.75" stop-color="#5dc7e2"/><stop offset="1.00" stop-color="#55c4e1"/></linearGradient></defs>
<path d="M324.3,1193.1 L324.3,1193.1 L324.2,1193.1 L324.2,1193.1 L324.1,1193.1 L324.1,1193.1 L324.0,1193.0 L323.9,1193.0 L323.9,1193.0 L323.8,1193.0 L323.7,1192.9 L323.6,1192.9 L323.5,1192.8 L323.4,1192.7 L323.3,1192.7 L323.1,1192.6 L323.0,1192.5 L322.9,1192.4 L322.7,1192.3 L322.6,1192.2 L322.4,1192.1 L322.2,1191.9 L322.0,1191.8 L321.8,1191.6 L321.6,1191.5 L321.4,1191.3 L321.1,1191.1 L320.9,1190.9 L320.6,1190.7 L320.4,1190.4 L320.1,1190.2 L319.8,1190.0 L319.5,1189.7 L319.1,1189.4 L318.8,1189.2 L318.4,1188.9 L318.0,1188.5 L317.5,1188.2 L317.0,1187.8 L316.6,1187.4 L316.0,1187.0 L315.5,1186.6 L315.0,1186.2 L314.4,1185.7 L313.8,1185.2 L313.1,1184.7 L312.5,1184.1 L311.8,1183.5 L311.0,1182.9 L310.3,1182.2 L309.5,1181.4 L308.7,1180.7 L307.9,1179.8 L307.0,1178.9 L306.1,1177.8 L305.1,1176.7 L304.1,1175.3 L303.0,1173.8 L301.8,1172.2 L300.5,1170.3 L299.2,1168.3 L297.9,1166.1 L296.4,1163.6 L294.9,1161.0 L293.4,1158.0 L291.7,1154.8 L290.0,1151.2 L288.2,1147.3 L286.3,1143.0 L284.3,1138.4 L282.2,1133.3 L280.0,1127.9 L277.7,1122.0 L275.4,1115.7 L273.0,1108.9 L270.6,1101.6 L268.1,1093.8 L265.7,1085.5 L263.3,1076.7 L260.9,1067.3 L258.5,1057.5 L256.1,1047.3 L253.7,1036.5 L251.5,1025.5 L249.2,1014.1 L247.2,1002.6 L245.2,990.8 L243.4,979.0 L241.8,967.2 L240.4,955.5 L239.2,943.9 L238.3,932.4 L237.6,921.3 L237.1,910.4 L236.9,899.8 L237.0,889.5 L237.4,879.6 L238.1,870.2 L239.2,861.2 L240.5,852.8 L242.2,845.0 L244.2,837.8 L246.5,831.2 L249.1,825.4 L252.0,820.4 L255.1,816.1 L258.5,812.6 L262.0,809.9 L265.7,807.9 L269.5,806.6 L273.5,805.9 L277.5,805.8 L281.6,806.1 L285.7,806.9 L289.9,808.1 L294.1,809.5 L298.3,811.1 L302.6,812.9 L306.8,814.8 L310.9,816.8 L315.1,818.9 L319.1,821.1 L323.1,823.3 L327.1,825.6 L331.0,827.9 L334.8,830.3 L338.7,832.7 L342.5,835.2 L346.3,837.8 L350.0,840.4 L353.8,843.0 L357.6,845.8 L361.3,848.5 L365.1,851.3 L368.8,854.2 L372.6,857.1 L376.3,860.0 L380.0,862.9 L383.7,865.9 L387.4,868.9 L391.1,872.0 L394.8,875.1 L398.5,878.2 L402.2,881.3 L405.9,884.4 L409.6,887.6 L413.3,890.8 L417.0,894.0 L420.7,897.2 L424.4,900.4 L428.1,903.7 L431.8,906.9 L435.5,910.2 L439.1,913.4 L442.8,916.7 L446.5,920.0 L450.2,923.2 L453.9,926.5 L457.5,929.7 L461.2,933.0 L464.8,936.3 L468.4,939.5 L472.1,942.7 L475.7,946.0 L479.2,949.2 L482.8,952.4 L486.3,955.5 L489.8,958.7 L493.3,961.8 L496.8,965.0 L500.2,968.1 L503.6,971.1 L507.0,974.2 L510.4,977.2 L513.7,980.2 L516.9,983.1 L520.2,986.0 L523.4,988.9 L526.5,991.7 L529.6,994.5 L532.7,997.2 L535.7,999.9 L538.6,1002.6 L541.5,1005.1 L544.3,1007.7 L547.0,1010.1 L549.6,1012.5 L552.2,1014.8 L554.7,1017.0 L557.1,1019.2 L559.5,1021.3 L561.8,1023.4 L564.1,1025.5 L566.3,1027.4 L568.4,1029.4 L570.4,1031.2 L572.4,1033.0 L574.3,1034.6 L576.1,1036.3 L577.9,1037.8 L579.6,1039.3 L581.2,1040.8 L582.7,1042.2 L584.2,1043.5 L585.6,1044.8 L587.0,1046.0 L588.2,1047.2 L589.5,1048.3 L590.7,1049.3 L591.8,1050.4 L592.9,1051.3 L593.9,1052.2 L594.9,1053.1 L595.8,1054.0 L596.7,1054.8 L597.6,1055.5 L598.4,1056.3 L599.2,1057.0 L599.9,1057.6 L600.6,1058.3 L601.3,1058.9 L602.0,1059.5 L602.7,1060.1 L603.3,1060.7 L603.9,1061.3 L604.5,1061.8 L605.1,1062.3 L605.6,1062.8 L606.1,1063.2 L606.6,1063.7 L607.1,1064.1 L607.5,1064.5 L608.0,1064.9 L608.4,1065.3 L608.8,1065.6 L609.2,1065.9 L609.5,1066.3 L609.8,1066.5 L610.1,1066.8 L610.4,1067.1 L610.7,1067.3 L611.0,1067.6 L611.2,1067.8 L611.4,1068.0 L611.7,1068.2 L611.9,1068.4 L612.1,1068.6 L612.3,1068.8 L612.4,1068.9 L612.6,1069.1 L612.8,1069.2 L612.9,1069.3 L613.1,1069.5 L613.2,1069.6 L613.3,1069.7 L613.4,1069.8 L613.6,1069.9 L613.7,1070.0 L613.8,1070.1 L613.9,1070.2 L613.9,1070.3 L614.0,1070.3 L614.1,1070.4 L614.2,1070.5 L614.2,1070.5 L614.3,1070.6 L614.3,1070.6 L614.4,1070.7 L614.4,1070.7 L614.5,1070.8 L614.5,1070.8 L614.6,1070.8 L614.6,1070.9 L614.6,1070.9 L614.7,1070.9 L614.7,1071.0 L614.7,1071.0 L614.8,1071.0 L614.8,1071.0 L614.8,1071.1 L614.9,1071.1 L614.9,1071.1 L614.9,1071.1 L614.9,1071.2 L615.0,1071.2 L615.0,1071.2 L615.0,1071.3 L615.1,1071.3 L615.1,1071.3 L615.2,1071.4 L615.2,1071.4 L607.9,1074.4 L600.7,1077.5 L593.4,1080.5 L586.1,1083.6 L578.8,1086.6 L571.6,1089.7 L564.3,1092.7 L557.0,1095.7 L549.8,1098.8 L542.5,1101.8 L535.2,1104.9 L527.9,1107.9 L520.7,1110.9 L513.4,1114.0 L506.1,1117.0 L498.9,1120.1 L491.6,1123.1 L484.3,1126.1 L477.0,1129.2 L469.8,1132.2 L462.5,1135.3 L455.2,1138.3 L447.9,1141.4 L440.7,1144.4 L433.4,1147.4 L426.1,1150.5 L418.9,1153.5 L411.6,1156.6 L404.3,1159.6 L397.0,1162.6 L389.8,1165.7 L382.5,1168.7 L375.2,1171.8 L368.0,1174.8 L360.7,1177.9 L353.4,1180.9 L346.1,1183.9 L338.9,1187.0 L331.6,1190.0 Z" fill="none" stroke="#000" stroke-width="4" stroke-linejoin="round" filter="url(#bl2)"/>
<g filter="url(#bl3)"><g clip-path="url(#hs)"><g filter="url(#bl2)"><path d="M405.8,1027.2 L247.2,1027.2 L248.2,1032.1 Z" fill="url(#w0)" stroke="url(#w0)" stroke-width="0.8"/><path d="M405.8,1027.2 L248.2,1032.1 L249.2,1037.1 Z" fill="url(#w1)" stroke="url(#w1)" stroke-width="0.8"/><path d="M405.8,1027.2 L249.2,1037.1 L250.3,1041.9 Z" fill="url(#w2)" stroke="url(#w2)" stroke-width="0.8"/><path d="M405.8,1027.2 L250.3,1041.9 L251.4,1046.8 Z" fill="url(#w3)" stroke="url(#w3)" stroke-width="0.8"/><path d="M405.8,1027.2 L251.4,1046.8 L252.5,1051.6 Z" fill="url(#w4)" stroke="url(#w4)" stroke-width="0.8"/><path d="M405.8,1027.2 L252.5,1051.6 L253.6,1056.4 Z" fill="url(#w5)" stroke="url(#w5)" stroke-width="0.8"/><path d="M405.8,1027.2 L253.6,1056.4 L254.7,1061.2 Z" fill="url(#w6)" stroke="url(#w6)" stroke-width="0.8"/><path d="M405.8,1027.2 L254.7,1061.2 L255.9,1066.0 Z" fill="url(#w7)" stroke="url(#w7)" stroke-width="0.8"/><path d="M405.8,1027.2 L255.9,1066.0 L257.1,1070.8 Z" fill="url(#w8)" stroke="url(#w8)" stroke-width="0.8"/><path d="M405.8,1027.2 L257.1,1070.8 L258.4,1075.6 Z" fill="url(#w9)" stroke="url(#w9)" stroke-width="0.8"/><path d="M405.8,1027.2 L258.4,1075.6 L259.7,1080.5 Z" fill="url(#w10)" stroke="url(#w10)" stroke-width="0.8"/><path d="M405.8,1027.2 L259.7,1080.5 L261.0,1085.4 Z" fill="url(#w11)" stroke="url(#w11)" stroke-width="0.8"/><path d="M405.8,1027.2 L261.0,1085.4 L262.4,1090.3 Z" fill="url(#w12)" stroke="url(#w12)" stroke-width="0.8"/><path d="M405.8,1027.2 L262.4,1090.3 L263.9,1095.3 Z" fill="url(#w13)" stroke="url(#w13)" stroke-width="0.8"/><path d="M405.8,1027.2 L263.9,1095.3 L265.4,1100.3 Z" fill="url(#w14)" stroke="url(#w14)" stroke-width="0.8"/><path d="M405.8,1027.2 L265.4,1100.3 L267.0,1105.4 Z" fill="url(#w15)" stroke="url(#w15)" stroke-width="0.8"/><path d="M405.8,1027.2 L267.0,1105.4 L268.7,1110.6 Z" fill="url(#w16)" stroke="url(#w16)" stroke-width="0.8"/><path d="M405.8,1027.2 L268.7,1110.6 L270.6,1115.8 Z" fill="url(#w17)" stroke="url(#w17)" stroke-width="0.8"/><path d="M405.8,1027.2 L270.6,1115.8 L272.5,1121.1 Z" fill="url(#w18)" stroke="url(#w18)" stroke-width="0.8"/><path d="M405.8,1027.2 L272.5,1121.1 L274.6,1126.5 Z" fill="url(#w19)" stroke="url(#w19)" stroke-width="0.8"/><path d="M405.8,1027.2 L274.6,1126.5 L276.7,1132.0 Z" fill="url(#w20)" stroke="url(#w20)" stroke-width="0.8"/><path d="M405.8,1027.2 L276.7,1132.0 L279.0,1137.7 Z" fill="url(#w21)" stroke="url(#w21)" stroke-width="0.8"/><path d="M405.8,1027.2 L279.0,1137.7 L281.4,1143.4 Z" fill="url(#w22)" stroke="url(#w22)" stroke-width="0.8"/><path d="M405.8,1027.2 L281.4,1143.4 L284.0,1149.3 Z" fill="url(#w23)" stroke="url(#w23)" stroke-width="0.8"/><path d="M405.8,1027.2 L284.0,1149.3 L286.7,1155.3 Z" fill="url(#w24)" stroke="url(#w24)" stroke-width="0.8"/><path d="M405.8,1027.2 L286.7,1155.3 L289.7,1161.3 Z" fill="url(#w25)" stroke="url(#w25)" stroke-width="0.8"/><path d="M405.8,1027.2 L289.7,1161.3 L292.9,1167.4 Z" fill="url(#w26)" stroke="url(#w26)" stroke-width="0.8"/><path d="M405.8,1027.2 L292.9,1167.4 L296.5,1173.3 Z" fill="url(#w27)" stroke="url(#w27)" stroke-width="0.8"/><path d="M405.8,1027.2 L296.5,1173.3 L300.5,1179.2 Z" fill="url(#w28)" stroke="url(#w28)" stroke-width="0.8"/><path d="M405.8,1027.2 L300.5,1179.2 L305.1,1184.5 Z" fill="url(#w29)" stroke="url(#w29)" stroke-width="0.8"/><path d="M405.8,1027.2 L305.1,1184.5 L310.2,1189.3 Z" fill="url(#w30)" stroke="url(#w30)" stroke-width="0.8"/><path d="M405.8,1027.2 L310.2,1189.3 L315.8,1193.7 Z" fill="url(#w31)" stroke="url(#w31)" stroke-width="0.8"/><path d="M405.8,1027.2 L315.8,1193.7 L321.5,1198.0 Z" fill="url(#w32)" stroke="url(#w32)" stroke-width="0.8"/><path d="M405.8,1027.2 L321.5,1198.0 L331.0,1194.2 Z" fill="url(#w33)" stroke="url(#w33)" stroke-width="0.8"/><path d="M405.8,1027.2 L331.0,1194.2 L339.9,1190.5 Z" fill="url(#w34)" stroke="url(#w34)" stroke-width="0.8"/><path d="M405.8,1027.2 L339.9,1190.5 L348.2,1187.0 Z" fill="url(#w35)" stroke="url(#w35)" stroke-width="0.8"/><path d="M405.8,1027.2 L348.2,1187.0 L356.0,1183.8 Z" fill="url(#w36)" stroke="url(#w36)" stroke-width="0.8"/><path d="M405.8,1027.2 L356.0,1183.8 L363.4,1180.7 Z" fill="url(#w37)" stroke="url(#w37)" stroke-width="0.8"/><path d="M405.8,1027.2 L363.4,1180.7 L370.3,1177.8 Z" fill="url(#w38)" stroke="url(#w38)" stroke-width="0.8"/><path d="M405.8,1027.2 L370.3,1177.8 L376.9,1175.0 Z" fill="url(#w39)" stroke="url(#w39)" stroke-width="0.8"/><path d="M405.8,1027.2 L376.9,1175.0 L383.2,1172.4 Z" fill="url(#w40)" stroke="url(#w40)" stroke-width="0.8"/><path d="M405.8,1027.2 L383.2,1172.4 L389.2,1169.9 Z" fill="url(#w41)" stroke="url(#w41)" stroke-width="0.8"/><path d="M405.8,1027.2 L389.2,1169.9 L394.9,1167.5 Z" fill="url(#w42)" stroke="url(#w42)" stroke-width="0.8"/><path d="M405.8,1027.2 L394.9,1167.5 L400.4,1165.2 Z" fill="url(#w43)" stroke="url(#w43)" stroke-width="0.8"/><path d="M405.8,1027.2 L400.4,1165.2 L405.8,1162.9 Z" fill="url(#w44)" stroke="url(#w44)" stroke-width="0.8"/><path d="M405.8,1027.2 L405.8,1162.9 L410.9,1160.8 Z" fill="url(#w45)" stroke="url(#w45)" stroke-width="0.8"/><path d="M405.8,1027.2 L410.9,1160.8 L416.0,1158.7 Z" fill="url(#w46)" stroke="url(#w46)" stroke-width="0.8"/><path d="M405.8,1027.2 L416.0,1158.7 L420.9,1156.6 Z" fill="url(#w47)" stroke="url(#w47)" stroke-width="0.8"/><path d="M405.8,1027.2 L420.9,1156.6 L425.6,1154.6 Z" fill="url(#w48)" stroke="url(#w48)" stroke-width="0.8"/><path d="M405.8,1027.2 L425.6,1154.6 L430.3,1152.7 Z" fill="url(#w49)" stroke="url(#w49)" stroke-width="0.8"/><path d="M405.8,1027.2 L430.3,1152.7 L434.9,1150.8 Z" fill="url(#w50)" stroke="url(#w50)" stroke-width="0.8"/><path d="M405.8,1027.2 L434.9,1150.8 L439.4,1148.9 Z" fill="url(#w51)" stroke="url(#w51)" stroke-width="0.8"/><path d="M405.8,1027.2 L439.4,1148.9 L443.9,1147.0 Z" fill="url(#w52)" stroke="url(#w52)" stroke-width="0.8"/><path d="M405.8,1027.2 L443.9,1147.0 L448.3,1145.2 Z" fill="url(#w53)" stroke="url(#w53)" stroke-width="0.8"/><path d="M405.8,1027.2 L448.3,1145.2 L452.6,1143.4 Z" fill="url(#w54)" stroke="url(#w54)" stroke-width="0.8"/><path d="M405.8,1027.2 L452.6,1143.4 L457.0,1141.5 Z" fill="url(#w55)" stroke="url(#w55)" stroke-width="0.8"/><path d="M405.8,1027.2 L457.0,1141.5 L461.3,1139.7 Z" fill="url(#w56)" stroke="url(#w56)" stroke-width="0.8"/><path d="M405.8,1027.2 L461.3,1139.7 L465.6,1137.9 Z" fill="url(#w57)" stroke="url(#w57)" stroke-width="0.8"/><path d="M405.8,1027.2 L465.6,1137.9 L470.0,1136.1 Z" fill="url(#w58)" stroke="url(#w58)" stroke-width="0.8"/><path d="M405.8,1027.2 L470.0,1136.1 L474.3,1134.3 Z" fill="url(#w59)" stroke="url(#w59)" stroke-width="0.8"/><path d="M405.8,1027.2 L474.3,1134.3 L478.7,1132.5 Z" fill="url(#w60)" stroke="url(#w60)" stroke-width="0.8"/><path d="M405.8,1027.2 L478.7,1132.5 L483.1,1130.6 Z" fill="url(#w61)" stroke="url(#w61)" stroke-width="0.8"/><path d="M405.8,1027.2 L483.1,1130.6 L487.5,1128.7 Z" fill="url(#w62)" stroke="url(#w62)" stroke-width="0.8"/><path d="M405.8,1027.2 L487.5,1128.7 L492.1,1126.9 Z" fill="url(#w63)" stroke="url(#w63)" stroke-width="0.8"/><path d="M405.8,1027.2 L492.1,1126.9 L496.7,1124.9 Z" fill="url(#w64)" stroke="url(#w64)" stroke-width="0.8"/><path d="M405.8,1027.2 L496.7,1124.9 L501.4,1123.0 Z" fill="url(#w65)" stroke="url(#w65)" stroke-width="0.8"/><path d="M405.8,1027.2 L501.4,1123.0 L506.1,1121.0 Z" fill="url(#w66)" stroke="url(#w66)" stroke-width="0.8"/><path d="M405.8,1027.2 L506.1,1121.0 L511.0,1118.9 Z" fill="url(#w67)" stroke="url(#w67)" stroke-width="0.8"/><path d="M405.8,1027.2 L511.0,1118.9 L516.1,1116.8 Z" fill="url(#w68)" stroke="url(#w68)" stroke-width="0.8"/><path d="M405.8,1027.2 L516.1,1116.8 L521.3,1114.6 Z" fill="url(#w69)" stroke="url(#w69)" stroke-width="0.8"/><path d="M405.8,1027.2 L521.3,1114.6 L526.6,1112.4 Z" fill="url(#w70)" stroke="url(#w70)" stroke-width="0.8"/><path d="M405.8,1027.2 L526.6,1112.4 L532.2,1110.1 Z" fill="url(#w71)" stroke="url(#w71)" stroke-width="0.8"/><path d="M405.8,1027.2 L532.2,1110.1 L538.0,1107.7 Z" fill="url(#w72)" stroke="url(#w72)" stroke-width="0.8"/><path d="M405.8,1027.2 L538.0,1107.7 L544.0,1105.1 Z" fill="url(#w73)" stroke="url(#w73)" stroke-width="0.8"/><path d="M405.8,1027.2 L544.0,1105.1 L550.3,1102.5 Z" fill="url(#w74)" stroke="url(#w74)" stroke-width="0.8"/><path d="M405.8,1027.2 L550.3,1102.5 L557.0,1099.7 Z" fill="url(#w75)" stroke="url(#w75)" stroke-width="0.8"/><path d="M405.8,1027.2 L557.0,1099.7 L563.9,1096.8 Z" fill="url(#w76)" stroke="url(#w76)" stroke-width="0.8"/><path d="M405.8,1027.2 L563.9,1096.8 L571.3,1093.7 Z" fill="url(#w77)" stroke="url(#w77)" stroke-width="0.8"/><path d="M405.8,1027.2 L571.3,1093.7 L579.2,1090.4 Z" fill="url(#w78)" stroke="url(#w78)" stroke-width="0.8"/><path d="M405.8,1027.2 L579.2,1090.4 L587.6,1086.9 Z" fill="url(#w79)" stroke="url(#w79)" stroke-width="0.8"/><path d="M405.8,1027.2 L587.6,1086.9 L596.6,1083.1 Z" fill="url(#w80)" stroke="url(#w80)" stroke-width="0.8"/><path d="M405.8,1027.2 L596.6,1083.1 L606.3,1079.1 Z" fill="url(#w81)" stroke="url(#w81)" stroke-width="0.8"/><path d="M405.8,1027.2 L606.3,1079.1 L616.9,1074.7 Z" fill="url(#w82)" stroke="url(#w82)" stroke-width="0.8"/><path d="M405.8,1027.2 L616.9,1074.7 L615.6,1067.4 Z" fill="url(#w83)" stroke="url(#w83)" stroke-width="0.8"/><path d="M405.8,1027.2 L615.6,1067.4 L606.3,1059.1 Z" fill="url(#w84)" stroke="url(#w84)" stroke-width="0.8"/><path d="M405.8,1027.2 L606.3,1059.1 L597.9,1051.5 Z" fill="url(#w85)" stroke="url(#w85)" stroke-width="0.8"/><path d="M405.8,1027.2 L597.9,1051.5 L590.3,1044.7 Z" fill="url(#w86)" stroke="url(#w86)" stroke-width="0.8"/><path d="M405.8,1027.2 L590.3,1044.7 L583.3,1038.4 Z" fill="url(#w87)" stroke="url(#w87)" stroke-width="0.8"/><path d="M405.8,1027.2 L583.3,1038.4 L576.8,1032.6 Z" fill="url(#w88)" stroke="url(#w88)" stroke-width="0.8"/><path d="M405.8,1027.2 L576.8,1032.6 L570.8,1027.2 Z" fill="url(#w89)" stroke="url(#w89)" stroke-width="0.8"/><path d="M405.8,1027.2 L570.8,1027.2 L565.2,1022.2 Z" fill="url(#w90)" stroke="url(#w90)" stroke-width="0.8"/><path d="M405.8,1027.2 L565.2,1022.2 L559.9,1017.5 Z" fill="url(#w91)" stroke="url(#w91)" stroke-width="0.8"/><path d="M405.8,1027.2 L559.9,1017.5 L555.0,1013.0 Z" fill="url(#w92)" stroke="url(#w92)" stroke-width="0.8"/><path d="M405.8,1027.2 L555.0,1013.0 L550.4,1008.8 Z" fill="url(#w93)" stroke="url(#w93)" stroke-width="0.8"/><path d="M405.8,1027.2 L550.4,1008.8 L546.0,1004.9 Z" fill="url(#w94)" stroke="url(#w94)" stroke-width="0.8"/><path d="M405.8,1027.2 L546.0,1004.9 L541.8,1001.1 Z" fill="url(#w95)" stroke="url(#w95)" stroke-width="0.8"/><path d="M405.8,1027.2 L541.8,1001.1 L537.8,997.5 Z" fill="url(#w96)" stroke="url(#w96)" stroke-width="0.8"/><path d="M405.8,1027.2 L537.8,997.5 L533.9,994.0 Z" fill="url(#w97)" stroke="url(#w97)" stroke-width="0.8"/><path d="M405.8,1027.2 L533.9,994.0 L530.2,990.7 Z" fill="url(#w98)" stroke="url(#w98)" stroke-width="0.8"/><path d="M405.8,1027.2 L530.2,990.7 L526.6,987.5 Z" fill="url(#w99)" stroke="url(#w99)" stroke-width="0.8"/><path d="M405.8,1027.2 L526.6,987.5 L523.2,984.4 Z" fill="url(#w100)" stroke="url(#w100)" stroke-width="0.8"/><path d="M405.8,1027.2 L523.2,984.4 L519.8,981.4 Z" fill="url(#w101)" stroke="url(#w101)" stroke-width="0.8"/><path d="M405.8,1027.2 L519.8,981.4 L516.5,978.4 Z" fill="url(#w102)" stroke="url(#w102)" stroke-width="0.8"/><path d="M405.8,1027.2 L516.5,978.4 L513.4,975.6 Z" fill="url(#w103)" stroke="url(#w103)" stroke-width="0.8"/><path d="M405.8,1027.2 L513.4,975.6 L510.2,972.8 Z" fill="url(#w104)" stroke="url(#w104)" stroke-width="0.8"/><path d="M405.8,1027.2 L510.2,972.8 L507.2,970.0 Z" fill="url(#w105)" stroke="url(#w105)" stroke-width="0.8"/><path d="M405.8,1027.2 L507.2,970.0 L504.2,967.3 Z" fill="url(#w106)" stroke="url(#w106)" stroke-width="0.8"/><path d="M405.8,1027.2 L504.2,967.3 L501.2,964.6 Z" fill="url(#w107)" stroke="url(#w107)" stroke-width="0.8"/><path d="M405.8,1027.2 L501.2,964.6 L498.3,962.0 Z" fill="url(#w108)" stroke="url(#w108)" stroke-width="0.8"/><path d="M405.8,1027.2 L498.3,962.0 L495.4,959.4 Z" fill="url(#w109)" stroke="url(#w109)" stroke-width="0.8"/><path d="M405.8,1027.2 L495.4,959.4 L492.5,956.7 Z" fill="url(#w110)" stroke="url(#w110)" stroke-width="0.8"/><path d="M405.8,1027.2 L492.5,956.7 L489.6,954.2 Z" fill="url(#w111)" stroke="url(#w111)" stroke-width="0.8"/><path d="M405.8,1027.2 L489.6,954.2 L486.7,951.6 Z" fill="url(#w112)" stroke="url(#w112)" stroke-width="0.8"/><path d="M405.8,1027.2 L486.7,951.6 L483.8,949.0 Z" fill="url(#w113)" stroke="url(#w113)" stroke-width="0.8"/><path d="M405.8,1027.2 L483.8,949.0 L480.9,946.4 Z" fill="url(#w114)" stroke="url(#w114)" stroke-width="0.8"/><path d="M405.8,1027.2 L480.9,946.4 L478.0,943.8 Z" fill="url(#w115)" stroke="url(#w115)" stroke-width="0.8"/><path d="M405.8,1027.2 L478.0,943.8 L475.1,941.1 Z" fill="url(#w116)" stroke="url(#w116)" stroke-width="0.8"/><path d="M405.8,1027.2 L475.1,941.1 L472.1,938.5 Z" fill="url(#w117)" stroke="url(#w117)" stroke-width="0.8"/><path d="M405.8,1027.2 L472.1,938.5 L469.1,935.8 Z" fill="url(#w118)" stroke="url(#w118)" stroke-width="0.8"/><path d="M405.8,1027.2 L469.1,935.8 L466.0,933.0 Z" fill="url(#w119)" stroke="url(#w119)" stroke-width="0.8"/><path d="M405.8,1027.2 L466.0,933.0 L462.9,930.2 Z" fill="url(#w120)" stroke="url(#w120)" stroke-width="0.8"/><path d="M405.8,1027.2 L462.9,930.2 L459.7,927.4 Z" fill="url(#w121)" stroke="url(#w121)" stroke-width="0.8"/><path d="M405.8,1027.2 L459.7,927.4 L456.4,924.5 Z" fill="url(#w122)" stroke="url(#w122)" stroke-width="0.8"/><path d="M405.8,1027.2 L456.4,924.5 L453.1,921.5 Z" fill="url(#w123)" stroke="url(#w123)" stroke-width="0.8"/><path d="M405.8,1027.2 L453.1,921.5 L449.6,918.4 Z" fill="url(#w124)" stroke="url(#w124)" stroke-width="0.8"/><path d="M405.8,1027.2 L449.6,918.4 L446.1,915.3 Z" fill="url(#w125)" stroke="url(#w125)" stroke-width="0.8"/><path d="M405.8,1027.2 L446.1,915.3 L442.4,912.0 Z" fill="url(#w126)" stroke="url(#w126)" stroke-width="0.8"/><path d="M405.8,1027.2 L442.4,912.0 L438.5,908.6 Z" fill="url(#w127)" stroke="url(#w127)" stroke-width="0.8"/><path d="M405.8,1027.2 L438.5,908.6 L434.5,905.1 Z" fill="url(#w128)" stroke="url(#w128)" stroke-width="0.8"/><path d="M405.8,1027.2 L434.5,905.1 L430.4,901.4 Z" fill="url(#w129)" stroke="url(#w129)" stroke-width="0.8"/><path d="M405.8,1027.2 L430.4,901.4 L426.0,897.5 Z" fill="url(#w130)" stroke="url(#w130)" stroke-width="0.8"/><path d="M405.8,1027.2 L426.0,897.5 L421.3,893.5 Z" fill="url(#w131)" stroke="url(#w131)" stroke-width="0.8"/><path d="M405.8,1027.2 L421.3,893.5 L416.5,889.3 Z" fill="url(#w132)" stroke="url(#w132)" stroke-width="0.8"/><path d="M405.8,1027.2 L416.5,889.3 L411.3,884.8 Z" fill="url(#w133)" stroke="url(#w133)" stroke-width="0.8"/><path d="M405.8,1027.2 L411.3,884.8 L405.8,880.1 Z" fill="url(#w134)" stroke="url(#w134)" stroke-width="0.8"/><path d="M405.8,1027.2 L405.8,880.1 L399.9,875.1 Z" fill="url(#w135)" stroke="url(#w135)" stroke-width="0.8"/><path d="M405.8,1027.2 L399.9,875.1 L393.6,869.8 Z" fill="url(#w136)" stroke="url(#w136)" stroke-width="0.8"/><path d="M405.8,1027.2 L393.6,869.8 L386.8,864.2 Z" fill="url(#w137)" stroke="url(#w137)" stroke-width="0.8"/><path d="M405.8,1027.2 L386.8,864.2 L379.5,858.2 Z" fill="url(#w138)" stroke="url(#w138)" stroke-width="0.8"/><path d="M405.8,1027.2 L379.5,858.2 L371.5,851.9 Z" fill="url(#w139)" stroke="url(#w139)" stroke-width="0.8"/><path d="M405.8,1027.2 L371.5,851.9 L362.9,845.3 Z" fill="url(#w140)" stroke="url(#w140)" stroke-width="0.8"/><path d="M405.8,1027.2 L362.9,845.3 L353.6,838.5 Z" fill="url(#w141)" stroke="url(#w141)" stroke-width="0.8"/><path d="M405.8,1027.2 L353.6,838.5 L343.6,831.5 Z" fill="url(#w142)" stroke="url(#w142)" stroke-width="0.8"/><path d="M405.8,1027.2 L343.6,831.5 L332.8,824.4 Z" fill="url(#w143)" stroke="url(#w143)" stroke-width="0.8"/><path d="M405.8,1027.2 L332.8,824.4 L321.2,817.5 Z" fill="url(#w144)" stroke="url(#w144)" stroke-width="0.8"/><path d="M405.8,1027.2 L321.2,817.5 L309.0,811.0 Z" fill="url(#w145)" stroke="url(#w145)" stroke-width="0.8"/><path d="M405.8,1027.2 L309.0,811.0 L296.2,805.0 Z" fill="url(#w146)" stroke="url(#w146)" stroke-width="0.8"/><path d="M405.8,1027.2 L296.2,805.0 L283.3,800.6 Z" fill="url(#w147)" stroke="url(#w147)" stroke-width="0.8"/><path d="M405.8,1027.2 L283.3,800.6 L271.4,799.1 Z" fill="url(#w148)" stroke="url(#w148)" stroke-width="0.8"/><path d="M405.8,1027.2 L271.4,799.1 L261.3,801.4 Z" fill="url(#w149)" stroke="url(#w149)" stroke-width="0.8"/><path d="M405.8,1027.2 L261.3,801.4 L253.3,806.9 Z" fill="url(#w150)" stroke="url(#w150)" stroke-width="0.8"/><path d="M405.8,1027.2 L253.3,806.9 L247.0,814.8 Z" fill="url(#w151)" stroke="url(#w151)" stroke-width="0.8"/><path d="M405.8,1027.2 L247.0,814.8 L242.3,824.1 Z" fill="url(#w152)" stroke="url(#w152)" stroke-width="0.8"/><path d="M405.8,1027.2 L242.3,824.1 L238.7,834.2 Z" fill="url(#w153)" stroke="url(#w153)" stroke-width="0.8"/><path d="M405.8,1027.2 L238.7,834.2 L236.1,844.7 Z" fill="url(#w154)" stroke="url(#w154)" stroke-width="0.8"/><path d="M405.8,1027.2 L236.1,844.7 L234.3,855.3 Z" fill="url(#w155)" stroke="url(#w155)" stroke-width="0.8"/><path d="M405.8,1027.2 L234.3,855.3 L233.1,865.8 Z" fill="url(#w156)" stroke="url(#w156)" stroke-width="0.8"/><path d="M405.8,1027.2 L233.1,865.8 L232.3,876.0 Z" fill="url(#w157)" stroke="url(#w157)" stroke-width="0.8"/><path d="M405.8,1027.2 L232.3,876.0 L231.9,885.9 Z" fill="url(#w158)" stroke="url(#w158)" stroke-width="0.8"/><path d="M405.8,1027.2 L231.9,885.9 L231.9,895.5 Z" fill="url(#w159)" stroke="url(#w159)" stroke-width="0.8"/><path d="M405.8,1027.2 L231.9,895.5 L232.0,904.6 Z" fill="url(#w160)" stroke="url(#w160)" stroke-width="0.8"/><path d="M405.8,1027.2 L232.0,904.6 L232.3,913.4 Z" fill="url(#w161)" stroke="url(#w161)" stroke-width="0.8"/><path d="M405.8,1027.2 L232.3,913.4 L232.7,921.8 Z" fill="url(#w162)" stroke="url(#w162)" stroke-width="0.8"/><path d="M405.8,1027.2 L232.7,921.8 L233.3,929.9 Z" fill="url(#w163)" stroke="url(#w163)" stroke-width="0.8"/><path d="M405.8,1027.2 L233.3,929.9 L233.9,937.6 Z" fill="url(#w164)" stroke="url(#w164)" stroke-width="0.8"/><path d="M405.8,1027.2 L233.9,937.6 L234.6,945.0 Z" fill="url(#w165)" stroke="url(#w165)" stroke-width="0.8"/><path d="M405.8,1027.2 L234.6,945.0 L235.3,952.2 Z" fill="url(#w166)" stroke="url(#w166)" stroke-width="0.8"/><path d="M405.8,1027.2 L235.3,952.2 L236.1,959.0 Z" fill="url(#w167)" stroke="url(#w167)" stroke-width="0.8"/><path d="M405.8,1027.2 L236.1,959.0 L236.9,965.6 Z" fill="url(#w168)" stroke="url(#w168)" stroke-width="0.8"/><path d="M405.8,1027.2 L236.9,965.6 L237.8,972.0 Z" fill="url(#w169)" stroke="url(#w169)" stroke-width="0.8"/><path d="M405.8,1027.2 L237.8,972.0 L238.7,978.2 Z" fill="url(#w170)" stroke="url(#w170)" stroke-width="0.8"/><path d="M405.8,1027.2 L238.7,978.2 L239.5,984.2 Z" fill="url(#w171)" stroke="url(#w171)" stroke-width="0.8"/><path d="M405.8,1027.2 L239.5,984.2 L240.4,990.0 Z" fill="url(#w172)" stroke="url(#w172)" stroke-width="0.8"/><path d="M405.8,1027.2 L240.4,990.0 L241.4,995.6 Z" fill="url(#w173)" stroke="url(#w173)" stroke-width="0.8"/><path d="M405.8,1027.2 L241.4,995.6 L242.3,1001.2 Z" fill="url(#w174)" stroke="url(#w174)" stroke-width="0.8"/><path d="M405.8,1027.2 L242.3,1001.2 L243.2,1006.6 Z" fill="url(#w175)" stroke="url(#w175)" stroke-width="0.8"/><path d="M405.8,1027.2 L243.2,1006.6 L244.2,1011.8 Z" fill="url(#w176)" stroke="url(#w176)" stroke-width="0.8"/><path d="M405.8,1027.2 L244.2,1011.8 L245.2,1017.0 Z" fill="url(#w177)" stroke="url(#w177)" stroke-width="0.8"/><path d="M405.8,1027.2 L245.2,1017.0 L246.2,1022.1 Z" fill="url(#w178)" stroke="url(#w178)" stroke-width="0.8"/><path d="M405.8,1027.2 L246.2,1022.1 L247.2,1027.2 Z" fill="url(#w179)" stroke="url(#w179)" stroke-width="0.8"/></g></g></g>
<g filter="url(#bl)">
<path d="M235.5,777 L650.5,777 L650.5,1195.3 L235.5,1195.3 Z" fill="none" stroke="#a9a6a4" stroke-width="2"/>
<line x1="229" y1="1195.3" x2="235.5" y2="1195.3" stroke="#a9a6a4" stroke-width="2"/>
<text x="225.5" y="1200.3" font-size="17" font-weight="bold" fill="#d8d6d4" text-anchor="end" textLength="8.5" lengthAdjust="spacingAndGlyphs">0</text>
<line x1="229" y1="1055.9" x2="235.5" y2="1055.9" stroke="#a9a6a4" stroke-width="2"/>
<text x="225.5" y="1060.9" font-size="17" font-weight="bold" fill="#d8d6d4" text-anchor="end" textLength="21" lengthAdjust="spacingAndGlyphs">0.3</text>
<line x1="229" y1="916.5" x2="235.5" y2="916.5" stroke="#a9a6a4" stroke-width="2"/>
<text x="225.5" y="921.5" font-size="17" font-weight="bold" fill="#d8d6d4" text-anchor="end" textLength="21" lengthAdjust="spacingAndGlyphs">0.6</text>
<line x1="229" y1="777.1" x2="235.5" y2="777.1" stroke="#a9a6a4" stroke-width="2"/>
<text x="225.5" y="782.1" font-size="17" font-weight="bold" fill="#d8d6d4" text-anchor="end" textLength="21" lengthAdjust="spacingAndGlyphs">0.9</text>
<line x1="235.5" y1="1195.3" x2="235.5" y2="1202" stroke="#a9a6a4" stroke-width="2"/>
<text x="235.5" y="1219" font-size="17" font-weight="bold" fill="#d8d6d4" text-anchor="middle" textLength="8.5" lengthAdjust="spacingAndGlyphs">0</text>
<line x1="338.9" y1="1195.3" x2="338.9" y2="1202" stroke="#a9a6a4" stroke-width="2"/>
<text x="338.9" y="1219" font-size="17" font-weight="bold" fill="#d8d6d4" text-anchor="middle" textLength="22.5" lengthAdjust="spacingAndGlyphs">0.2</text>
<line x1="442.3" y1="1195.3" x2="442.3" y2="1202" stroke="#a9a6a4" stroke-width="2"/>
<text x="442.3" y="1219" font-size="17" font-weight="bold" fill="#d8d6d4" text-anchor="middle" textLength="22.5" lengthAdjust="spacingAndGlyphs">0.4</text>
<line x1="545.7" y1="1195.3" x2="545.7" y2="1202" stroke="#a9a6a4" stroke-width="2"/>
<text x="545.7" y="1219" font-size="17" font-weight="bold" fill="#d8d6d4" text-anchor="middle" textLength="22.5" lengthAdjust="spacingAndGlyphs">0.6</text>
<line x1="649.1" y1="1195.3" x2="649.1" y2="1202" stroke="#a9a6a4" stroke-width="2"/>
<text x="649.1" y="1219" font-size="17" font-weight="bold" fill="#d8d6d4" text-anchor="middle" textLength="22.5" lengthAdjust="spacingAndGlyphs">0.8</text>
<text x="441.5" y="1240" font-size="16" fill="#d8d6d4" text-anchor="middle">X</text>
<text transform="translate(200.5,985) rotate(-90)" font-size="18" fill="#d8d6d4" text-anchor="middle" textLength="13.5" lengthAdjust="spacingAndGlyphs">Y</text>
<text x="172.8" y="759.6" font-size="40" font-weight="bold" fill="#fff" style="font-family:'Liberation Serif',serif">b</text>
<circle cx="519.5" cy="799.7" r="4" fill="#e0303c"/>
<circle cx="519.3" cy="817.6" r="4" fill="#4a50c0"/>
<text x="529.5" y="806.5" font-size="17" font-weight="bold" fill="#e0dedc" textLength="67" lengthAdjust="spacingAndGlyphs">0.30,0.40</text>
<text x="529.5" y="824.5" font-size="17" font-weight="bold" fill="#e0dedc" textLength="67" lengthAdjust="spacingAndGlyphs">0.35,0.40</text>
<circle cx="390.2" cy="1008.5" r="5.5" fill="#e3262f"/>
<circle cx="416.1" cy="1008.5" r="5.5" fill="#3a40a8"/>
</g>
</svg></body></html>
